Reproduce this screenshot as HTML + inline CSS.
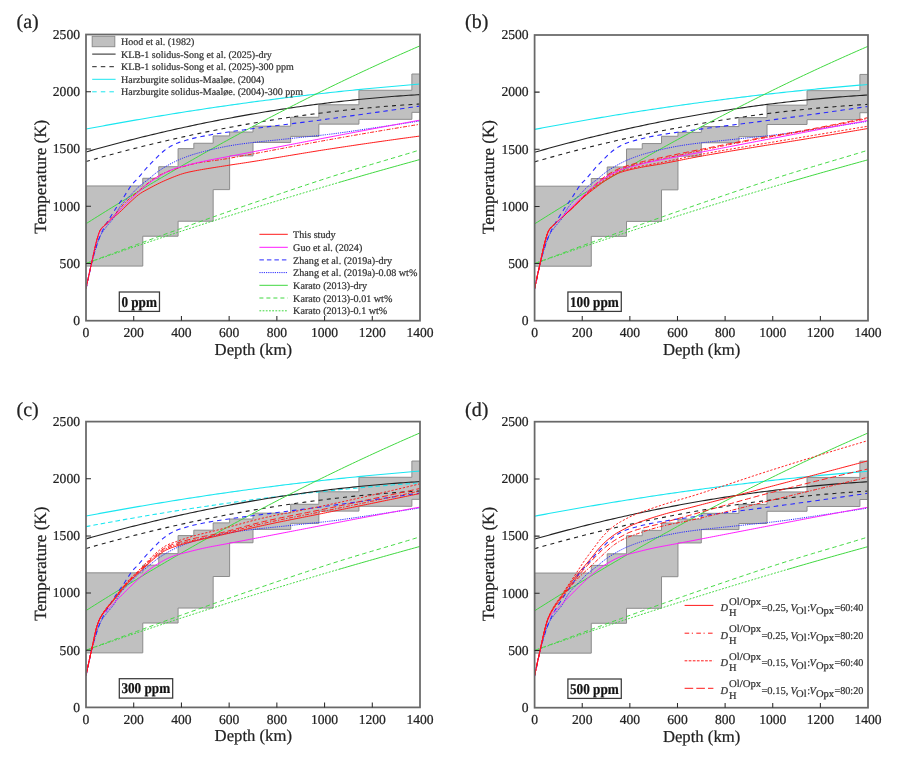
<!DOCTYPE html>
<html><head><meta charset="utf-8"><title>Figure</title>
<style>
html,body{margin:0;padding:0;background:#fff;}
svg{display:block;will-change:transform;text-rendering:geometricPrecision;}
text{font-family:"Liberation Serif","Times New Roman",serif;fill:#222;stroke:#222;stroke-width:0.22px;}
.tk{font-size:13.6px;}
.ax{font-size:17.2px;}
.pl{font-size:20px;}
.lg{font-size:10px;fill:#333;stroke:#333;}
.lg2{font-size:10.4px;fill:#333;stroke:#333;}
.pp{font-size:13.2px;font-weight:bold;fill:#111;}
</style></head><body>
<svg width="900" height="767" viewBox="0 0 900 767">
<rect width="900" height="767" fill="#fff"/>
<clipPath id="clipa"><rect x="86" y="34.5" width="334" height="286.2"/></clipPath>
<g clip-path="url(#clipa)">
<path d="M86,185.96 L142.78,185.96 L142.78,178.29 L158.76,178.29 L158.76,166.72 L178.09,166.72 L178.09,148.64 L193.83,148.64 L193.83,143.26 L213.16,143.26 L213.16,135.93 L229.62,135.93 L229.62,132.04 L253,132.04 L253,126.2 L290.69,126.2 L290.69,117.27 L318.85,117.27 L318.85,104.79 L358.93,104.79 L358.93,90.25 L411.89,90.25 L411.89,74 L420,74 L420,112.35 L411.89,112.35 L411.89,119.33 L358.93,119.33 L358.93,124.14 L318.85,124.14 L318.85,136.39 L290.69,136.39 L290.69,142.45 L253,142.45 L253,155.85 L229.62,155.85 L229.62,189.62 L213.16,189.62 L213.16,221.22 L193.83,221.22 L193.83,221.22 L178.09,221.22 L178.09,236.21 L158.76,236.21 L158.76,236.21 L142.78,236.21 L142.78,266.09 L86,266.09 Z" fill="#c0c0c0" stroke="#8c8c8c" stroke-width="1"/>
<path d="M86,129.06 L88.81,128.53 L91.61,128 L94.42,127.48 L97.23,126.95 L100.03,126.43 L102.84,125.92 L105.65,125.4 L108.45,124.89 L111.26,124.38 L114.07,123.87 L116.87,123.36 L119.68,122.86 L122.49,122.36 L125.29,121.87 L128.1,121.37 L130.91,120.88 L133.71,120.39 L136.52,119.9 L139.33,119.42 L142.13,118.94 L144.94,118.46 L147.75,117.98 L150.55,117.51 L153.36,117.04 L156.17,116.57 L158.97,116.1 L161.78,115.64 L164.59,115.18 L167.39,114.72 L170.2,114.26 L173.01,113.81 L175.82,113.36 L178.62,112.91 L181.43,112.47 L184.24,112.02 L187.04,111.58 L189.85,111.15 L192.66,110.71 L195.46,110.28 L198.27,109.85 L201.08,109.42 L203.88,109 L206.69,108.58 L209.5,108.16 L212.3,107.74 L215.11,107.32 L217.92,106.91 L220.72,106.5 L223.53,106.1 L226.34,105.69 L229.14,105.29 L231.95,104.89 L234.76,104.5 L237.56,104.1 L240.37,103.71 L243.18,103.32 L245.98,102.94 L248.79,102.55 L251.6,102.17 L254.4,101.8 L257.21,101.42 L260.02,101.05 L262.82,100.68 L265.63,100.31 L268.44,99.94 L271.24,99.58 L274.05,99.22 L276.86,98.86 L279.66,98.51 L282.47,98.16 L285.28,97.81 L288.08,97.46 L290.89,97.11 L293.7,96.77 L296.5,96.43 L299.31,96.1 L302.12,95.76 L304.92,95.43 L307.73,95.1 L310.54,94.78 L313.34,94.45 L316.15,94.13 L318.96,93.81 L321.76,93.5 L324.57,93.18 L327.38,92.87 L330.18,92.56 L332.99,92.26 L335.8,91.95 L338.61,91.65 L341.41,91.36 L344.22,91.06 L347.03,90.77 L349.83,90.48 L352.64,90.19 L355.45,89.9 L358.25,89.62 L361.06,89.34 L363.87,89.07 L366.67,88.79 L369.48,88.52 L372.29,88.25 L375.09,87.98 L377.9,87.72 L380.71,87.46 L383.51,87.2 L386.32,86.94 L389.13,86.69 L391.93,86.43 L394.74,86.19 L397.55,85.94 L400.35,85.7 L403.16,85.45 L405.97,85.22 L408.77,84.98 L411.58,84.75 L414.39,84.52 L417.19,84.29 L420,84.06" fill="none" stroke="#1ae6f0" stroke-width="1.1" stroke-linejoin="round"/>
<path d="M86,151.96 L88.81,151.16 L91.61,150.37 L94.42,149.59 L97.23,148.81 L100.03,148.04 L102.84,147.27 L105.65,146.51 L108.45,145.75 L111.26,145 L114.07,144.25 L116.87,143.51 L119.68,142.77 L122.49,142.04 L125.29,141.32 L128.1,140.6 L130.91,139.88 L133.71,139.17 L136.52,138.47 L139.33,137.77 L142.13,137.08 L144.94,136.39 L147.75,135.71 L150.55,135.03 L153.36,134.35 L156.17,133.69 L158.97,133.03 L161.78,132.37 L164.59,131.72 L167.39,131.07 L170.2,130.43 L173.01,129.8 L175.82,129.16 L178.62,128.54 L181.43,127.92 L184.24,127.31 L187.04,126.7 L189.85,126.09 L192.66,125.49 L195.46,124.9 L198.27,124.31 L201.08,123.73 L203.88,123.15 L206.69,122.58 L209.5,122.02 L212.3,121.45 L215.11,120.9 L217.92,120.35 L220.72,119.8 L223.53,119.26 L226.34,118.73 L229.14,118.2 L231.95,117.67 L234.76,117.15 L237.56,116.64 L240.37,116.13 L243.18,115.63 L245.98,115.13 L248.79,114.64 L251.6,114.15 L254.4,113.67 L257.21,113.19 L260.02,112.72 L262.82,112.25 L265.63,111.79 L268.44,111.34 L271.24,110.89 L274.05,110.44 L276.86,110 L279.66,109.57 L282.47,109.14 L285.28,108.71 L288.08,108.3 L290.89,107.88 L293.7,107.47 L296.5,107.07 L299.31,106.67 L302.12,106.28 L304.92,105.9 L307.73,105.51 L310.54,105.14 L313.34,104.77 L316.15,104.4 L318.96,104.04 L321.76,103.69 L324.57,103.34 L327.38,102.99 L330.18,102.65 L332.99,102.32 L335.8,101.99 L338.61,101.67 L341.41,101.35 L344.22,101.04 L347.03,100.73 L349.83,100.43 L352.64,100.13 L355.45,99.84 L358.25,99.55 L361.06,99.27 L363.87,99 L366.67,98.73 L369.48,98.46 L372.29,98.2 L375.09,97.95 L377.9,97.7 L380.71,97.45 L383.51,97.22 L386.32,96.98 L389.13,96.75 L391.93,96.53 L394.74,96.31 L397.55,96.1 L400.35,95.89 L403.16,95.69 L405.97,95.5 L408.77,95.31 L411.58,95.12 L414.39,94.94 L417.19,94.76 L420,94.6" fill="none" stroke="#222" stroke-width="1.1" stroke-linejoin="round"/>
<path d="M86,161.57 L88.81,160.77 L91.61,159.97 L94.42,159.18 L97.23,158.39 L100.03,157.61 L102.84,156.83 L105.65,156.06 L108.45,155.29 L111.26,154.53 L114.07,153.78 L116.87,153.03 L119.68,152.28 L122.49,151.54 L125.29,150.81 L128.1,150.08 L130.91,149.36 L133.71,148.64 L136.52,147.93 L139.33,147.22 L142.13,146.52 L144.94,145.83 L147.75,145.14 L150.55,144.45 L153.36,143.77 L156.17,143.1 L158.97,142.43 L161.78,141.77 L164.59,141.11 L167.39,140.46 L170.2,139.81 L173.01,139.17 L175.82,138.53 L178.62,137.9 L181.43,137.28 L184.24,136.66 L187.04,136.04 L189.85,135.44 L192.66,134.83 L195.46,134.23 L198.27,133.64 L201.08,133.06 L203.88,132.47 L206.69,131.9 L209.5,131.33 L212.3,130.76 L215.11,130.2 L217.92,129.65 L220.72,129.1 L223.53,128.55 L226.34,128.02 L229.14,127.48 L231.95,126.96 L234.76,126.43 L237.56,125.92 L240.37,125.41 L243.18,124.9 L245.98,124.4 L248.79,123.91 L251.6,123.42 L254.4,122.93 L257.21,122.46 L260.02,121.98 L262.82,121.51 L265.63,121.05 L268.44,120.6 L271.24,120.14 L274.05,119.7 L276.86,119.26 L279.66,118.82 L282.47,118.39 L285.28,117.97 L288.08,117.55 L290.89,117.14 L293.7,116.73 L296.5,116.33 L299.31,115.93 L302.12,115.54 L304.92,115.15 L307.73,114.77 L310.54,114.4 L313.34,114.03 L316.15,113.66 L318.96,113.3 L321.76,112.95 L324.57,112.6 L327.38,112.26 L330.18,111.92 L332.99,111.59 L335.8,111.26 L338.61,110.94 L341.41,110.63 L344.22,110.32 L347.03,110.01 L349.83,109.71 L352.64,109.42 L355.45,109.13 L358.25,108.85 L361.06,108.57 L363.87,108.3 L366.67,108.03 L369.48,107.77 L372.29,107.51 L375.09,107.26 L377.9,107.02 L380.71,106.78 L383.51,106.54 L386.32,106.31 L389.13,106.09 L391.93,105.87 L394.74,105.66 L397.55,105.45 L400.35,105.25 L403.16,105.05 L405.97,104.86 L408.77,104.68 L411.58,104.5 L414.39,104.32 L417.19,104.15 L420,103.99" fill="none" stroke="#222" stroke-width="1.1" stroke-dasharray="4 4.2" stroke-linejoin="round"/>
<path d="M86,223.74 L88.81,221.96 L91.61,220.19 L94.42,218.43 L97.23,216.67 L100.03,214.92 L102.84,213.17 L105.65,211.42 L108.45,209.68 L111.26,207.94 L114.07,206.21 L116.87,204.49 L119.68,202.77 L122.49,201.05 L125.29,199.34 L128.1,197.63 L130.91,195.93 L133.71,194.23 L136.52,192.54 L139.33,190.85 L142.13,189.16 L144.94,187.48 L147.75,185.81 L150.55,184.14 L153.36,182.48 L156.17,180.82 L158.97,179.16 L161.78,177.51 L164.59,175.86 L167.39,174.22 L170.2,172.59 L173.01,170.95 L175.82,169.33 L178.62,167.7 L181.43,166.09 L184.24,164.47 L187.04,162.86 L189.85,161.26 L192.66,159.66 L195.46,158.07 L198.27,156.48 L201.08,154.89 L203.88,153.31 L206.69,151.74 L209.5,150.17 L212.3,148.6 L215.11,147.04 L217.92,145.49 L220.72,143.93 L223.53,142.39 L226.34,140.84 L229.14,139.31 L231.95,137.77 L234.76,136.25 L237.56,134.72 L240.37,133.2 L243.18,131.69 L245.98,130.18 L248.79,128.68 L251.6,127.18 L254.4,125.68 L257.21,124.19 L260.02,122.71 L262.82,121.23 L265.63,119.75 L268.44,118.28 L271.24,116.81 L274.05,115.35 L276.86,113.89 L279.66,112.44 L282.47,110.99 L285.28,109.55 L288.08,108.11 L290.89,106.68 L293.7,105.25 L296.5,103.82 L299.31,102.4 L302.12,100.99 L304.92,99.58 L307.73,98.17 L310.54,96.77 L313.34,95.38 L316.15,93.98 L318.96,92.6 L321.76,91.22 L324.57,89.84 L327.38,88.47 L330.18,87.1 L332.99,85.74 L335.8,84.38 L338.61,83.03 L341.41,81.68 L344.22,80.33 L347.03,78.99 L349.83,77.66 L352.64,76.33 L355.45,75 L358.25,73.68 L361.06,72.37 L363.87,71.06 L366.67,69.75 L369.48,68.45 L372.29,67.15 L375.09,65.86 L377.9,64.57 L380.71,63.29 L383.51,62.01 L386.32,60.74 L389.13,59.47 L391.93,58.21 L394.74,56.95 L397.55,55.69 L400.35,54.44 L403.16,53.2 L405.97,51.96 L408.77,50.72 L411.58,49.49 L414.39,48.27 L417.19,47.04 L420,45.83" fill="none" stroke="#40d840" stroke-width="1.0" stroke-linejoin="round"/>
<path d="M86,263.46 L86.73,263.18 L87.47,262.91 L88.1,262.67 L88.2,262.63 L88.94,262.35 L89.67,262.08 L90.2,261.88 L90.4,261.8 L91.14,261.52 L91.87,261.25 L92.3,261.09 L92.61,260.97 L93.34,260.7 L94.07,260.42 L94.4,260.3 L94.81,260.14 L95.54,259.87 L96.28,259.59 L96.5,259.51 L97.01,259.32 L97.75,259.04 L98.48,258.77 L98.6,258.72 L99.21,258.49 L99.95,258.22 L100.68,257.94 L100.7,257.93 L101.42,257.67 L102.15,257.39 L102.81,257.15 L102.88,257.12 L103.62,256.84 L104.35,256.57 L104.91,256.36 L105.09,256.29 L105.82,256.02 L106.55,255.75 L107.01,255.58 L107.29,255.47 L108.02,255.2 L108.76,254.92 L109.11,254.79 L109.49,254.65 L110.22,254.38 L110.96,254.1 L111.21,254.01 L111.69,253.83 L112.43,253.56 L113.16,253.28 L113.31,253.23 L113.89,253.01 L114.63,252.74 L115.41,252.45 L117.51,251.66 L119.61,250.88 L121.71,250.11 L123.81,249.33 L125.91,248.55 L128.01,247.77 L130.11,247 L132.21,246.22 L134.31,245.45 L136.42,244.68 L138.52,243.9 L140.62,243.13 L142.72,242.36 L144.82,241.59 L146.92,240.82 L149.02,240.05 L151.12,239.29 L153.22,238.52 L155.32,237.75 L157.42,236.99 L159.52,236.22 L161.62,235.46 L163.72,234.7 L165.82,233.94 L167.92,233.18 L170.03,232.42 L172.13,231.66 L174.23,230.9 L176.33,230.14 L178.43,229.38 L180.53,228.63 L182.63,227.87 L184.73,227.11 L186.83,226.36 L188.93,225.61 L191.03,224.85 L193.13,224.1 L195.23,223.35 L197.33,222.6 L199.43,221.85 L201.53,221.1 L203.64,220.35 L205.74,219.6 L207.84,218.85 L209.94,218.11 L212.04,217.36 L214.14,216.62 L216.24,215.87 L218.34,215.13 L220.44,214.39 L222.54,213.65 L224.64,212.91 L226.74,212.17 L228.84,211.43 L230.94,210.7 L233.04,209.96 L235.14,209.23 L237.25,208.49 L239.35,207.76 L241.45,207.03 L243.55,206.3 L245.65,205.57 L247.75,204.84 L249.85,204.12 L251.95,203.39 L254.05,202.67 L256.15,201.94 L258.25,201.22 L260.35,200.5 L262.45,199.78 L264.55,199.06 L266.65,198.34 L268.75,197.62 L270.86,196.9 L272.96,196.18 L275.06,195.46 L277.16,194.74 L279.26,194.02 L281.36,193.31 L283.46,192.59 L285.56,191.88 L287.66,191.16 L289.76,190.45 L291.86,189.74 L293.96,189.03 L296.06,188.32 L298.16,187.62 L300.26,186.91 L302.36,186.21 L304.47,185.51 L306.57,184.81 L308.67,184.11 L310.77,183.41 L312.87,182.72 L314.97,182.03 L317.07,181.34 L319.17,180.65 L321.27,179.96 L323.37,179.28 L325.47,178.6 L327.57,177.92 L329.67,177.24 L331.77,176.57 L333.87,175.9 L335.97,175.23 L338.08,174.57 L340.18,173.9 L342.28,173.25 L344.38,172.59 L346.48,171.94 L348.58,171.3 L350.68,170.65 L352.78,170.01 L354.88,169.38 L356.98,168.74 L359.08,168.11 L361.18,167.48 L363.28,166.85 L365.38,166.23 L367.48,165.6 L369.58,164.98 L371.69,164.35 L373.79,163.73 L375.89,163.11 L377.99,162.49 L380.09,161.87 L382.19,161.25 L384.29,160.63 L386.39,160.01 L388.49,159.39 L390.59,158.77 L392.69,158.15 L394.79,157.53 L396.89,156.91 L398.99,156.28 L401.09,155.65 L403.19,155.02 L405.3,154.39 L407.4,153.76 L409.5,153.12 L411.6,152.49 L413.7,151.85 L415.8,151.2 L417.9,150.55 L420,149.9" fill="none" stroke="#40d840" stroke-width="1.0" stroke-dasharray="4.4 3.1" stroke-linejoin="round"/>
<path d="M86,263.46 L88.13,262.72 L90.26,261.98 L92.39,261.24 L94.52,260.5 L96.65,259.76 L98.77,259.02 L100.9,258.29 L103.03,257.55 L105.16,256.82 L107.29,256.08 L109.42,255.35 L111.55,254.62 L113.68,253.89 L115.81,253.16 L117.94,252.43 L120.07,251.71 L122.19,250.98 L124.32,250.25 L126.45,249.53 L128.58,248.81 L130.71,248.09 L132.84,247.36 L134.97,246.65 L137.1,245.93 L139.23,245.21 L141.36,244.49 L143.49,243.78 L145.61,243.06 L147.74,242.35 L149.87,241.63 L152,240.92 L154.13,240.21 L156.26,239.5 L158.39,238.79 L160.52,238.09 L162.65,237.38 L164.78,236.67 L166.91,235.97 L169.03,235.27 L171.16,234.56 L173.29,233.86 L175.42,233.16 L177.55,232.46 L179.68,231.76 L181.81,231.07 L183.94,230.37 L186.07,229.68 L188.2,228.98 L190.33,228.29 L192.45,227.6 L194.58,226.91 L196.71,226.21 L198.84,225.53 L200.97,224.84 L203.1,224.15 L205.23,223.46 L207.36,222.78 L209.49,222.1 L211.62,221.41 L213.75,220.73 L215.88,220.05 L218,219.37 L220.13,218.69 L222.26,218.01 L224.39,217.34 L226.52,216.66 L228.65,215.99 L230.78,215.31 L232.91,214.64 L235.04,213.97 L237.17,213.3 L239.3,212.63 L241.42,211.96 L243.55,211.29 L245.68,210.62 L247.81,209.96 L249.94,209.29 L252.07,208.63 L254.2,207.97 L256.33,207.31 L258.46,206.65 L260.59,205.99 L262.72,205.33 L264.84,204.67 L266.97,204.01 L269.1,203.36 L271.23,202.7 L273.36,202.05 L275.49,201.4 L277.62,200.75 L279.75,200.1 L281.88,199.45 L284.01,198.8 L286.14,198.15 L288.26,197.51 L290.39,196.86 L292.52,196.22 L294.65,195.57 L296.78,194.93 L298.91,194.29 L301.04,193.65 L303.17,193.01 L305.3,192.37 L307.43,191.74 L309.56,191.1 L311.68,190.47 L313.81,189.83 L315.94,189.2 L318.07,188.57 L320.2,187.94 L322.33,187.31 L324.46,186.68 L326.59,186.05 L328.72,185.42 L330.85,184.8 L332.98,184.17 L335.1,183.55 L337.23,182.93 L339.36,182.3" fill="none" stroke="#40d840" stroke-width="1.0" stroke-dasharray="1.9 1.5" stroke-linejoin="round"/>
<path d="M338.89,182.44 L341.68,181.63 L344.48,180.81 L347.28,180 L350.07,179.19 L352.87,178.38 L355.67,177.58 L358.47,176.77 L361.26,175.97 L364.06,175.17 L366.86,174.37 L369.65,173.57 L372.45,172.78 L375.25,171.98 L378.04,171.19 L380.84,170.4 L383.64,169.61 L386.44,168.82 L389.23,168.04 L392.03,167.25 L394.83,166.47 L397.62,165.69 L400.42,164.91 L403.22,164.14 L406.01,163.36 L408.81,162.59 L411.61,161.82 L414.41,161.05 L417.2,160.28 L420,159.51" fill="none" stroke="#40d840" stroke-width="1.0" stroke-linejoin="round"/>
<path d="M86,289.1 L86.73,285.89 L87.47,282.64 L88.1,279.72 L88.2,279.25 L88.94,275.78 L89.67,272.28 L90.2,269.76 L90.4,268.81 L91.14,265.44 L91.87,262.23 L92.3,260.45 L92.61,259.23 L93.34,256.51 L94.07,253.92 L94.4,252.79 L94.81,251.42 L95.54,249 L96.28,246.67 L96.5,245.98 L97.01,244.44 L97.75,242.3 L98.48,240.26 L98.6,239.92 L99.21,238.32 L99.95,236.48 L100.68,234.76 L100.7,234.71 L101.42,233.12 L102.15,231.56 L102.81,230.21 L102.88,230.05 L103.62,228.6 L104.35,227.2 L104.91,226.18 L105.09,225.85 L105.82,224.54 L106.55,223.26 L107.01,222.49 L107.29,222.02 L108.02,220.8 L108.76,219.61 L109.11,219.04 L109.49,218.42 L110.22,217.25 L110.96,216.09 L111.21,215.69 L111.69,214.93 L112.43,213.76 L113.16,212.58 L113.31,212.34 L113.89,211.4 L114.63,210.24 L115.41,209.04 L117.51,205.9 L119.61,202.9 L121.71,200.01 L123.81,196.96 L125.91,193.63 L128.01,190.33 L130.11,187.05 L132.21,184.12 L134.31,181.84 L136.42,179.78 L138.52,177.52 L140.62,175.06 L142.72,172.54 L144.82,170.01 L146.92,167.58 L149.02,165.3 L151.12,163.12 L153.22,161 L155.32,158.91 L157.42,156.79 L159.52,154.71 L161.62,152.74 L163.72,150.96 L165.82,149.34 L167.92,147.88 L170.03,146.6 L172.13,145.43 L174.23,144.37 L176.33,143.44 L178.43,142.64 L180.53,141.93 L182.63,141.29 L184.73,140.68 L186.83,140.08 L188.93,139.49 L191.03,138.92 L193.13,138.39 L195.23,137.88 L197.33,137.4 L199.43,136.94 L201.53,136.51 L203.64,136.09 L205.74,135.69 L207.84,135.3 L209.94,134.92 L212.04,134.56 L214.14,134.21 L216.24,133.87 L218.34,133.54 L220.44,133.22 L222.54,132.9 L224.64,132.58 L226.74,132.27 L228.84,131.96 L230.94,131.66 L233.04,131.37 L235.14,131.08 L237.25,130.79 L239.35,130.5 L241.45,130.22 L243.55,129.93 L245.65,129.65 L247.75,129.37 L249.85,129.09 L251.95,128.81 L254.05,128.54 L256.15,128.26 L258.25,127.99 L260.35,127.71 L262.45,127.44 L264.55,127.17 L266.65,126.9 L268.75,126.63 L270.86,126.36 L272.96,126.09 L275.06,125.82 L277.16,125.56 L279.26,125.29 L281.36,125.02 L283.46,124.76 L285.56,124.49 L287.66,124.22 L289.76,123.96 L291.86,123.69 L293.96,123.42 L296.06,123.16 L298.16,122.89 L300.26,122.62 L302.36,122.35 L304.47,122.08 L306.57,121.81 L308.67,121.54 L310.77,121.27 L312.87,121 L314.97,120.73 L317.07,120.45 L319.17,120.18 L321.27,119.9 L323.37,119.62 L325.47,119.34 L327.57,119.06 L329.67,118.78 L331.77,118.49 L333.87,118.21 L335.97,117.92 L338.08,117.64 L340.18,117.35 L342.28,117.06 L344.38,116.78 L346.48,116.49 L348.58,116.2 L350.68,115.91 L352.78,115.62 L354.88,115.33 L356.98,115.04 L359.08,114.75 L361.18,114.46 L363.28,114.16 L365.38,113.87 L367.48,113.58 L369.58,113.28 L371.69,112.99 L373.79,112.69 L375.89,112.4 L377.99,112.1 L380.09,111.8 L382.19,111.5 L384.29,111.21 L386.39,110.91 L388.49,110.61 L390.59,110.31 L392.69,110.01 L394.79,109.71 L396.89,109.4 L398.99,109.1 L401.09,108.8 L403.19,108.5 L405.3,108.19 L407.4,107.89 L409.5,107.58 L411.6,107.28 L413.7,106.97 L415.8,106.66 L417.9,106.36 L420,106.05" fill="none" stroke="#2a2aff" stroke-width="1.1" stroke-dasharray="4.5 3.9" stroke-linejoin="round"/>
<path d="M86,288.65 L86.73,284.99 L87.47,281.4 L88.1,278.39 L88.2,277.91 L88.94,274.53 L89.67,271.26 L90.2,268.99 L90.4,268.13 L91.14,265.15 L91.87,262.33 L92.3,260.72 L92.61,259.57 L93.34,256.84 L94.07,254.14 L94.4,252.96 L94.81,251.51 L95.54,248.96 L96.28,246.51 L96.5,245.77 L97.01,244.18 L97.75,241.99 L98.48,239.97 L98.6,239.64 L99.21,238.13 L99.95,236.49 L100.68,235.05 L100.7,235.01 L101.42,233.75 L102.15,232.56 L102.81,231.57 L102.88,231.45 L103.62,230.42 L104.35,229.44 L104.91,228.71 L105.09,228.48 L105.82,227.54 L106.55,226.58 L107.01,225.99 L107.29,225.63 L108.02,224.73 L108.76,223.88 L109.11,223.48 L109.49,223.05 L110.22,222.24 L110.96,221.41 L111.21,221.13 L111.69,220.56 L112.43,219.66 L113.16,218.69 L113.31,218.48 L113.89,217.63 L114.63,216.4 L115.41,214.91 L117.51,210.62 L119.61,207.18 L121.71,204.46 L123.81,202.05 L125.91,199.84 L128.01,197.73 L130.11,195.6 L132.21,193.4 L134.31,191.19 L136.42,189.04 L138.52,187.01 L140.62,185.15 L142.72,183.51 L144.82,181.98 L146.92,180.4 L149.02,178.72 L151.12,176.97 L153.22,175.22 L155.32,173.51 L157.42,171.91 L159.52,170.45 L161.62,169.08 L163.72,167.77 L165.82,166.5 L167.92,165.29 L170.03,164.12 L172.13,163.01 L174.23,161.94 L176.33,160.92 L178.43,159.96 L180.53,159.07 L182.63,158.24 L184.73,157.44 L186.83,156.67 L188.93,155.91 L191.03,155.19 L193.13,154.51 L195.23,153.87 L197.33,153.26 L199.43,152.68 L201.53,152.1 L203.64,151.54 L205.74,150.99 L207.84,150.46 L209.94,149.94 L212.04,149.44 L214.14,148.95 L216.24,148.47 L218.34,148.01 L220.44,147.57 L222.54,147.14 L224.64,146.72 L226.74,146.32 L228.84,145.94 L230.94,145.57 L233.04,145.22 L235.14,144.88 L237.25,144.56 L239.35,144.25 L241.45,143.96 L243.55,143.67 L245.65,143.4 L247.75,143.13 L249.85,142.88 L251.95,142.62 L254.05,142.38 L256.15,142.14 L258.25,141.9 L260.35,141.67 L262.45,141.44 L264.55,141.22 L266.65,141 L268.75,140.78 L270.86,140.56 L272.96,140.35 L275.06,140.13 L277.16,139.91 L279.26,139.69 L281.36,139.47 L283.46,139.25 L285.56,139.03 L287.66,138.8 L289.76,138.57 L291.86,138.34 L293.96,138.12 L296.06,137.89 L298.16,137.67 L300.26,137.45 L302.36,137.23 L304.47,137.01 L306.57,136.8 L308.67,136.58 L310.77,136.36 L312.87,136.13 L314.97,135.91 L317.07,135.68 L319.17,135.45 L321.27,135.22 L323.37,134.98 L325.47,134.74 L327.57,134.49 L329.67,134.23 L331.77,133.97 L333.87,133.71 L335.97,133.43 L338.08,133.15 L340.18,132.86 L342.28,132.57 L344.38,132.28 L346.48,131.98 L348.58,131.67 L350.68,131.37 L352.78,131.06 L354.88,130.74 L356.98,130.43 L359.08,130.12 L361.18,129.8 L363.28,129.49 L365.38,129.17 L367.48,128.86 L369.58,128.54 L371.69,128.23 L373.79,127.92 L375.89,127.61 L377.99,127.3 L380.09,126.99 L382.19,126.68 L384.29,126.37 L386.39,126.05 L388.49,125.74 L390.59,125.42 L392.69,125.11 L394.79,124.79 L396.89,124.47 L398.99,124.16 L401.09,123.84 L403.19,123.52 L405.3,123.2 L407.4,122.88 L409.5,122.55 L411.6,122.23 L413.7,121.91 L415.8,121.58 L417.9,121.26 L420,120.93" fill="none" stroke="#2a2aff" stroke-width="1.0" stroke-dasharray="1.2 1.0" stroke-linejoin="round"/>
<path d="M86,288.65 L86.73,285.1 L87.2,282.87 L87.47,281.59 L88.2,278.13 L88.4,277.21 L88.94,274.7 L89.6,271.66 L89.67,271.32 L90.4,267.98 L90.8,266.22 L91.14,264.69 L91.87,261.44 L92,260.89 L92.61,258.14 L93.19,255.45 L93.34,254.79 L94.07,251.46 L94.39,250.03 L94.81,248.2 L95.54,245.08 L95.59,244.87 L96.28,242.16 L96.79,240.26 L97.01,239.49 L97.75,237.12 L97.99,236.36 L98.48,234.89 L99.19,232.95 L99.21,232.89 L99.95,231.27 L100.39,230.52 L100.68,230.07 L101.42,229.03 L101.59,228.8 L102.15,228.11 L102.79,227.38 L102.88,227.27 L103.62,226.52 L103.99,226.16 L104.35,225.82 L105.09,225.16 L105.19,225.07 L105.82,224.51 L106.39,224.02 L106.55,223.87 L107.29,223.21 L107.58,222.93 L108.02,222.5 L108.76,221.75 L108.78,221.72" fill="none" stroke="#ff1aff" stroke-width="1.0" stroke-linejoin="round"/>
<path d="M86,288.65 L86.73,285.18 L87.47,281.75 L88.1,278.81 L88.2,278.34 L88.94,274.97 L89.67,271.62 L90.2,269.22 L90.4,268.3 L91.14,265.01 L91.87,261.75 L92.3,259.83 L92.61,258.44 L93.34,255.06 L94.07,251.68 L94.4,250.18 L94.81,248.35 L95.54,245.15 L96.28,242.14 L96.5,241.26 L97.01,239.37 L97.75,236.9 L98.48,234.53 L98.6,234.14 L99.21,232.38 L99.95,230.69 L100.68,229.53 L100.7,229.5 L101.42,228.56 L102.15,227.73 L102.81,227.07 L102.88,227 L103.62,226.34 L104.35,225.72 L104.91,225.27 L105.09,225.12 L105.82,224.51 L106.55,223.86 L107.01,223.42 L107.29,223.15 L108.02,222.44 L108.76,221.73 L109.11,221.4 L109.49,221.03 L110.22,220.33 L110.96,219.64 L111.21,219.41 L111.69,218.96 L112.43,218.3 L113.16,217.64 L113.31,217.52 L113.89,217.01 L114.63,216.4 L115.41,215.79 L117.51,214.15 L119.61,212.31 L121.71,210.34 L123.81,208.29 L125.91,206.2 L128.01,204.14 L130.11,202.15 L132.21,200.25 L134.31,198.33 L136.42,196.47 L138.52,194.74 L140.62,193.24 L142.72,191.94 L144.82,190.78 L146.92,189.65 L149.02,188.5 L151.12,187.35 L153.22,186.22 L155.32,185.13 L157.42,184.08 L159.52,183.06 L161.62,182.06 L163.72,181.09 L165.82,180.16 L167.92,179.27 L170.03,178.4 L172.13,177.54 L174.23,176.7 L176.33,175.89 L178.43,175.11 L180.53,174.38 L182.63,173.7 L184.73,173.1 L186.83,172.55 L188.93,172.06 L191.03,171.61 L193.13,171.19 L195.23,170.78 L197.33,170.38 L199.43,170 L201.53,169.62 L203.64,169.26 L205.74,168.9 L207.84,168.56 L209.94,168.22 L212.04,167.88 L214.14,167.55 L216.24,167.22 L218.34,166.89 L220.44,166.57 L222.54,166.24 L224.64,165.91 L226.74,165.58 L228.84,165.25 L230.94,164.92 L233.04,164.6 L235.14,164.28 L237.25,163.96 L239.35,163.65 L241.45,163.33 L243.55,163.01 L245.65,162.69 L247.75,162.37 L249.85,162.04 L251.95,161.71 L254.05,161.37 L256.15,161.04 L258.25,160.7 L260.35,160.36 L262.45,160.02 L264.55,159.67 L266.65,159.33 L268.75,158.98 L270.86,158.64 L272.96,158.29 L275.06,157.94 L277.16,157.59 L279.26,157.24 L281.36,156.89 L283.46,156.53 L285.56,156.18 L287.66,155.83 L289.76,155.48 L291.86,155.13 L293.96,154.78 L296.06,154.43 L298.16,154.08 L300.26,153.73 L302.36,153.38 L304.47,153.03 L306.57,152.69 L308.67,152.34 L310.77,152 L312.87,151.66 L314.97,151.32 L317.07,150.98 L319.17,150.64 L321.27,150.31 L323.37,149.98 L325.47,149.65 L327.57,149.33 L329.67,149 L331.77,148.68 L333.87,148.36 L335.97,148.04 L338.08,147.72 L340.18,147.41 L342.28,147.09 L344.38,146.77 L346.48,146.46 L348.58,146.15 L350.68,145.83 L352.78,145.52 L354.88,145.21 L356.98,144.9 L359.08,144.59 L361.18,144.28 L363.28,143.97 L365.38,143.67 L367.48,143.36 L369.58,143.05 L371.69,142.75 L373.79,142.45 L375.89,142.15 L377.99,141.85 L380.09,141.55 L382.19,141.25 L384.29,140.95 L386.39,140.65 L388.49,140.36 L390.59,140.06 L392.69,139.77 L394.79,139.47 L396.89,139.18 L398.99,138.89 L401.09,138.6 L403.19,138.31 L405.3,138.03 L407.4,137.74 L409.5,137.45 L411.6,137.17 L413.7,136.89 L415.8,136.6 L417.9,136.32 L420,136.04" fill="none" stroke="#ff1a1a" stroke-width="1.0" stroke-linejoin="round"/>
<path d="M86,288.65 L86.73,285.18 L87.47,281.75 L88.1,278.81 L88.2,278.34 L88.94,274.97 L89.67,271.62 L90.2,269.22 L90.4,268.3 L91.14,265.01 L91.87,261.75 L92.3,259.83 L92.61,258.45 L93.34,255.08 L94.07,251.71 L94.4,250.22 L94.81,248.4 L95.54,245.21 L96.28,242.19 L96.5,241.3 L97.01,239.4 L97.75,236.88 L98.48,234.45 L98.6,234.06 L99.21,232.25 L99.95,230.49 L100.68,229.25 L100.7,229.22 L101.42,228.22 L102.15,227.32 L102.81,226.61 L102.88,226.53 L103.62,225.81 L104.35,225.14 L104.91,224.65 L105.09,224.48 L105.82,223.81 L106.55,223.08 L107.01,222.6 L107.29,222.3 L108.02,221.52 L108.76,220.74 L109.11,220.37 L109.49,219.97 L110.22,219.2 L110.96,218.43 L111.21,218.17 L111.69,217.66 L112.43,216.89 L113.16,216.12 L113.31,215.97 L113.89,215.35 L114.63,214.56 L115.41,213.72 L117.51,211.39 L119.61,208.93 L121.71,206.44 L123.81,204.04 L125.91,201.83 L128.01,199.87 L130.11,198.07 L132.21,196.34 L134.31,194.63 L136.42,192.84 L138.52,191.01 L140.62,189.18 L142.72,187.39 L144.82,185.68 L146.92,184.03 L149.02,182.39 L151.12,180.78 L153.22,179.24 L155.32,177.8 L157.42,176.49 L159.52,175.33 L161.62,174.26 L163.72,173.27 L165.82,172.35 L167.92,171.48 L170.03,170.67 L172.13,169.91 L174.23,169.21 L176.33,168.56 L178.43,167.95 L180.53,167.37 L182.63,166.8 L184.73,166.23 L186.83,165.64 L188.93,165.05 L191.03,164.47 L193.13,163.93 L195.23,163.46 L197.33,163.05 L199.43,162.67 L201.53,162.32 L203.64,161.99 L205.74,161.68 L207.84,161.38 L209.94,161.09 L212.04,160.81 L214.14,160.53 L216.24,160.25 L218.34,159.97 L220.44,159.67 L222.54,159.37 L224.64,159.04 L226.74,158.7 L228.84,158.34 L230.94,157.98 L233.04,157.6 L235.14,157.22 L237.25,156.84 L239.35,156.44 L241.45,156.05 L243.55,155.66 L245.65,155.26 L247.75,154.87 L249.85,154.48 L251.95,154.1 L254.05,153.71 L256.15,153.32 L258.25,152.93 L260.35,152.54 L262.45,152.15 L264.55,151.75 L266.65,151.36 L268.75,150.96 L270.86,150.57 L272.96,150.17 L275.06,149.78 L277.16,149.38 L279.26,148.98 L281.36,148.58 L283.46,148.19 L285.56,147.79 L287.66,147.39 L289.76,147 L291.86,146.6 L293.96,146.2 L296.06,145.81 L298.16,145.41 L300.26,145.02 L302.36,144.62 L304.47,144.23 L306.57,143.84 L308.67,143.45 L310.77,143.06 L312.87,142.67 L314.97,142.28 L317.07,141.9 L319.17,141.51 L321.27,141.13 L323.37,140.75 L325.47,140.37 L327.57,139.99 L329.67,139.62 L331.77,139.25 L333.87,138.87 L335.97,138.5 L338.08,138.13 L340.18,137.76 L342.28,137.39 L344.38,137.02 L346.48,136.65 L348.58,136.28 L350.68,135.92 L352.78,135.55 L354.88,135.18 L356.98,134.82 L359.08,134.46 L361.18,134.09 L363.28,133.73 L365.38,133.37 L367.48,133.01 L369.58,132.65 L371.69,132.29 L373.79,131.93 L375.89,131.57 L377.99,131.21 L380.09,130.86 L382.19,130.5 L384.29,130.15 L386.39,129.8 L388.49,129.44 L390.59,129.09 L392.69,128.74 L394.79,128.39 L396.89,128.04 L398.99,127.69 L401.09,127.34 L403.19,127 L405.3,126.65 L407.4,126.3 L409.5,125.96 L411.6,125.62 L413.7,125.27 L415.8,124.93 L417.9,124.59 L420,124.25" fill="none" stroke="#ff1a1a" stroke-width="1.0" stroke-dasharray="4 1.5 1.3 1.5" stroke-linejoin="round"/>
<path d="M108.66,221.84 L108.82,221.68 L108.97,221.52 L109.12,221.36 L109.28,221.2 L109.43,221.04 L109.58,220.88 L109.73,220.72 L109.89,220.56 L110.04,220.4 L110.19,220.24 L110.35,220.08 L110.5,219.92 L110.62,219.79 L110.65,219.76 L110.81,219.6 L110.96,219.44 L111.11,219.28 L111.26,219.12 L111.42,218.96 L111.57,218.8 L111.72,218.64 L111.88,218.48 L112.03,218.32 L112.18,218.16 L112.33,218 L112.49,217.84 L112.58,217.75 L112.64,217.68 L112.79,217.52 L112.95,217.36 L113.1,217.2 L113.25,217.05 L113.41,216.89 L113.56,216.73 L113.71,216.57 L113.86,216.41 L114.02,216.25 L114.17,216.09 L114.32,215.93 L114.48,215.77 L114.54,215.71 L114.63,215.62 L116.5,213.68 L118.45,211.67 L120.41,209.68 L122.37,207.69 L124.33,205.72 L126.29,203.76 L128.25,201.81 L130.2,199.89 L132.16,197.99 L134.12,196.13 L136.08,194.27 L138.04,192.43 L139.99,190.61 L141.95,188.86 L143.91,187.17 L145.87,185.57 L147.83,184 L149.78,182.47 L151.74,180.99 L153.7,179.59 L155.66,178.27 L157.62,177.06 L159.57,175.89 L161.53,174.76 L163.49,173.67 L165.45,172.63 L167.41,171.66 L169.36,170.76 L171.32,169.94 L173.28,169.2 L175.24,168.53 L177.2,167.92 L179.16,167.35 L181.11,166.81 L183.07,166.3 L185.03,165.8 L186.99,165.31 L188.95,164.82 L190.9,164.32 L192.86,163.83 L194.82,163.34 L196.78,162.87 L198.74,162.4 L200.69,161.94 L202.65,161.5 L204.61,161.07 L206.57,160.65 L208.53,160.25 L210.48,159.87 L212.44,159.49 L214.4,159.12 L216.36,158.76 L218.32,158.41 L220.28,158.05 L222.23,157.69 L224.19,157.33 L226.15,156.96 L228.11,156.59 L230.07,156.22 L232.02,155.84 L233.98,155.47 L235.94,155.1 L237.9,154.72 L239.86,154.35 L241.81,153.97 L243.77,153.6 L245.73,153.22 L247.69,152.85 L249.65,152.47 L251.6,152.09 L253.56,151.72 L255.52,151.34 L257.48,150.96 L259.44,150.58 L261.4,150.21 L263.35,149.83 L265.31,149.45 L267.27,149.07 L269.23,148.7 L271.19,148.32 L273.14,147.94 L275.1,147.56 L277.06,147.19 L279.02,146.81 L280.98,146.43 L282.93,146.05 L284.89,145.67 L286.85,145.29 L288.81,144.92 L290.77,144.54 L292.72,144.16 L294.68,143.78 L296.64,143.4 L298.6,143.03 L300.56,142.65 L302.51,142.27 L304.47,141.9 L306.43,141.52 L308.39,141.14 L310.35,140.76 L312.31,140.39 L314.26,140.01 L316.22,139.64 L318.18,139.26 L320.14,138.88 L322.1,138.51 L324.05,138.13 L326.01,137.76 L327.97,137.38 L329.93,137.01 L331.89,136.63 L333.84,136.26 L335.8,135.88 L337.76,135.51 L339.72,135.13 L341.68,134.76 L343.63,134.39 L345.59,134.01 L347.55,133.64 L349.51,133.26 L351.47,132.89 L353.43,132.52 L355.38,132.14 L357.34,131.77 L359.3,131.4 L361.26,131.03 L363.22,130.66 L365.17,130.29 L367.13,129.92 L369.09,129.55 L371.05,129.18 L373.01,128.81 L374.96,128.44 L376.92,128.08 L378.88,127.71 L380.84,127.35 L382.8,126.98 L384.75,126.62 L386.71,126.25 L388.67,125.89 L390.63,125.52 L392.59,125.16 L394.54,124.8 L396.5,124.44 L398.46,124.08 L400.42,123.72 L402.38,123.35 L404.34,122.99 L406.29,122.64 L408.25,122.28 L410.21,121.92 L412.17,121.56 L414.13,121.2 L416.08,120.84 L418.04,120.49 L420,120.13" fill="none" stroke="#ff1aff" stroke-width="1.0" stroke-linejoin="round"/>
</g>
<rect x="86" y="34.5" width="334" height="286.2" fill="none" stroke="#686868" stroke-width="1.75"/>
<path d="M133.71,320.7 V315.9 M181.43,320.7 V315.9 M229.14,320.7 V315.9 M276.86,320.7 V315.9 M324.57,320.7 V315.9 M372.29,320.7 V315.9 M86,263.46 H91 M86,206.22 H91 M86,148.98 H91 M86,91.74 H91" stroke="#2a2a2a" stroke-width="1.05" fill="none"/>
<text x="86" y="337.2" class="tk" text-anchor="middle">0</text>
<text x="133.71" y="337.2" class="tk" text-anchor="middle">200</text>
<text x="181.43" y="337.2" class="tk" text-anchor="middle">400</text>
<text x="229.14" y="337.2" class="tk" text-anchor="middle">600</text>
<text x="276.86" y="337.2" class="tk" text-anchor="middle">800</text>
<text x="324.57" y="337.2" class="tk" text-anchor="middle">1000</text>
<text x="372.29" y="337.2" class="tk" text-anchor="middle">1200</text>
<text x="420" y="337.2" class="tk" text-anchor="middle">1400</text>
<text x="80" y="325" class="tk" text-anchor="end">0</text>
<text x="80" y="267.76" class="tk" text-anchor="end">500</text>
<text x="80" y="210.52" class="tk" text-anchor="end">1000</text>
<text x="80" y="153.28" class="tk" text-anchor="end">1500</text>
<text x="80" y="96.04" class="tk" text-anchor="end">2000</text>
<text x="80" y="38.8" class="tk" text-anchor="end">2500</text>
<text x="253.3" y="354.5" class="ax" text-anchor="middle" style="font-size:16.7px">Depth (km)</text>
<text transform="translate(45.8,176.8) rotate(-90)" class="ax" text-anchor="middle" style="font-size:17.1px">Temperature (K)</text>
<text x="16.5" y="28.3" class="pl">(a)</text>
<rect x="119.3" y="292" width="40.18" height="19.4" fill="#fff" stroke="#3a3a3a" stroke-width="1.25"/><text transform="translate(121.4,306.7) scale(1,1.13)" class="pp">0 ppm</text>
<clipPath id="clipb"><rect x="534.6" y="35" width="333.4" height="285.7"/></clipPath>
<g clip-path="url(#clipb)">
<path d="M534.6,186.19 L591.28,186.19 L591.28,178.54 L607.23,178.54 L607.23,166.99 L626.52,166.99 L626.52,148.94 L642.24,148.94 L642.24,143.57 L661.53,143.57 L661.53,136.25 L677.96,136.25 L677.96,132.37 L701.3,132.37 L701.3,126.54 L738.93,126.54 L738.93,117.62 L767.03,117.62 L767.03,105.17 L807.04,105.17 L807.04,90.65 L859.9,90.65 L859.9,74.43 L868,74.43 L868,112.71 L859.9,112.71 L859.9,119.68 L807.04,119.68 L807.04,124.48 L767.03,124.48 L767.03,136.71 L738.93,136.71 L738.93,142.77 L701.3,142.77 L701.3,156.14 L677.96,156.14 L677.96,189.85 L661.53,189.85 L661.53,221.39 L642.24,221.39 L642.24,221.39 L626.52,221.39 L626.52,236.36 L607.23,236.36 L607.23,236.36 L591.28,236.36 L591.28,266.19 L534.6,266.19 Z" fill="#c0c0c0" stroke="#8c8c8c" stroke-width="1"/>
<path d="M534.6,129.4 L537.4,128.87 L540.2,128.34 L543.01,127.81 L545.81,127.29 L548.61,126.77 L551.41,126.26 L554.21,125.74 L557.01,125.23 L559.82,124.72 L562.62,124.21 L565.42,123.71 L568.22,123.21 L571.02,122.71 L573.82,122.21 L576.63,121.72 L579.43,121.23 L582.23,120.74 L585.03,120.25 L587.83,119.77 L590.63,119.29 L593.44,118.81 L596.24,118.34 L599.04,117.86 L601.84,117.39 L604.64,116.93 L607.44,116.46 L610.25,116 L613.05,115.54 L615.85,115.08 L618.65,114.62 L621.45,114.17 L624.25,113.72 L627.06,113.28 L629.86,112.83 L632.66,112.39 L635.46,111.95 L638.26,111.51 L641.06,111.08 L643.87,110.65 L646.67,110.22 L649.47,109.79 L652.27,109.37 L655.07,108.95 L657.87,108.53 L660.68,108.11 L663.48,107.7 L666.28,107.29 L669.08,106.88 L671.88,106.47 L674.68,106.07 L677.49,105.67 L680.29,105.27 L683.09,104.87 L685.89,104.48 L688.69,104.09 L691.49,103.7 L694.3,103.32 L697.1,102.94 L699.9,102.56 L702.7,102.18 L705.5,101.8 L708.3,101.43 L711.11,101.06 L713.91,100.69 L716.71,100.33 L719.51,99.97 L722.31,99.61 L725.11,99.25 L727.92,98.9 L730.72,98.55 L733.52,98.2 L736.32,97.85 L739.12,97.51 L741.92,97.16 L744.73,96.83 L747.53,96.49 L750.33,96.16 L753.13,95.82 L755.93,95.5 L758.73,95.17 L761.54,94.85 L764.34,94.53 L767.14,94.21 L769.94,93.89 L772.74,93.58 L775.54,93.27 L778.35,92.96 L781.15,92.66 L783.95,92.35 L786.75,92.05 L789.55,91.76 L792.35,91.46 L795.16,91.17 L797.96,90.88 L800.76,90.59 L803.56,90.31 L806.36,90.03 L809.16,89.75 L811.97,89.47 L814.77,89.2 L817.57,88.92 L820.37,88.65 L823.17,88.39 L825.97,88.12 L828.78,87.86 L831.58,87.6 L834.38,87.35 L837.18,87.09 L839.98,86.84 L842.78,86.6 L845.59,86.35 L848.39,86.11 L851.19,85.87 L853.99,85.63 L856.79,85.39 L859.59,85.16 L862.4,84.93 L865.2,84.7 L868,84.48" fill="none" stroke="#1ae6f0" stroke-width="1.1" stroke-linejoin="round"/>
<path d="M534.6,152.25 L537.4,151.46 L540.2,150.67 L543.01,149.89 L545.81,149.11 L548.61,148.34 L551.41,147.57 L554.21,146.81 L557.01,146.06 L559.82,145.31 L562.62,144.56 L565.42,143.82 L568.22,143.09 L571.02,142.36 L573.82,141.63 L576.63,140.91 L579.43,140.2 L582.23,139.49 L585.03,138.79 L587.83,138.09 L590.63,137.4 L593.44,136.71 L596.24,136.03 L599.04,135.35 L601.84,134.68 L604.64,134.01 L607.44,133.35 L610.25,132.7 L613.05,132.05 L615.85,131.4 L618.65,130.76 L621.45,130.13 L624.25,129.5 L627.06,128.88 L629.86,128.26 L632.66,127.64 L635.46,127.04 L638.26,126.43 L641.06,125.84 L643.87,125.24 L646.67,124.66 L649.47,124.08 L652.27,123.5 L655.07,122.93 L657.87,122.36 L660.68,121.8 L663.48,121.25 L666.28,120.7 L669.08,120.15 L671.88,119.61 L674.68,119.08 L677.49,118.55 L680.29,118.03 L683.09,117.51 L685.89,117 L688.69,116.49 L691.49,115.99 L694.3,115.49 L697.1,115 L699.9,114.51 L702.7,114.03 L705.5,113.55 L708.3,113.08 L711.11,112.62 L713.91,112.16 L716.71,111.7 L719.51,111.25 L722.31,110.81 L725.11,110.37 L727.92,109.94 L730.72,109.51 L733.52,109.08 L736.32,108.67 L739.12,108.25 L741.92,107.85 L744.73,107.45 L747.53,107.05 L750.33,106.66 L753.13,106.27 L755.93,105.89 L758.73,105.51 L761.54,105.14 L764.34,104.78 L767.14,104.42 L769.94,104.07 L772.74,103.72 L775.54,103.37 L778.35,103.03 L781.15,102.7 L783.95,102.37 L786.75,102.05 L789.55,101.73 L792.35,101.42 L795.16,101.11 L797.96,100.81 L800.76,100.52 L803.56,100.23 L806.36,99.94 L809.16,99.66 L811.97,99.38 L814.77,99.11 L817.57,98.85 L820.37,98.59 L823.17,98.34 L825.97,98.09 L828.78,97.84 L831.58,97.61 L834.38,97.37 L837.18,97.15 L839.98,96.92 L842.78,96.71 L845.59,96.49 L848.39,96.29 L851.19,96.09 L853.99,95.89 L856.79,95.7 L859.59,95.51 L862.4,95.33 L865.2,95.16 L868,94.99" fill="none" stroke="#222" stroke-width="1.1" stroke-linejoin="round"/>
<path d="M534.6,161.85 L537.4,161.05 L540.2,160.25 L543.01,159.46 L545.81,158.67 L548.61,157.89 L551.41,157.12 L554.21,156.35 L557.01,155.58 L559.82,154.82 L562.62,154.07 L565.42,153.32 L568.22,152.58 L571.02,151.84 L573.82,151.11 L576.63,150.38 L579.43,149.66 L582.23,148.94 L585.03,148.23 L587.83,147.53 L590.63,146.83 L593.44,146.13 L596.24,145.44 L599.04,144.76 L601.84,144.08 L604.64,143.41 L607.44,142.74 L610.25,142.08 L613.05,141.42 L615.85,140.77 L618.65,140.13 L621.45,139.49 L624.25,138.85 L627.06,138.22 L629.86,137.6 L632.66,136.98 L635.46,136.37 L638.26,135.76 L641.06,135.16 L643.87,134.56 L646.67,133.97 L649.47,133.38 L652.27,132.8 L655.07,132.23 L657.87,131.66 L660.68,131.09 L663.48,130.53 L666.28,129.98 L669.08,129.43 L671.88,128.89 L674.68,128.35 L677.49,127.82 L680.29,127.3 L683.09,126.77 L685.89,126.26 L688.69,125.75 L691.49,125.24 L694.3,124.74 L697.1,124.25 L699.9,123.76 L702.7,123.28 L705.5,122.8 L708.3,122.33 L711.11,121.86 L713.91,121.4 L716.71,120.95 L719.51,120.49 L722.31,120.05 L725.11,119.61 L727.92,119.18 L730.72,118.75 L733.52,118.32 L736.32,117.91 L739.12,117.49 L741.92,117.09 L744.73,116.68 L747.53,116.29 L750.33,115.9 L753.13,115.51 L755.93,115.13 L758.73,114.76 L761.54,114.39 L764.34,114.02 L767.14,113.66 L769.94,113.31 L772.74,112.96 L775.54,112.62 L778.35,112.29 L781.15,111.95 L783.95,111.63 L786.75,111.31 L789.55,110.99 L792.35,110.68 L795.16,110.38 L797.96,110.08 L800.76,109.79 L803.56,109.5 L806.36,109.22 L809.16,108.94 L811.97,108.67 L814.77,108.4 L817.57,108.14 L820.37,107.88 L823.17,107.63 L825.97,107.39 L828.78,107.15 L831.58,106.92 L834.38,106.69 L837.18,106.46 L839.98,106.25 L842.78,106.04 L845.59,105.83 L848.39,105.63 L851.19,105.43 L853.99,105.24 L856.79,105.06 L859.59,104.88 L862.4,104.7 L865.2,104.53 L868,104.37" fill="none" stroke="#222" stroke-width="1.1" stroke-dasharray="4 4.2" stroke-linejoin="round"/>
<path d="M534.6,223.9 L537.4,222.13 L540.2,220.37 L543.01,218.61 L545.81,216.85 L548.61,215.1 L551.41,213.35 L554.21,211.61 L557.01,209.87 L559.82,208.14 L562.62,206.41 L565.42,204.69 L568.22,202.97 L571.02,201.26 L573.82,199.55 L576.63,197.84 L579.43,196.14 L582.23,194.45 L585.03,192.76 L587.83,191.07 L590.63,189.39 L593.44,187.72 L596.24,186.05 L599.04,184.38 L601.84,182.72 L604.64,181.06 L607.44,179.41 L610.25,177.76 L613.05,176.12 L615.85,174.48 L618.65,172.84 L621.45,171.21 L624.25,169.59 L627.06,167.97 L629.86,166.36 L632.66,164.75 L635.46,163.14 L638.26,161.54 L641.06,159.94 L643.87,158.35 L646.67,156.77 L649.47,155.18 L652.27,153.61 L655.07,152.03 L657.87,150.47 L660.68,148.9 L663.48,147.34 L666.28,145.79 L669.08,144.24 L671.88,142.7 L674.68,141.16 L677.49,139.62 L680.29,138.09 L683.09,136.57 L685.89,135.05 L688.69,133.53 L691.49,132.02 L694.3,130.51 L697.1,129.01 L699.9,127.51 L702.7,126.02 L705.5,124.53 L708.3,123.05 L711.11,121.57 L713.91,120.1 L716.71,118.63 L719.51,117.17 L722.31,115.71 L725.11,114.25 L727.92,112.8 L730.72,111.36 L733.52,109.92 L736.32,108.48 L739.12,107.05 L741.92,105.62 L744.73,104.2 L747.53,102.78 L750.33,101.37 L753.13,99.96 L755.93,98.56 L758.73,97.16 L761.54,95.77 L764.34,94.38 L767.14,93 L769.94,91.62 L772.74,90.24 L775.54,88.87 L778.35,87.51 L781.15,86.15 L783.95,84.79 L786.75,83.44 L789.55,82.09 L792.35,80.75 L795.16,79.42 L797.96,78.08 L800.76,76.76 L803.56,75.43 L806.36,74.11 L809.16,72.8 L811.97,71.49 L814.77,70.19 L817.57,68.89 L820.37,67.59 L823.17,66.3 L825.97,65.02 L828.78,63.74 L831.58,62.46 L834.38,61.19 L837.18,59.93 L839.98,58.66 L842.78,57.41 L845.59,56.16 L848.39,54.91 L851.19,53.66 L853.99,52.43 L856.79,51.19 L859.59,49.96 L862.4,48.74 L865.2,47.52 L868,46.31" fill="none" stroke="#40d840" stroke-width="1.0" stroke-linejoin="round"/>
<path d="M534.6,263.56 L535.33,263.28 L536.07,263.01 L536.7,262.77 L536.8,262.73 L537.53,262.46 L538.26,262.18 L538.79,261.98 L539,261.9 L539.73,261.63 L540.46,261.35 L540.89,261.19 L541.19,261.08 L541.93,260.8 L542.66,260.53 L542.99,260.4 L543.39,260.25 L544.13,259.97 L544.86,259.7 L545.08,259.62 L545.59,259.42 L546.32,259.15 L547.06,258.88 L547.18,258.83 L547.79,258.6 L548.52,258.33 L549.25,258.05 L549.28,258.04 L549.99,257.78 L550.72,257.5 L551.37,257.26 L551.45,257.23 L552.19,256.95 L552.92,256.68 L553.47,256.47 L553.65,256.41 L554.38,256.13 L555.12,255.86 L555.57,255.69 L555.85,255.59 L556.58,255.31 L557.32,255.04 L557.67,254.91 L558.05,254.76 L558.78,254.49 L559.51,254.22 L559.76,254.13 L560.25,253.95 L560.98,253.67 L561.71,253.4 L561.86,253.34 L562.44,253.13 L563.18,252.85 L563.96,252.56 L566.05,251.79 L568.15,251.01 L570.25,250.23 L572.34,249.45 L574.44,248.68 L576.54,247.9 L578.63,247.13 L580.73,246.35 L582.83,245.58 L584.92,244.81 L587.02,244.04 L589.12,243.27 L591.22,242.5 L593.31,241.73 L595.41,240.96 L597.51,240.19 L599.6,239.43 L601.7,238.66 L603.8,237.9 L605.89,237.13 L607.99,236.37 L610.09,235.61 L612.18,234.85 L614.28,234.09 L616.38,233.33 L618.47,232.57 L620.57,231.81 L622.67,231.05 L624.76,230.3 L626.86,229.54 L628.96,228.79 L631.06,228.03 L633.15,227.28 L635.25,226.52 L637.35,225.77 L639.44,225.02 L641.54,224.27 L643.64,223.52 L645.73,222.77 L647.83,222.02 L649.93,221.27 L652.02,220.52 L654.12,219.78 L656.22,219.03 L658.31,218.29 L660.41,217.54 L662.51,216.8 L664.61,216.06 L666.7,215.31 L668.8,214.57 L670.9,213.83 L672.99,213.1 L675.09,212.36 L677.19,211.62 L679.28,210.89 L681.38,210.15 L683.48,209.42 L685.57,208.69 L687.67,207.96 L689.77,207.23 L691.86,206.5 L693.96,205.77 L696.06,205.04 L698.15,204.32 L700.25,203.59 L702.35,202.87 L704.45,202.15 L706.54,201.43 L708.64,200.71 L710.74,199.99 L712.83,199.27 L714.93,198.55 L717.03,197.83 L719.12,197.11 L721.22,196.39 L723.32,195.68 L725.41,194.96 L727.51,194.25 L729.61,193.53 L731.7,192.82 L733.8,192.1 L735.9,191.39 L737.99,190.68 L740.09,189.97 L742.19,189.26 L744.29,188.56 L746.38,187.85 L748.48,187.15 L750.58,186.44 L752.67,185.74 L754.77,185.05 L756.87,184.35 L758.96,183.65 L761.06,182.96 L763.16,182.27 L765.25,181.58 L767.35,180.89 L769.45,180.21 L771.54,179.53 L773.64,178.85 L775.74,178.17 L777.84,177.49 L779.93,176.82 L782.03,176.15 L784.13,175.48 L786.22,174.82 L788.32,174.16 L790.42,173.51 L792.51,172.85 L794.61,172.2 L796.71,171.56 L798.8,170.92 L800.9,170.28 L803,169.64 L805.09,169.01 L807.19,168.38 L809.29,167.75 L811.38,167.12 L813.48,166.5 L815.58,165.87 L817.68,165.25 L819.77,164.63 L821.87,164.01 L823.97,163.39 L826.06,162.77 L828.16,162.15 L830.26,161.53 L832.35,160.91 L834.45,160.29 L836.55,159.68 L838.64,159.06 L840.74,158.44 L842.84,157.81 L844.93,157.19 L847.03,156.57 L849.13,155.94 L851.23,155.31 L853.32,154.68 L855.42,154.05 L857.52,153.42 L859.61,152.78 L861.71,152.14 L863.81,151.5 L865.9,150.85 L868,150.19" fill="none" stroke="#40d840" stroke-width="1.0" stroke-dasharray="4.4 3.1" stroke-linejoin="round"/>
<path d="M534.6,263.56 L536.73,262.82 L538.85,262.08 L540.98,261.34 L543.1,260.6 L545.23,259.87 L547.35,259.13 L549.48,258.39 L551.6,257.66 L553.73,256.93 L555.85,256.2 L557.98,255.46 L560.1,254.73 L562.23,254.01 L564.35,253.28 L566.48,252.55 L568.6,251.83 L570.73,251.1 L572.85,250.38 L574.98,249.65 L577.11,248.93 L579.23,248.21 L581.36,247.49 L583.48,246.77 L585.61,246.06 L587.73,245.34 L589.86,244.62 L591.98,243.91 L594.11,243.2 L596.23,242.48 L598.36,241.77 L600.48,241.06 L602.61,240.35 L604.73,239.64 L606.86,238.94 L608.98,238.23 L611.11,237.53 L613.24,236.82 L615.36,236.12 L617.49,235.42 L619.61,234.71 L621.74,234.01 L623.86,233.32 L625.99,232.62 L628.11,231.92 L630.24,231.22 L632.36,230.53 L634.49,229.83 L636.61,229.14 L638.74,228.45 L640.86,227.76 L642.99,227.07 L645.11,226.38 L647.24,225.69 L649.36,225.01 L651.49,224.32 L653.62,223.63 L655.74,222.95 L657.87,222.27 L659.99,221.59 L662.12,220.91 L664.24,220.23 L666.37,219.55 L668.49,218.87 L670.62,218.19 L672.74,217.52 L674.87,216.84 L676.99,216.17 L679.12,215.5 L681.24,214.82 L683.37,214.15 L685.49,213.48 L687.62,212.82 L689.75,212.15 L691.87,211.48 L694,210.82 L696.12,210.15 L698.25,209.49 L700.37,208.83 L702.5,208.16 L704.62,207.5 L706.75,206.84 L708.87,206.19 L711,205.53 L713.12,204.87 L715.25,204.22 L717.37,203.56 L719.5,202.91 L721.62,202.26 L723.75,201.61 L725.87,200.96 L728,200.31 L730.13,199.66 L732.25,199.01 L734.38,198.37 L736.5,197.72 L738.63,197.08 L740.75,196.43 L742.88,195.79 L745,195.15 L747.13,194.51 L749.25,193.87 L751.38,193.23 L753.5,192.6 L755.63,191.96 L757.75,191.33 L759.88,190.69 L762,190.06 L764.13,189.43 L766.25,188.8 L768.38,188.17 L770.51,187.54 L772.63,186.91 L774.76,186.28 L776.88,185.66 L779.01,185.03 L781.13,184.41 L783.26,183.79 L785.38,183.17 L787.51,182.55" fill="none" stroke="#40d840" stroke-width="1.0" stroke-dasharray="1.9 1.5" stroke-linejoin="round"/>
<path d="M787.03,182.68 L789.82,181.87 L792.62,181.06 L795.41,180.25 L798.2,179.44 L800.99,178.63 L803.78,177.83 L806.58,177.02 L809.37,176.22 L812.16,175.42 L814.95,174.62 L817.74,173.83 L820.54,173.03 L823.33,172.24 L826.12,171.45 L828.91,170.66 L831.7,169.87 L834.5,169.09 L837.29,168.3 L840.08,167.52 L842.87,166.74 L845.66,165.96 L848.46,165.18 L851.25,164.41 L854.04,163.64 L856.83,162.86 L859.62,162.09 L862.42,161.33 L865.21,160.56 L868,159.8" fill="none" stroke="#40d840" stroke-width="1.0" stroke-linejoin="round"/>
<path d="M534.6,289.16 L535.33,285.96 L536.07,282.7 L536.7,279.8 L536.8,279.32 L537.53,275.85 L538.26,272.36 L538.79,269.85 L539,268.9 L539.73,265.54 L540.46,262.33 L540.89,260.55 L541.19,259.34 L541.93,256.62 L542.66,254.04 L542.99,252.91 L543.39,251.54 L544.13,249.13 L544.86,246.8 L545.08,246.11 L545.59,244.57 L546.32,242.44 L547.06,240.4 L547.18,240.06 L547.79,238.46 L548.52,236.63 L549.25,234.91 L549.28,234.86 L549.99,233.28 L550.72,231.71 L551.37,230.37 L551.45,230.21 L552.19,228.76 L552.92,227.37 L553.47,226.34 L553.65,226.02 L554.38,224.71 L555.12,223.43 L555.57,222.67 L555.85,222.19 L556.58,220.98 L557.32,219.78 L557.67,219.22 L558.05,218.6 L558.78,217.44 L559.51,216.27 L559.76,215.88 L560.25,215.11 L560.98,213.94 L561.71,212.77 L561.86,212.53 L562.44,211.59 L563.18,210.43 L563.96,209.23 L566.05,206.1 L568.15,203.11 L570.25,200.22 L572.34,197.17 L574.44,193.85 L576.54,190.56 L578.63,187.29 L580.73,184.36 L582.83,182.08 L584.92,180.03 L587.02,177.77 L589.12,175.32 L591.22,172.79 L593.31,170.28 L595.41,167.85 L597.51,165.57 L599.6,163.39 L601.7,161.28 L603.8,159.19 L605.89,157.08 L607.99,155 L610.09,153.03 L612.18,151.26 L614.28,149.64 L616.38,148.18 L618.47,146.9 L620.57,145.73 L622.67,144.68 L624.76,143.75 L626.86,142.95 L628.96,142.25 L631.06,141.6 L633.15,140.99 L635.25,140.39 L637.35,139.81 L639.44,139.24 L641.54,138.71 L643.64,138.2 L645.73,137.72 L647.83,137.27 L649.93,136.83 L652.02,136.41 L654.12,136.01 L656.22,135.62 L658.31,135.25 L660.41,134.89 L662.51,134.54 L664.61,134.2 L666.7,133.87 L668.8,133.55 L670.9,133.23 L672.99,132.91 L675.09,132.6 L677.19,132.29 L679.28,131.99 L681.38,131.7 L683.48,131.41 L685.57,131.12 L687.67,130.84 L689.77,130.55 L691.86,130.27 L693.96,129.99 L696.06,129.71 L698.15,129.43 L700.25,129.15 L702.35,128.87 L704.45,128.6 L706.54,128.32 L708.64,128.05 L710.74,127.78 L712.83,127.51 L714.93,127.24 L717.03,126.97 L719.12,126.7 L721.22,126.43 L723.32,126.16 L725.41,125.9 L727.51,125.63 L729.61,125.36 L731.7,125.1 L733.8,124.83 L735.9,124.57 L737.99,124.3 L740.09,124.03 L742.19,123.77 L744.29,123.5 L746.38,123.23 L748.48,122.97 L750.58,122.7 L752.67,122.43 L754.77,122.16 L756.87,121.89 L758.96,121.62 L761.06,121.35 L763.16,121.08 L765.25,120.8 L767.35,120.53 L769.45,120.25 L771.54,119.97 L773.64,119.69 L775.74,119.41 L777.84,119.13 L779.93,118.85 L782.03,118.56 L784.13,118.28 L786.22,117.99 L788.32,117.71 L790.42,117.42 L792.51,117.13 L794.61,116.85 L796.71,116.56 L798.8,116.27 L800.9,115.98 L803,115.69 L805.09,115.4 L807.19,115.11 L809.29,114.82 L811.38,114.52 L813.48,114.23 L815.58,113.94 L817.68,113.64 L819.77,113.35 L821.87,113.06 L823.97,112.76 L826.06,112.46 L828.16,112.17 L830.26,111.87 L832.35,111.57 L834.45,111.27 L836.55,110.97 L838.64,110.68 L840.74,110.38 L842.84,110.07 L844.93,109.77 L847.03,109.47 L849.13,109.17 L851.23,108.87 L853.32,108.56 L855.42,108.26 L857.52,107.96 L859.61,107.65 L861.71,107.34 L863.81,107.04 L865.9,106.73 L868,106.43" fill="none" stroke="#2a2aff" stroke-width="1.1" stroke-dasharray="4.5 3.9" stroke-linejoin="round"/>
<path d="M534.6,288.7 L535.33,285.05 L536.07,281.47 L536.7,278.46 L536.8,277.99 L537.53,274.61 L538.26,271.35 L538.79,269.08 L539,268.23 L539.73,265.25 L540.46,262.44 L540.89,260.82 L541.19,259.68 L541.93,256.95 L542.66,254.26 L542.99,253.07 L543.39,251.63 L544.13,249.08 L544.86,246.64 L545.08,245.91 L545.59,244.31 L546.32,242.13 L547.06,240.11 L547.18,239.78 L547.79,238.27 L548.52,236.64 L549.25,235.2 L549.28,235.16 L549.99,233.9 L550.72,232.71 L551.37,231.72 L551.45,231.61 L552.19,230.58 L552.92,229.59 L553.47,228.87 L553.65,228.64 L554.38,227.7 L555.12,226.75 L555.57,226.15 L555.85,225.79 L556.58,224.89 L557.32,224.04 L557.67,223.65 L558.05,223.22 L558.78,222.41 L559.51,221.59 L559.76,221.3 L560.25,220.73 L560.98,219.83 L561.71,218.87 L561.86,218.66 L562.44,217.81 L563.18,216.58 L563.96,215.09 L566.05,210.82 L568.15,207.38 L570.25,204.67 L572.34,202.26 L574.44,200.05 L576.54,197.94 L578.63,195.82 L580.73,193.62 L582.83,191.42 L584.92,189.27 L587.02,187.24 L589.12,185.39 L591.22,183.75 L593.31,182.22 L595.41,180.65 L597.51,178.96 L599.6,177.22 L601.7,175.47 L603.8,173.77 L605.89,172.17 L607.99,170.71 L610.09,169.35 L612.18,168.03 L614.28,166.77 L616.38,165.56 L618.47,164.39 L620.57,163.28 L622.67,162.22 L624.76,161.2 L626.86,160.25 L628.96,159.36 L631.06,158.52 L633.15,157.73 L635.25,156.95 L637.35,156.2 L639.44,155.48 L641.54,154.8 L643.64,154.16 L645.73,153.56 L647.83,152.97 L649.93,152.4 L652.02,151.84 L654.12,151.29 L656.22,150.76 L658.31,150.24 L660.41,149.74 L662.51,149.25 L664.61,148.77 L666.7,148.31 L668.8,147.87 L670.9,147.44 L672.99,147.02 L675.09,146.63 L677.19,146.24 L679.28,145.88 L681.38,145.52 L683.48,145.19 L685.57,144.87 L687.67,144.56 L689.77,144.27 L691.86,143.98 L693.96,143.71 L696.06,143.45 L698.15,143.19 L700.25,142.94 L702.35,142.69 L704.45,142.45 L706.54,142.22 L708.64,141.98 L710.74,141.76 L712.83,141.53 L714.93,141.31 L717.03,141.09 L719.12,140.88 L721.22,140.66 L723.32,140.44 L725.41,140.23 L727.51,140.01 L729.61,139.79 L731.7,139.57 L733.8,139.35 L735.9,139.12 L737.99,138.89 L740.09,138.66 L742.19,138.43 L744.29,138.21 L746.38,137.99 L748.48,137.77 L750.58,137.55 L752.67,137.34 L754.77,137.12 L756.87,136.9 L758.96,136.68 L761.06,136.46 L763.16,136.23 L765.25,136 L767.35,135.77 L769.45,135.54 L771.54,135.3 L773.64,135.06 L775.74,134.81 L777.84,134.56 L779.93,134.3 L782.03,134.03 L784.13,133.76 L786.22,133.48 L788.32,133.19 L790.42,132.9 L792.51,132.61 L794.61,132.31 L796.71,132 L798.8,131.7 L800.9,131.39 L803,131.08 L805.09,130.76 L807.19,130.45 L809.29,130.13 L811.38,129.82 L813.48,129.51 L815.58,129.19 L817.68,128.88 L819.77,128.57 L821.87,128.26 L823.97,127.95 L826.06,127.64 L828.16,127.33 L830.26,127.02 L832.35,126.71 L834.45,126.39 L836.55,126.08 L838.64,125.77 L840.74,125.45 L842.84,125.13 L844.93,124.82 L847.03,124.5 L849.13,124.18 L851.23,123.86 L853.32,123.54 L855.42,123.22 L857.52,122.9 L859.61,122.58 L861.71,122.25 L863.81,121.93 L865.9,121.61 L868,121.28" fill="none" stroke="#2a2aff" stroke-width="1.0" stroke-dasharray="1.2 1.0" stroke-linejoin="round"/>
<path d="M534.6,288.7 L535.33,285.16 L535.8,282.94 L536.07,281.66 L536.8,278.2 L536.99,277.28 L537.53,274.78 L538.19,271.74 L538.26,271.41 L539,268.08 L539.39,266.31 L539.73,264.79 L540.46,261.54 L540.58,260.99 L541.19,258.24 L541.78,255.57 L541.93,254.9 L542.66,251.58 L542.98,250.15 L543.39,248.33 L544.13,245.21 L544.18,245 L544.86,242.29 L545.37,240.4 L545.59,239.64 L546.32,237.27 L546.57,236.51 L547.06,235.04 L547.77,233.1 L547.79,233.05 L548.52,231.43 L548.96,230.68 L549.25,230.23 L549.99,229.19 L550.16,228.96 L550.72,228.27 L551.36,227.54 L551.45,227.44 L552.19,226.68 L552.55,226.33 L552.92,225.98 L553.65,225.32 L553.75,225.24 L554.38,224.68 L554.95,224.19 L555.12,224.04 L555.85,223.38 L556.15,223.1 L556.58,222.67 L557.32,221.92 L557.34,221.89" fill="none" stroke="#ff1aff" stroke-width="1.0" stroke-linejoin="round"/>
<path d="M534.6,288.7 L535.33,285.25 L536.07,281.82 L536.7,278.89 L536.8,278.42 L537.53,275.05 L538.26,271.71 L538.79,269.31 L539,268.39 L539.73,265.11 L540.46,261.86 L540.89,259.93 L541.19,258.55 L541.93,255.17 L542.66,251.8 L542.99,250.31 L543.39,248.48 L544.13,245.29 L544.86,242.28 L545.08,241.4 L545.59,239.52 L546.32,237.04 L547.06,234.68 L547.18,234.3 L547.79,232.55 L548.52,230.86 L549.25,229.67 L549.28,229.64 L549.99,228.68 L550.72,227.82 L551.37,227.14 L551.45,227.06 L552.19,226.37 L552.92,225.73 L553.47,225.26 L553.65,225.11 L554.38,224.48 L555.12,223.81 L555.57,223.36 L555.85,223.08 L556.58,222.36 L557.32,221.65 L557.67,221.31 L558.05,220.94 L558.78,220.23 L559.51,219.54 L559.76,219.3 L560.25,218.85 L560.98,218.17 L561.71,217.5 L561.86,217.37 L562.44,216.84 L563.18,216.2 L563.96,215.55 L566.05,213.78 L568.15,211.9 L570.25,209.94 L572.34,207.93 L574.44,205.9 L576.54,203.89 L578.63,201.91 L580.73,199.99 L582.83,198.07 L584.92,196.18 L587.02,194.35 L589.12,192.6 L591.22,190.96 L593.31,189.38 L595.41,187.82 L597.51,186.24 L599.6,184.65 L601.7,183.1 L603.8,181.61 L605.89,180.23 L607.99,178.92 L610.09,177.62 L612.18,176.37 L614.28,175.19 L616.38,174.12 L618.47,173.18 L620.57,172.39 L622.67,171.71 L624.76,171.08 L626.86,170.5 L628.96,169.96 L631.06,169.46 L633.15,168.99 L635.25,168.54 L637.35,168.11 L639.44,167.68 L641.54,167.26 L643.64,166.87 L645.73,166.5 L647.83,166.15 L649.93,165.8 L652.02,165.47 L654.12,165.13 L656.22,164.79 L658.31,164.44 L660.41,164.06 L662.51,163.68 L664.61,163.29 L666.7,162.89 L668.8,162.49 L670.9,162.08 L672.99,161.66 L675.09,161.25 L677.19,160.83 L679.28,160.41 L681.38,159.99 L683.48,159.57 L685.57,159.15 L687.67,158.74 L689.77,158.32 L691.86,157.91 L693.96,157.51 L696.06,157.11 L698.15,156.71 L700.25,156.33 L702.35,155.95 L704.45,155.57 L706.54,155.2 L708.64,154.83 L710.74,154.46 L712.83,154.1 L714.93,153.74 L717.03,153.38 L719.12,153.02 L721.22,152.67 L723.32,152.32 L725.41,151.97 L727.51,151.62 L729.61,151.27 L731.7,150.92 L733.8,150.58 L735.9,150.23 L737.99,149.89 L740.09,149.54 L742.19,149.2 L744.29,148.86 L746.38,148.52 L748.48,148.17 L750.58,147.83 L752.67,147.49 L754.77,147.15 L756.87,146.8 L758.96,146.46 L761.06,146.13 L763.16,145.79 L765.25,145.45 L767.35,145.12 L769.45,144.79 L771.54,144.45 L773.64,144.12 L775.74,143.79 L777.84,143.46 L779.93,143.13 L782.03,142.79 L784.13,142.46 L786.22,142.13 L788.32,141.79 L790.42,141.45 L792.51,141.12 L794.61,140.77 L796.71,140.43 L798.8,140.09 L800.9,139.75 L803,139.4 L805.09,139.06 L807.19,138.71 L809.29,138.37 L811.38,138.02 L813.48,137.68 L815.58,137.33 L817.68,136.98 L819.77,136.63 L821.87,136.29 L823.97,135.94 L826.06,135.59 L828.16,135.24 L830.26,134.89 L832.35,134.54 L834.45,134.18 L836.55,133.83 L838.64,133.48 L840.74,133.13 L842.84,132.77 L844.93,132.42 L847.03,132.06 L849.13,131.71 L851.23,131.35 L853.32,131 L855.42,130.64 L857.52,130.28 L859.61,129.92 L861.71,129.56 L863.81,129.2 L865.9,128.84 L868,128.48" fill="none" stroke="#ff1a1a" stroke-width="1.0" stroke-linejoin="round"/>
<path d="M534.6,288.7 L535.33,285.25 L536.07,281.82 L536.7,278.89 L536.8,278.42 L537.53,275.05 L538.26,271.71 L538.79,269.31 L539,268.39 L539.73,265.11 L540.46,261.86 L540.89,259.93 L541.19,258.55 L541.93,255.17 L542.66,251.8 L542.99,250.31 L543.39,248.48 L544.13,245.29 L544.86,242.28 L545.08,241.4 L545.59,239.52 L546.32,237.04 L547.06,234.68 L547.18,234.3 L547.79,232.55 L548.52,230.86 L549.25,229.67 L549.28,229.64 L549.99,228.68 L550.72,227.82 L551.37,227.14 L551.45,227.06 L552.19,226.37 L552.92,225.73 L553.47,225.26 L553.65,225.11 L554.38,224.48 L555.12,223.81 L555.57,223.36 L555.85,223.08 L556.58,222.36 L557.32,221.65 L557.67,221.31 L558.05,220.94 L558.78,220.23 L559.51,219.54 L559.76,219.3 L560.25,218.85 L560.98,218.17 L561.71,217.5 L561.86,217.37 L562.44,216.84 L563.18,216.2 L563.96,215.55 L566.05,213.78 L568.15,211.91 L570.25,209.96 L572.34,207.97 L574.44,205.95 L576.54,203.93 L578.63,201.93 L580.73,199.94 L582.83,197.94 L584.92,195.94 L587.02,193.99 L589.12,192.12 L591.22,190.31 L593.31,188.57 L595.41,186.89 L597.51,185.23 L599.6,183.59 L601.7,182 L603.8,180.49 L605.89,179.09 L607.99,177.77 L610.09,176.47 L612.18,175.21 L614.28,174.04 L616.38,172.97 L618.47,172.03 L620.57,171.25 L622.67,170.57 L624.76,169.94 L626.86,169.37 L628.96,168.84 L631.06,168.34 L633.15,167.87 L635.25,167.42 L637.35,166.98 L639.44,166.54 L641.54,166.1 L643.64,165.69 L645.73,165.3 L647.83,164.92 L649.93,164.56 L652.02,164.2 L654.12,163.83 L656.22,163.46 L658.31,163.08 L660.41,162.69 L662.51,162.28 L664.61,161.86 L666.7,161.44 L668.8,161.01 L670.9,160.58 L672.99,160.14 L675.09,159.7 L677.19,159.25 L679.28,158.81 L681.38,158.36 L683.48,157.92 L685.57,157.47 L687.67,157.03 L689.77,156.6 L691.86,156.17 L693.96,155.74 L696.06,155.32 L698.15,154.91 L700.25,154.51 L702.35,154.11 L704.45,153.72 L706.54,153.34 L708.64,152.96 L710.74,152.58 L712.83,152.2 L714.93,151.83 L717.03,151.46 L719.12,151.1 L721.22,150.74 L723.32,150.38 L725.41,150.02 L727.51,149.66 L729.61,149.31 L731.7,148.95 L733.8,148.6 L735.9,148.25 L737.99,147.9 L740.09,147.55 L742.19,147.2 L744.29,146.85 L746.38,146.5 L748.48,146.15 L750.58,145.8 L752.67,145.44 L754.77,145.09 L756.87,144.74 L758.96,144.39 L761.06,144.03 L763.16,143.69 L765.25,143.34 L767.35,142.99 L769.45,142.64 L771.54,142.3 L773.64,141.95 L775.74,141.61 L777.84,141.26 L779.93,140.92 L782.03,140.57 L784.13,140.22 L786.22,139.88 L788.32,139.53 L790.42,139.19 L792.51,138.84 L794.61,138.49 L796.71,138.14 L798.8,137.79 L800.9,137.44 L803,137.09 L805.09,136.74 L807.19,136.39 L809.29,136.04 L811.38,135.69 L813.48,135.34 L815.58,134.99 L817.68,134.64 L819.77,134.29 L821.87,133.94 L823.97,133.59 L826.06,133.24 L828.16,132.89 L830.26,132.54 L832.35,132.19 L834.45,131.84 L836.55,131.48 L838.64,131.13 L840.74,130.78 L842.84,130.43 L844.93,130.08 L847.03,129.73 L849.13,129.37 L851.23,129.02 L853.32,128.67 L855.42,128.32 L857.52,127.96 L859.61,127.61 L861.71,127.26 L863.81,126.9 L865.9,126.55 L868,126.2" fill="none" stroke="#ff1a1a" stroke-width="1.0" stroke-dasharray="2.2 1.7" stroke-linejoin="round"/>
<path d="M534.6,288.7 L535.33,285.25 L536.07,281.82 L536.7,278.89 L536.8,278.42 L537.53,275.05 L538.26,271.71 L538.79,269.31 L539,268.39 L539.73,265.11 L540.46,261.86 L540.89,259.93 L541.19,258.55 L541.93,255.17 L542.66,251.8 L542.99,250.31 L543.39,248.48 L544.13,245.29 L544.86,242.28 L545.08,241.4 L545.59,239.52 L546.32,237.04 L547.06,234.68 L547.18,234.3 L547.79,232.55 L548.52,230.86 L549.25,229.67 L549.28,229.64 L549.99,228.68 L550.72,227.82 L551.37,227.14 L551.45,227.06 L552.19,226.37 L552.92,225.73 L553.47,225.26 L553.65,225.11 L554.38,224.48 L555.12,223.81 L555.57,223.36 L555.85,223.08 L556.58,222.36 L557.32,221.65 L557.67,221.31 L558.05,220.94 L558.78,220.23 L559.51,219.54 L559.76,219.3 L560.25,218.85 L560.98,218.17 L561.71,217.5 L561.86,217.37 L562.44,216.84 L563.18,216.2 L563.96,215.55 L566.05,213.78 L568.15,211.91 L570.25,209.99 L572.34,208.02 L574.44,206.02 L576.54,203.99 L578.63,201.95 L580.73,199.88 L582.83,197.75 L584.92,195.6 L587.02,193.46 L589.12,191.39 L591.22,189.35 L593.31,187.36 L595.41,185.49 L597.51,183.69 L599.6,181.94 L601.7,180.27 L603.8,178.7 L605.89,177.26 L607.99,175.93 L610.09,174.64 L612.18,173.42 L614.28,172.27 L616.38,171.21 L618.47,170.25 L620.57,169.4 L622.67,168.63 L624.76,167.91 L626.86,167.24 L628.96,166.6 L631.06,166 L633.15,165.43 L635.25,164.88 L637.35,164.35 L639.44,163.82 L641.54,163.3 L643.64,162.81 L645.73,162.34 L647.83,161.88 L649.93,161.44 L652.02,161 L654.12,160.57 L656.22,160.14 L658.31,159.7 L660.41,159.25 L662.51,158.79 L664.61,158.34 L666.7,157.88 L668.8,157.42 L670.9,156.97 L672.99,156.51 L675.09,156.05 L677.19,155.6 L679.28,155.14 L681.38,154.68 L683.48,154.23 L685.57,153.77 L687.67,153.32 L689.77,152.87 L691.86,152.42 L693.96,151.97 L696.06,151.53 L698.15,151.08 L700.25,150.64 L702.35,150.2 L704.45,149.76 L706.54,149.33 L708.64,148.89 L710.74,148.45 L712.83,148.01 L714.93,147.57 L717.03,147.13 L719.12,146.7 L721.22,146.26 L723.32,145.83 L725.41,145.39 L727.51,144.96 L729.61,144.53 L731.7,144.11 L733.8,143.68 L735.9,143.26 L737.99,142.84 L740.09,142.42 L742.19,142.01 L744.29,141.6 L746.38,141.19 L748.48,140.79 L750.58,140.39 L752.67,140 L754.77,139.61 L756.87,139.22 L758.96,138.85 L761.06,138.48 L763.16,138.11 L765.25,137.75 L767.35,137.4 L769.45,137.05 L771.54,136.7 L773.64,136.35 L775.74,136 L777.84,135.65 L779.93,135.31 L782.03,134.96 L784.13,134.6 L786.22,134.25 L788.32,133.89 L790.42,133.53 L792.51,133.16 L794.61,132.78 L796.71,132.4 L798.8,132.02 L800.9,131.63 L803,131.25 L805.09,130.86 L807.19,130.47 L809.29,130.08 L811.38,129.69 L813.48,129.29 L815.58,128.9 L817.68,128.5 L819.77,128.1 L821.87,127.7 L823.97,127.3 L826.06,126.9 L828.16,126.49 L830.26,126.08 L832.35,125.67 L834.45,125.26 L836.55,124.85 L838.64,124.43 L840.74,124.02 L842.84,123.6 L844.93,123.18 L847.03,122.76 L849.13,122.33 L851.23,121.91 L853.32,121.48 L855.42,121.05 L857.52,120.62 L859.61,120.18 L861.71,119.75 L863.81,119.31 L865.9,118.87 L868,118.42" fill="none" stroke="#ff1a1a" stroke-width="1.0" stroke-dasharray="4 1.5 1.3 1.5" stroke-linejoin="round"/>
<path d="M534.6,288.7 L535.33,285.25 L536.07,281.82 L536.7,278.89 L536.8,278.42 L537.53,275.05 L538.26,271.71 L538.79,269.31 L539,268.39 L539.73,265.11 L540.46,261.86 L540.89,259.93 L541.19,258.55 L541.93,255.17 L542.66,251.8 L542.99,250.31 L543.39,248.48 L544.13,245.29 L544.86,242.28 L545.08,241.4 L545.59,239.52 L546.32,237.04 L547.06,234.68 L547.18,234.3 L547.79,232.55 L548.52,230.86 L549.25,229.67 L549.28,229.64 L549.99,228.68 L550.72,227.82 L551.37,227.14 L551.45,227.06 L552.19,226.37 L552.92,225.73 L553.47,225.26 L553.65,225.11 L554.38,224.48 L555.12,223.81 L555.57,223.36 L555.85,223.08 L556.58,222.36 L557.32,221.65 L557.67,221.31 L558.05,220.94 L558.78,220.23 L559.51,219.54 L559.76,219.3 L560.25,218.85 L560.98,218.17 L561.71,217.5 L561.86,217.37 L562.44,216.84 L563.18,216.2 L563.96,215.55 L566.05,213.78 L568.15,211.92 L570.25,210.01 L572.34,208.07 L574.44,206.08 L576.54,204.05 L578.63,201.97 L580.73,199.82 L582.83,197.55 L584.92,195.22 L587.02,192.91 L589.12,190.67 L591.22,188.46 L593.31,186.31 L595.41,184.33 L597.51,182.46 L599.6,180.65 L601.7,178.94 L603.8,177.35 L605.89,175.89 L607.99,174.54 L610.09,173.25 L612.18,172.03 L614.28,170.89 L616.38,169.83 L618.47,168.88 L620.57,168.03 L622.67,167.26 L624.76,166.54 L626.86,165.87 L628.96,165.24 L631.06,164.64 L633.15,164.07 L635.25,163.52 L637.35,162.98 L639.44,162.45 L641.54,161.92 L643.64,161.42 L645.73,160.93 L647.83,160.46 L649.93,160 L652.02,159.55 L654.12,159.1 L656.22,158.66 L658.31,158.21 L660.41,157.76 L662.51,157.31 L664.61,156.86 L666.7,156.42 L668.8,155.97 L670.9,155.53 L672.99,155.09 L675.09,154.65 L677.19,154.21 L679.28,153.77 L681.38,153.34 L683.48,152.9 L685.57,152.47 L687.67,152.04 L689.77,151.61 L691.86,151.19 L693.96,150.76 L696.06,150.34 L698.15,149.91 L700.25,149.49 L702.35,149.07 L704.45,148.65 L706.54,148.23 L708.64,147.81 L710.74,147.39 L712.83,146.97 L714.93,146.56 L717.03,146.14 L719.12,145.72 L721.22,145.31 L723.32,144.9 L725.41,144.49 L727.51,144.08 L729.61,143.67 L731.7,143.26 L733.8,142.85 L735.9,142.45 L737.99,142.05 L740.09,141.65 L742.19,141.25 L744.29,140.86 L746.38,140.47 L748.48,140.08 L750.58,139.69 L752.67,139.3 L754.77,138.92 L756.87,138.54 L758.96,138.17 L761.06,137.81 L763.16,137.45 L765.25,137.09 L767.35,136.73 L769.45,136.38 L771.54,136.03 L773.64,135.68 L775.74,135.33 L777.84,134.99 L779.93,134.64 L782.03,134.28 L784.13,133.93 L786.22,133.57 L788.32,133.21 L790.42,132.85 L792.51,132.47 L794.61,132.1 L796.71,131.71 L798.8,131.33 L800.9,130.94 L803,130.56 L805.09,130.17 L807.19,129.78 L809.29,129.38 L811.38,128.99 L813.48,128.59 L815.58,128.2 L817.68,127.8 L819.77,127.39 L821.87,126.99 L823.97,126.59 L826.06,126.18 L828.16,125.77 L830.26,125.36 L832.35,124.95 L834.45,124.53 L836.55,124.12 L838.64,123.7 L840.74,123.28 L842.84,122.85 L844.93,122.43 L847.03,122 L849.13,121.58 L851.23,121.14 L853.32,120.71 L855.42,120.28 L857.52,119.84 L859.61,119.4 L861.71,118.96 L863.81,118.52 L865.9,118.07 L868,117.62" fill="none" stroke="#ff1a1a" stroke-width="1.0" stroke-dasharray="6 2.8" stroke-linejoin="round"/>
<path d="M557.22,222.02 L557.38,221.86 L557.53,221.7 L557.68,221.54 L557.83,221.38 L557.99,221.22 L558.14,221.06 L558.29,220.9 L558.44,220.74 L558.6,220.58 L558.75,220.42 L558.9,220.26 L559.06,220.1 L559.18,219.97 L559.21,219.94 L559.36,219.78 L559.51,219.62 L559.67,219.46 L559.82,219.3 L559.97,219.14 L560.12,218.98 L560.28,218.82 L560.43,218.66 L560.58,218.5 L560.73,218.34 L560.89,218.18 L561.04,218.02 L561.13,217.93 L561.19,217.86 L561.35,217.7 L561.5,217.54 L561.65,217.39 L561.8,217.23 L561.96,217.07 L562.11,216.91 L562.26,216.75 L562.41,216.59 L562.57,216.43 L562.72,216.27 L562.87,216.12 L563.02,215.96 L563.09,215.89 L563.18,215.8 L565.04,213.87 L567,211.86 L568.95,209.87 L570.91,207.89 L572.86,205.92 L574.81,203.96 L576.77,202.02 L578.72,200.1 L580.68,198.21 L582.63,196.35 L584.59,194.49 L586.54,192.65 L588.5,190.84 L590.45,189.09 L592.41,187.41 L594.36,185.81 L596.31,184.24 L598.27,182.71 L600.22,181.24 L602.18,179.83 L604.13,178.52 L606.09,177.31 L608.04,176.14 L610,175.01 L611.95,173.93 L613.91,172.89 L615.86,171.92 L617.82,171.02 L619.77,170.2 L621.72,169.46 L623.68,168.8 L625.63,168.18 L627.59,167.61 L629.54,167.08 L631.5,166.57 L633.45,166.07 L635.41,165.58 L637.36,165.09 L639.32,164.6 L641.27,164.1 L643.22,163.62 L645.18,163.14 L647.13,162.67 L649.09,162.22 L651.04,161.78 L653,161.35 L654.95,160.93 L656.91,160.53 L658.86,160.15 L660.82,159.77 L662.77,159.41 L664.72,159.05 L666.68,158.69 L668.63,158.34 L670.59,157.98 L672.54,157.62 L674.5,157.25 L676.45,156.88 L678.41,156.51 L680.36,156.13 L682.32,155.76 L684.27,155.39 L686.23,155.01 L688.18,154.64 L690.13,154.26 L692.09,153.89 L694.04,153.51 L696,153.14 L697.95,152.76 L699.91,152.39 L701.86,152.01 L703.82,151.63 L705.77,151.26 L707.73,150.88 L709.68,150.51 L711.63,150.13 L713.59,149.75 L715.54,149.37 L717.5,149 L719.45,148.62 L721.41,148.24 L723.36,147.87 L725.32,147.49 L727.27,147.11 L729.23,146.73 L731.18,146.36 L733.13,145.98 L735.09,145.6 L737.04,145.22 L739,144.85 L740.95,144.47 L742.91,144.09 L744.86,143.71 L746.82,143.34 L748.77,142.96 L750.73,142.58 L752.68,142.21 L754.64,141.83 L756.59,141.45 L758.54,141.08 L760.5,140.7 L762.45,140.33 L764.41,139.95 L766.36,139.58 L768.32,139.2 L770.27,138.83 L772.23,138.45 L774.18,138.08 L776.14,137.7 L778.09,137.33 L780.04,136.96 L782,136.58 L783.95,136.21 L785.91,135.83 L787.86,135.46 L789.82,135.08 L791.77,134.71 L793.73,134.34 L795.68,133.96 L797.64,133.59 L799.59,133.22 L801.54,132.84 L803.5,132.47 L805.45,132.1 L807.41,131.73 L809.36,131.36 L811.32,130.99 L813.27,130.62 L815.23,130.25 L817.18,129.88 L819.14,129.51 L821.09,129.15 L823.04,128.78 L825,128.41 L826.95,128.05 L828.91,127.68 L830.86,127.32 L832.82,126.96 L834.77,126.59 L836.73,126.23 L838.68,125.87 L840.64,125.5 L842.59,125.14 L844.55,124.78 L846.5,124.42 L848.45,124.06 L850.41,123.7 L852.36,123.34 L854.32,122.98 L856.27,122.62 L858.23,122.26 L860.18,121.91 L862.14,121.55 L864.09,121.19 L866.05,120.84 L868,120.48" fill="none" stroke="#ff1aff" stroke-width="1.0" stroke-linejoin="round"/>
</g>
<rect x="534.6" y="35" width="333.4" height="285.7" fill="none" stroke="#686868" stroke-width="1.75"/>
<path d="M582.23,320.7 V315.9 M629.86,320.7 V315.9 M677.49,320.7 V315.9 M725.11,320.7 V315.9 M772.74,320.7 V315.9 M820.37,320.7 V315.9 M534.6,263.56 H539.6 M534.6,206.42 H539.6 M534.6,149.28 H539.6 M534.6,92.14 H539.6" stroke="#2a2a2a" stroke-width="1.05" fill="none"/>
<text x="534.6" y="337.2" class="tk" text-anchor="middle">0</text>
<text x="582.23" y="337.2" class="tk" text-anchor="middle">200</text>
<text x="629.86" y="337.2" class="tk" text-anchor="middle">400</text>
<text x="677.49" y="337.2" class="tk" text-anchor="middle">600</text>
<text x="725.11" y="337.2" class="tk" text-anchor="middle">800</text>
<text x="772.74" y="337.2" class="tk" text-anchor="middle">1000</text>
<text x="820.37" y="337.2" class="tk" text-anchor="middle">1200</text>
<text x="868" y="337.2" class="tk" text-anchor="middle">1400</text>
<text x="528.6" y="325" class="tk" text-anchor="end">0</text>
<text x="528.6" y="267.86" class="tk" text-anchor="end">500</text>
<text x="528.6" y="210.72" class="tk" text-anchor="end">1000</text>
<text x="528.6" y="153.58" class="tk" text-anchor="end">1500</text>
<text x="528.6" y="96.44" class="tk" text-anchor="end">2000</text>
<text x="528.6" y="39.3" class="tk" text-anchor="end">2500</text>
<text x="701.6" y="354.5" class="ax" text-anchor="middle" style="font-size:16.7px">Depth (km)</text>
<text transform="translate(494.4,177.05) rotate(-90)" class="ax" text-anchor="middle" style="font-size:17.1px">Temperature (K)</text>
<text x="465.1" y="28.2" class="pl">(b)</text>
<rect x="567.9" y="292" width="53.38" height="19.4" fill="#fff" stroke="#3a3a3a" stroke-width="1.25"/><text transform="translate(570,306.7) scale(1,1.13)" class="pp">100 ppm</text>
<clipPath id="clipc"><rect x="86" y="421.6" width="334" height="285.8"/></clipPath>
<g clip-path="url(#clipc)">
<path d="M86,572.85 L142.78,572.85 L142.78,565.19 L158.76,565.19 L158.76,553.64 L178.09,553.64 L178.09,535.58 L193.83,535.58 L193.83,530.2 L213.16,530.2 L213.16,522.89 L229.62,522.89 L229.62,519 L253,519 L253,513.17 L290.69,513.17 L290.69,504.25 L318.85,504.25 L318.85,491.79 L358.93,491.79 L358.93,477.27 L411.89,477.27 L411.89,461.04 L420,461.04 L420,499.34 L411.89,499.34 L411.89,506.31 L358.93,506.31 L358.93,511.11 L318.85,511.11 L318.85,523.34 L290.69,523.34 L290.69,529.4 L253,529.4 L253,542.78 L229.62,542.78 L229.62,576.5 L213.16,576.5 L213.16,608.06 L193.83,608.06 L193.83,608.06 L178.09,608.06 L178.09,623.03 L158.76,623.03 L158.76,623.03 L142.78,623.03 L142.78,652.87 L86,652.87 Z" fill="#c0c0c0" stroke="#8c8c8c" stroke-width="1"/>
<path d="M86,516.03 L88.81,515.5 L91.61,514.97 L94.42,514.45 L97.23,513.92 L100.03,513.4 L102.84,512.89 L105.65,512.37 L108.45,511.86 L111.26,511.35 L114.07,510.84 L116.87,510.34 L119.68,509.84 L122.49,509.34 L125.29,508.84 L128.1,508.35 L130.91,507.86 L133.71,507.37 L136.52,506.88 L139.33,506.4 L142.13,505.92 L144.94,505.44 L147.75,504.97 L150.55,504.49 L153.36,504.02 L156.17,503.55 L158.97,503.09 L161.78,502.63 L164.59,502.17 L167.39,501.71 L170.2,501.25 L173.01,500.8 L175.82,500.35 L178.62,499.9 L181.43,499.46 L184.24,499.02 L187.04,498.58 L189.85,498.14 L192.66,497.71 L195.46,497.27 L198.27,496.84 L201.08,496.42 L203.88,495.99 L206.69,495.57 L209.5,495.15 L212.3,494.74 L215.11,494.32 L217.92,493.91 L220.72,493.5 L223.53,493.1 L226.34,492.69 L229.14,492.29 L231.95,491.89 L234.76,491.5 L237.56,491.11 L240.37,490.72 L243.18,490.33 L245.98,489.94 L248.79,489.56 L251.6,489.18 L254.4,488.8 L257.21,488.43 L260.02,488.05 L262.82,487.68 L265.63,487.32 L268.44,486.95 L271.24,486.59 L274.05,486.23 L276.86,485.87 L279.66,485.52 L282.47,485.17 L285.28,484.82 L288.08,484.47 L290.89,484.13 L293.7,483.79 L296.5,483.45 L299.31,483.11 L302.12,482.78 L304.92,482.45 L307.73,482.12 L310.54,481.79 L313.34,481.47 L316.15,481.15 L318.96,480.83 L321.76,480.51 L324.57,480.2 L327.38,479.89 L330.18,479.58 L332.99,479.28 L335.8,478.97 L338.61,478.67 L341.41,478.38 L344.22,478.08 L347.03,477.79 L349.83,477.5 L352.64,477.21 L355.45,476.93 L358.25,476.65 L361.06,476.37 L363.87,476.09 L366.67,475.81 L369.48,475.54 L372.29,475.27 L375.09,475.01 L377.9,474.74 L380.71,474.48 L383.51,474.22 L386.32,473.97 L389.13,473.71 L391.93,473.46 L394.74,473.21 L397.55,472.97 L400.35,472.72 L403.16,472.48 L405.97,472.25 L408.77,472.01 L411.58,471.78 L414.39,471.55 L417.19,471.32 L420,471.09" fill="none" stroke="#1ae6f0" stroke-width="1.1" stroke-linejoin="round"/>
<path d="M86,526.66 L88.81,526.12 L91.61,525.59 L94.42,525.06 L97.23,524.53 L100.03,524.01 L102.84,523.48 L105.65,522.96 L108.45,522.45 L111.26,521.93 L114.07,521.42 L116.87,520.92 L119.68,520.41 L122.49,519.91 L125.29,519.41 L128.1,518.91 L130.91,518.42 L133.71,517.93 L136.52,517.44 L139.33,516.95 L142.13,516.47 L144.94,515.99 L147.75,515.52 L150.55,515.04 L153.36,514.57 L156.17,514.1 L158.97,513.64 L161.78,513.18 L164.59,512.72 L167.39,512.26 L170.2,511.81 L173.01,511.36 L175.82,510.91 L178.62,510.46 L181.43,510.02 L184.24,509.58 L187.04,509.14 L189.85,508.71 L192.66,508.28 L195.46,507.85 L198.27,507.43 L201.08,507 L203.88,506.59 L206.69,506.17 L209.5,505.76 L212.3,505.34 L215.11,504.94 L217.92,504.53 L220.72,504.13 L223.53,503.73 L226.34,503.33 L229.14,502.94 L231.95,502.55 L234.76,502.16 L237.56,501.78 L240.37,501.39 L243.18,501.01 L245.98,500.64 L248.79,500.26 L251.6,499.89 L254.4,499.53 L257.21,499.16 L260.02,498.8 L262.82,498.44 L265.63,498.08 L268.44,497.73 L271.24,497.38 L274.05,497.03 L276.86,496.68 L279.66,496.34 L282.47,496 L285.28,495.67 L288.08,495.33 L290.89,495 L293.7,494.67 L296.5,494.35 L299.31,494.03 L302.12,493.71 L304.92,493.39 L307.73,493.08 L310.54,492.77 L313.34,492.46 L316.15,492.15 L318.96,491.85 L321.76,491.55 L324.57,491.26 L327.38,490.96 L330.18,490.67 L332.99,490.38 L335.8,490.1 L338.61,489.82 L341.41,489.54 L344.22,489.26 L347.03,488.99 L349.83,488.72 L352.64,488.45 L355.45,488.18 L358.25,487.92 L361.06,487.66 L363.87,487.4 L366.67,487.15 L369.48,486.9 L372.29,486.65 L375.09,486.41 L377.9,486.16 L380.71,485.93 L383.51,485.69 L386.32,485.45 L389.13,485.22 L391.93,485 L394.74,484.77 L397.55,484.55 L400.35,484.33 L403.16,484.11 L405.97,483.9 L408.77,483.69 L411.58,483.48 L414.39,483.28 L417.19,483.07 L420,482.87" fill="none" stroke="#1ae6f0" stroke-width="1.1" stroke-dasharray="4.5 3" stroke-linejoin="round"/>
<path d="M86,538.89 L88.81,538.1 L91.61,537.31 L94.42,536.53 L97.23,535.75 L100.03,534.98 L102.84,534.21 L105.65,533.45 L108.45,532.7 L111.26,531.94 L114.07,531.2 L116.87,530.46 L119.68,529.72 L122.49,528.99 L125.29,528.27 L128.1,527.55 L130.91,526.84 L133.71,526.13 L136.52,525.42 L139.33,524.73 L142.13,524.03 L144.94,523.35 L147.75,522.66 L150.55,521.99 L153.36,521.32 L156.17,520.65 L158.97,519.99 L161.78,519.33 L164.59,518.68 L167.39,518.04 L170.2,517.4 L173.01,516.76 L175.82,516.13 L178.62,515.51 L181.43,514.89 L184.24,514.28 L187.04,513.67 L189.85,513.07 L192.66,512.47 L195.46,511.88 L198.27,511.29 L201.08,510.71 L203.88,510.13 L206.69,509.56 L209.5,508.99 L212.3,508.43 L215.11,507.88 L217.92,507.33 L220.72,506.78 L223.53,506.24 L226.34,505.71 L229.14,505.18 L231.95,504.66 L234.76,504.14 L237.56,503.62 L240.37,503.12 L243.18,502.61 L245.98,502.12 L248.79,501.62 L251.6,501.14 L254.4,500.66 L257.21,500.18 L260.02,499.71 L262.82,499.24 L265.63,498.78 L268.44,498.33 L271.24,497.88 L274.05,497.44 L276.86,497 L279.66,496.56 L282.47,496.13 L285.28,495.71 L288.08,495.29 L290.89,494.88 L293.7,494.47 L296.5,494.07 L299.31,493.67 L302.12,493.28 L304.92,492.9 L307.73,492.52 L310.54,492.14 L313.34,491.77 L316.15,491.4 L318.96,491.04 L321.76,490.69 L324.57,490.34 L327.38,490 L330.18,489.66 L332.99,489.32 L335.8,489 L338.61,488.67 L341.41,488.36 L344.22,488.04 L347.03,487.74 L349.83,487.44 L352.64,487.14 L355.45,486.85 L358.25,486.56 L361.06,486.28 L363.87,486.01 L366.67,485.74 L369.48,485.47 L372.29,485.21 L375.09,484.96 L377.9,484.71 L380.71,484.47 L383.51,484.23 L386.32,483.99 L389.13,483.77 L391.93,483.54 L394.74,483.33 L397.55,483.12 L400.35,482.91 L403.16,482.71 L405.97,482.51 L408.77,482.32 L411.58,482.14 L414.39,481.96 L417.19,481.78 L420,481.61" fill="none" stroke="#222" stroke-width="1.1" stroke-linejoin="round"/>
<path d="M86,548.5 L88.81,547.69 L91.61,546.89 L94.42,546.1 L97.23,545.32 L100.03,544.53 L102.84,543.76 L105.65,542.99 L108.45,542.22 L111.26,541.46 L114.07,540.71 L116.87,539.96 L119.68,539.22 L122.49,538.48 L125.29,537.75 L128.1,537.02 L130.91,536.3 L133.71,535.58 L136.52,534.87 L139.33,534.17 L142.13,533.47 L144.94,532.77 L147.75,532.08 L150.55,531.4 L153.36,530.72 L156.17,530.05 L158.97,529.38 L161.78,528.72 L164.59,528.06 L167.39,527.41 L170.2,526.76 L173.01,526.12 L175.82,525.49 L178.62,524.86 L181.43,524.23 L184.24,523.62 L187.04,523 L189.85,522.4 L192.66,521.79 L195.46,521.2 L198.27,520.6 L201.08,520.02 L203.88,519.44 L206.69,518.86 L209.5,518.29 L212.3,517.73 L215.11,517.17 L217.92,516.61 L220.72,516.07 L223.53,515.52 L226.34,514.99 L229.14,514.45 L231.95,513.93 L234.76,513.41 L237.56,512.89 L240.37,512.38 L243.18,511.88 L245.98,511.38 L248.79,510.88 L251.6,510.39 L254.4,509.91 L257.21,509.43 L260.02,508.96 L262.82,508.49 L265.63,508.03 L268.44,507.58 L271.24,507.12 L274.05,506.68 L276.86,506.24 L279.66,505.81 L282.47,505.38 L285.28,504.95 L288.08,504.53 L290.89,504.12 L293.7,503.71 L296.5,503.31 L299.31,502.92 L302.12,502.52 L304.92,502.14 L307.73,501.76 L310.54,501.38 L313.34,501.01 L316.15,500.65 L318.96,500.29 L321.76,499.94 L324.57,499.59 L327.38,499.25 L330.18,498.91 L332.99,498.58 L335.8,498.25 L338.61,497.93 L341.41,497.62 L344.22,497.31 L347.03,497 L349.83,496.71 L352.64,496.41 L355.45,496.12 L358.25,495.84 L361.06,495.56 L363.87,495.29 L366.67,495.03 L369.48,494.77 L372.29,494.51 L375.09,494.26 L377.9,494.01 L380.71,493.78 L383.51,493.54 L386.32,493.31 L389.13,493.09 L391.93,492.87 L394.74,492.66 L397.55,492.45 L400.35,492.25 L403.16,492.06 L405.97,491.87 L408.77,491.68 L411.58,491.5 L414.39,491.33 L417.19,491.16 L420,490.99" fill="none" stroke="#222" stroke-width="1.1" stroke-dasharray="4 4.2" stroke-linejoin="round"/>
<path d="M86,610.57 L88.81,608.8 L91.61,607.03 L94.42,605.27 L97.23,603.52 L100.03,601.76 L102.84,600.02 L105.65,598.27 L108.45,596.54 L111.26,594.8 L114.07,593.07 L116.87,591.35 L119.68,589.63 L122.49,587.92 L125.29,586.21 L128.1,584.5 L130.91,582.8 L133.71,581.11 L136.52,579.41 L139.33,577.73 L142.13,576.05 L144.94,574.37 L147.75,572.7 L150.55,571.03 L153.36,569.37 L156.17,567.71 L158.97,566.06 L161.78,564.41 L164.59,562.77 L167.39,561.13 L170.2,559.49 L173.01,557.86 L175.82,556.24 L178.62,554.62 L181.43,553 L184.24,551.39 L187.04,549.79 L189.85,548.18 L192.66,546.59 L195.46,545 L198.27,543.41 L201.08,541.83 L203.88,540.25 L206.69,538.68 L209.5,537.11 L212.3,535.54 L215.11,533.98 L217.92,532.43 L220.72,530.88 L223.53,529.34 L226.34,527.8 L229.14,526.26 L231.95,524.73 L234.76,523.2 L237.56,521.68 L240.37,520.17 L243.18,518.65 L245.98,517.15 L248.79,515.64 L251.6,514.15 L254.4,512.65 L257.21,511.17 L260.02,509.68 L262.82,508.2 L265.63,506.73 L268.44,505.26 L271.24,503.8 L274.05,502.34 L276.86,500.88 L279.66,499.43 L282.47,497.98 L285.28,496.54 L288.08,495.11 L290.89,493.67 L293.7,492.25 L296.5,490.83 L299.31,489.41 L302.12,488 L304.92,486.59 L307.73,485.18 L310.54,483.79 L313.34,482.39 L316.15,481 L318.96,479.62 L321.76,478.24 L324.57,476.86 L327.38,475.49 L330.18,474.13 L332.99,472.77 L335.8,471.41 L338.61,470.06 L341.41,468.71 L344.22,467.37 L347.03,466.03 L349.83,464.7 L352.64,463.37 L355.45,462.05 L358.25,460.73 L361.06,459.41 L363.87,458.11 L366.67,456.8 L369.48,455.5 L372.29,454.21 L375.09,452.92 L377.9,451.63 L380.71,450.35 L383.51,449.07 L386.32,447.8 L389.13,446.53 L391.93,445.27 L394.74,444.02 L397.55,442.76 L400.35,441.51 L403.16,440.27 L405.97,439.03 L408.77,437.8 L411.58,436.57 L414.39,435.35 L417.19,434.13 L420,432.91" fill="none" stroke="#40d840" stroke-width="1.0" stroke-linejoin="round"/>
<path d="M86,650.24 L86.73,649.96 L87.47,649.69 L88.1,649.45 L88.2,649.41 L88.94,649.13 L89.67,648.86 L90.2,648.66 L90.4,648.58 L91.14,648.31 L91.87,648.03 L92.3,647.87 L92.61,647.76 L93.34,647.48 L94.07,647.2 L94.4,647.08 L94.81,646.93 L95.54,646.65 L96.28,646.38 L96.5,646.29 L97.01,646.1 L97.75,645.83 L98.48,645.55 L98.6,645.51 L99.21,645.28 L99.95,645 L100.68,644.73 L100.7,644.72 L101.42,644.45 L102.15,644.18 L102.81,643.94 L102.88,643.91 L103.62,643.63 L104.35,643.36 L104.91,643.15 L105.09,643.08 L105.82,642.81 L106.55,642.54 L107.01,642.37 L107.29,642.26 L108.02,641.99 L108.76,641.72 L109.11,641.58 L109.49,641.44 L110.22,641.17 L110.96,640.9 L111.21,640.8 L111.69,640.62 L112.43,640.35 L113.16,640.08 L113.31,640.02 L113.89,639.8 L114.63,639.53 L115.41,639.24 L117.51,638.46 L119.61,637.68 L121.71,636.9 L123.81,636.13 L125.91,635.35 L128.01,634.58 L130.11,633.8 L132.21,633.03 L134.31,632.25 L136.42,631.48 L138.52,630.71 L140.62,629.94 L142.72,629.17 L144.82,628.4 L146.92,627.63 L149.02,626.87 L151.12,626.1 L153.22,625.33 L155.32,624.57 L157.42,623.8 L159.52,623.04 L161.62,622.28 L163.72,621.52 L165.82,620.76 L167.92,620 L170.03,619.24 L172.13,618.48 L174.23,617.72 L176.33,616.97 L178.43,616.21 L180.53,615.45 L182.63,614.7 L184.73,613.94 L186.83,613.19 L188.93,612.44 L191.03,611.69 L193.13,610.93 L195.23,610.18 L197.33,609.43 L199.43,608.68 L201.53,607.94 L203.64,607.19 L205.74,606.44 L207.84,605.69 L209.94,604.95 L212.04,604.21 L214.14,603.46 L216.24,602.72 L218.34,601.98 L220.44,601.24 L222.54,600.5 L224.64,599.76 L226.74,599.02 L228.84,598.28 L230.94,597.55 L233.04,596.81 L235.14,596.08 L237.25,595.35 L239.35,594.62 L241.45,593.89 L243.55,593.16 L245.65,592.43 L247.75,591.7 L249.85,590.98 L251.95,590.25 L254.05,589.53 L256.15,588.81 L258.25,588.09 L260.35,587.37 L262.45,586.65 L264.55,585.93 L266.65,585.21 L268.75,584.49 L270.86,583.77 L272.96,583.05 L275.06,582.33 L277.16,581.62 L279.26,580.9 L281.36,580.19 L283.46,579.47 L285.56,578.76 L287.66,578.05 L289.76,577.33 L291.86,576.63 L293.96,575.92 L296.06,575.21 L298.16,574.5 L300.26,573.8 L302.36,573.1 L304.47,572.4 L306.57,571.7 L308.67,571 L310.77,570.3 L312.87,569.61 L314.97,568.92 L317.07,568.23 L319.17,567.54 L321.27,566.86 L323.37,566.18 L325.47,565.5 L327.57,564.82 L329.67,564.14 L331.77,563.47 L333.87,562.8 L335.97,562.13 L338.08,561.47 L340.18,560.81 L342.28,560.15 L344.38,559.5 L346.48,558.85 L348.58,558.21 L350.68,557.56 L352.78,556.93 L354.88,556.29 L356.98,555.65 L359.08,555.02 L361.18,554.39 L363.28,553.77 L365.38,553.14 L367.48,552.52 L369.58,551.89 L371.69,551.27 L373.79,550.65 L375.89,550.03 L377.99,549.41 L380.09,548.79 L382.19,548.18 L384.29,547.56 L386.39,546.94 L388.49,546.32 L390.59,545.7 L392.69,545.08 L394.79,544.46 L396.89,543.83 L398.99,543.21 L401.09,542.58 L403.19,541.96 L405.3,541.33 L407.4,540.69 L409.5,540.06 L411.6,539.42 L413.7,538.78 L415.8,538.14 L417.9,537.49 L420,536.83" fill="none" stroke="#40d840" stroke-width="1.0" stroke-dasharray="4.4 3.1" stroke-linejoin="round"/>
<path d="M86,650.24 L88.13,649.5 L90.26,648.76 L92.39,648.02 L94.52,647.28 L96.65,646.54 L98.77,645.81 L100.9,645.07 L103.03,644.34 L105.16,643.61 L107.29,642.87 L109.42,642.14 L111.55,641.41 L113.68,640.68 L115.81,639.95 L117.94,639.23 L120.07,638.5 L122.19,637.78 L124.32,637.05 L126.45,636.33 L128.58,635.61 L130.71,634.89 L132.84,634.17 L134.97,633.45 L137.1,632.73 L139.23,632.01 L141.36,631.3 L143.49,630.58 L145.61,629.87 L147.74,629.16 L149.87,628.45 L152,627.73 L154.13,627.03 L156.26,626.32 L158.39,625.61 L160.52,624.9 L162.65,624.2 L164.78,623.49 L166.91,622.79 L169.03,622.09 L171.16,621.38 L173.29,620.68 L175.42,619.98 L177.55,619.29 L179.68,618.59 L181.81,617.89 L183.94,617.2 L186.07,616.5 L188.2,615.81 L190.33,615.12 L192.45,614.43 L194.58,613.74 L196.71,613.05 L198.84,612.36 L200.97,611.67 L203.1,610.99 L205.23,610.3 L207.36,609.62 L209.49,608.93 L211.62,608.25 L213.75,607.57 L215.88,606.89 L218,606.21 L220.13,605.53 L222.26,604.86 L224.39,604.18 L226.52,603.51 L228.65,602.83 L230.78,602.16 L232.91,601.49 L235.04,600.82 L237.17,600.15 L239.3,599.48 L241.42,598.81 L243.55,598.14 L245.68,597.48 L247.81,596.81 L249.94,596.15 L252.07,595.49 L254.2,594.82 L256.33,594.16 L258.46,593.5 L260.59,592.85 L262.72,592.19 L264.84,591.53 L266.97,590.88 L269.1,590.22 L271.23,589.57 L273.36,588.92 L275.49,588.26 L277.62,587.61 L279.75,586.96 L281.88,586.32 L284.01,585.67 L286.14,585.02 L288.26,584.38 L290.39,583.73 L292.52,583.09 L294.65,582.45 L296.78,581.81 L298.91,581.17 L301.04,580.53 L303.17,579.89 L305.3,579.25 L307.43,578.62 L309.56,577.98 L311.68,577.35 L313.81,576.71 L315.94,576.08 L318.07,575.45 L320.2,574.82 L322.33,574.19 L324.46,573.56 L326.59,572.94 L328.72,572.31 L330.85,571.69 L332.98,571.06 L335.1,570.44 L337.23,569.82 L339.36,569.2" fill="none" stroke="#40d840" stroke-width="1.0" stroke-dasharray="1.9 1.5" stroke-linejoin="round"/>
<path d="M338.89,569.34 L341.68,568.52 L344.48,567.71 L347.28,566.9 L350.07,566.09 L352.87,565.28 L355.67,564.48 L358.47,563.67 L361.26,562.87 L364.06,562.07 L366.86,561.27 L369.65,560.48 L372.45,559.68 L375.25,558.89 L378.04,558.1 L380.84,557.31 L383.64,556.52 L386.44,555.73 L389.23,554.95 L392.03,554.17 L394.83,553.39 L397.62,552.61 L400.42,551.83 L403.22,551.06 L406.01,550.28 L408.81,549.51 L411.61,548.74 L414.41,547.97 L417.2,547.2 L420,546.44" fill="none" stroke="#40d840" stroke-width="1.0" stroke-linejoin="round"/>
<path d="M86,675.85 L86.73,672.64 L87.47,669.39 L88.1,666.48 L88.2,666.01 L88.94,662.54 L89.67,659.04 L90.2,656.53 L90.4,655.58 L91.14,652.22 L91.87,649.01 L92.3,647.23 L92.61,646.02 L93.34,643.29 L94.07,640.71 L94.4,639.59 L94.81,638.22 L95.54,635.8 L96.28,633.48 L96.5,632.78 L97.01,631.25 L97.75,629.11 L98.48,627.07 L98.6,626.73 L99.21,625.13 L99.95,623.3 L100.68,621.58 L100.7,621.53 L101.42,619.95 L102.15,618.38 L102.81,617.04 L102.88,616.88 L103.62,615.43 L104.35,614.03 L104.91,613.01 L105.09,612.68 L105.82,611.37 L106.55,610.1 L107.01,609.33 L107.29,608.86 L108.02,607.64 L108.76,606.45 L109.11,605.88 L109.49,605.27 L110.22,604.1 L110.96,602.94 L111.21,602.54 L111.69,601.77 L112.43,600.61 L113.16,599.43 L113.31,599.19 L113.89,598.25 L114.63,597.1 L115.41,595.89 L117.51,592.76 L119.61,589.76 L121.71,586.88 L123.81,583.83 L125.91,580.51 L128.01,577.22 L130.11,573.94 L132.21,571.01 L134.31,568.73 L136.42,566.68 L138.52,564.42 L140.62,561.97 L142.72,559.44 L144.82,556.92 L146.92,554.5 L149.02,552.22 L151.12,550.04 L153.22,547.92 L155.32,545.83 L157.42,543.72 L159.52,541.64 L161.62,539.68 L163.72,537.9 L165.82,536.28 L167.92,534.82 L170.03,533.54 L172.13,532.37 L174.23,531.31 L176.33,530.38 L178.43,529.59 L180.53,528.88 L182.63,528.24 L184.73,527.63 L186.83,527.03 L188.93,526.44 L191.03,525.88 L193.13,525.34 L195.23,524.83 L197.33,524.36 L199.43,523.9 L201.53,523.47 L203.64,523.05 L205.74,522.65 L207.84,522.26 L209.94,521.88 L212.04,521.52 L214.14,521.17 L216.24,520.83 L218.34,520.5 L220.44,520.18 L222.54,519.86 L224.64,519.55 L226.74,519.23 L228.84,518.93 L230.94,518.63 L233.04,518.33 L235.14,518.04 L237.25,517.76 L239.35,517.47 L241.45,517.19 L243.55,516.9 L245.65,516.62 L247.75,516.34 L249.85,516.06 L251.95,515.78 L254.05,515.5 L256.15,515.23 L258.25,514.96 L260.35,514.68 L262.45,514.41 L264.55,514.14 L266.65,513.87 L268.75,513.6 L270.86,513.33 L272.96,513.06 L275.06,512.8 L277.16,512.53 L279.26,512.26 L281.36,512 L283.46,511.73 L285.56,511.46 L287.66,511.2 L289.76,510.93 L291.86,510.67 L293.96,510.4 L296.06,510.13 L298.16,509.86 L300.26,509.6 L302.36,509.33 L304.47,509.06 L306.57,508.79 L308.67,508.52 L310.77,508.25 L312.87,507.98 L314.97,507.71 L317.07,507.43 L319.17,507.16 L321.27,506.88 L323.37,506.6 L325.47,506.32 L327.57,506.04 L329.67,505.76 L331.77,505.48 L333.87,505.19 L335.97,504.91 L338.08,504.62 L340.18,504.34 L342.28,504.05 L344.38,503.76 L346.48,503.47 L348.58,503.19 L350.68,502.9 L352.78,502.61 L354.88,502.32 L356.98,502.03 L359.08,501.74 L361.18,501.44 L363.28,501.15 L365.38,500.86 L367.48,500.57 L369.58,500.27 L371.69,499.98 L373.79,499.68 L375.89,499.39 L377.99,499.09 L380.09,498.79 L382.19,498.5 L384.29,498.2 L386.39,497.9 L388.49,497.6 L390.59,497.3 L392.69,497 L394.79,496.7 L396.89,496.4 L398.99,496.1 L401.09,495.8 L403.19,495.49 L405.3,495.19 L407.4,494.89 L409.5,494.58 L411.6,494.28 L413.7,493.97 L415.8,493.66 L417.9,493.36 L420,493.05" fill="none" stroke="#2a2aff" stroke-width="1.1" stroke-dasharray="4.5 3.9" stroke-linejoin="round"/>
<path d="M86,675.39 L86.73,671.74 L87.47,668.16 L88.1,665.15 L88.2,664.67 L88.94,661.29 L89.67,658.03 L90.2,655.76 L90.4,654.91 L91.14,651.93 L91.87,649.12 L92.3,647.5 L92.61,646.36 L93.34,643.63 L94.07,640.93 L94.4,639.75 L94.81,638.3 L95.54,635.76 L96.28,633.31 L96.5,632.58 L97.01,630.99 L97.75,628.8 L98.48,626.78 L98.6,626.46 L99.21,624.94 L99.95,623.31 L100.68,621.87 L100.7,621.83 L101.42,620.57 L102.15,619.38 L102.81,618.39 L102.88,618.28 L103.62,617.24 L104.35,616.26 L104.91,615.54 L105.09,615.31 L105.82,614.37 L106.55,613.42 L107.01,612.82 L107.29,612.46 L108.02,611.56 L108.76,610.71 L109.11,610.31 L109.49,609.89 L110.22,609.07 L110.96,608.25 L111.21,607.97 L111.69,607.4 L112.43,606.5 L113.16,605.53 L113.31,605.33 L113.89,604.47 L114.63,603.24 L115.41,601.76 L117.51,597.48 L119.61,594.04 L121.71,591.32 L123.81,588.92 L125.91,586.71 L128.01,584.6 L130.11,582.48 L132.21,580.28 L134.31,578.07 L136.42,575.92 L138.52,573.9 L140.62,572.04 L142.72,570.4 L144.82,568.87 L146.92,567.3 L149.02,565.61 L151.12,563.87 L153.22,562.12 L155.32,560.42 L157.42,558.82 L159.52,557.36 L161.62,555.99 L163.72,554.68 L165.82,553.42 L167.92,552.2 L170.03,551.04 L172.13,549.93 L174.23,548.86 L176.33,547.85 L178.43,546.89 L180.53,546 L182.63,545.17 L184.73,544.37 L186.83,543.6 L188.93,542.84 L191.03,542.12 L193.13,541.44 L195.23,540.8 L197.33,540.2 L199.43,539.61 L201.53,539.04 L203.64,538.48 L205.74,537.93 L207.84,537.4 L209.94,536.88 L212.04,536.38 L214.14,535.89 L216.24,535.41 L218.34,534.95 L220.44,534.51 L222.54,534.08 L224.64,533.66 L226.74,533.26 L228.84,532.88 L230.94,532.51 L233.04,532.16 L235.14,531.83 L237.25,531.5 L239.35,531.2 L241.45,530.9 L243.55,530.62 L245.65,530.35 L247.75,530.08 L249.85,529.82 L251.95,529.57 L254.05,529.33 L256.15,529.09 L258.25,528.85 L260.35,528.62 L262.45,528.4 L264.55,528.17 L266.65,527.95 L268.75,527.73 L270.86,527.51 L272.96,527.3 L275.06,527.08 L277.16,526.86 L279.26,526.65 L281.36,526.43 L283.46,526.21 L285.56,525.98 L287.66,525.75 L289.76,525.52 L291.86,525.3 L293.96,525.07 L296.06,524.85 L298.16,524.63 L300.26,524.41 L302.36,524.19 L304.47,523.97 L306.57,523.75 L308.67,523.53 L310.77,523.31 L312.87,523.09 L314.97,522.87 L317.07,522.64 L319.17,522.41 L321.27,522.18 L323.37,521.94 L325.47,521.7 L327.57,521.45 L329.67,521.19 L331.77,520.93 L333.87,520.67 L335.97,520.39 L338.08,520.11 L340.18,519.83 L342.28,519.54 L344.38,519.24 L346.48,518.94 L348.58,518.64 L350.68,518.33 L352.78,518.02 L354.88,517.71 L356.98,517.4 L359.08,517.08 L361.18,516.77 L363.28,516.45 L365.38,516.14 L367.48,515.82 L369.58,515.51 L371.69,515.2 L373.79,514.89 L375.89,514.58 L377.99,514.27 L380.09,513.96 L382.19,513.65 L384.29,513.34 L386.39,513.03 L388.49,512.71 L390.59,512.4 L392.69,512.08 L394.79,511.77 L396.89,511.45 L398.99,511.13 L401.09,510.81 L403.19,510.49 L405.3,510.17 L407.4,509.85 L409.5,509.53 L411.6,509.21 L413.7,508.89 L415.8,508.56 L417.9,508.24 L420,507.91" fill="none" stroke="#2a2aff" stroke-width="1.0" stroke-dasharray="1.2 1.0" stroke-linejoin="round"/>
<path d="M86,675.39 L86.73,671.85 L87.2,669.63 L87.47,668.35 L88.2,664.89 L88.4,663.97 L88.94,661.47 L89.6,658.42 L89.67,658.09 L90.4,654.76 L90.8,652.99 L91.14,651.47 L91.87,648.22 L92,647.67 L92.61,644.92 L93.19,642.25 L93.34,641.58 L94.07,638.25 L94.39,636.83 L94.81,635 L95.54,631.89 L95.59,631.68 L96.28,628.97 L96.79,627.07 L97.01,626.31 L97.75,623.94 L97.99,623.18 L98.48,621.71 L99.19,619.77 L99.21,619.71 L99.95,618.09 L100.39,617.35 L100.68,616.9 L101.42,615.86 L101.59,615.63 L102.15,614.94 L102.79,614.21 L102.88,614.1 L103.62,613.35 L103.99,612.99 L104.35,612.65 L105.09,611.99 L105.19,611.9 L105.82,611.35 L106.39,610.85 L106.55,610.7 L107.29,610.04 L107.58,609.76 L108.02,609.34 L108.76,608.59 L108.78,608.56" fill="none" stroke="#ff1aff" stroke-width="1.0" stroke-linejoin="round"/>
<path d="M86,675.39 L86.73,671.93 L87.47,668.5 L88.1,665.57 L88.2,665.1 L88.94,661.73 L89.67,658.39 L90.2,655.99 L90.4,655.07 L91.14,651.79 L91.87,648.53 L92.3,646.6 L92.61,645.19 L93.34,641.73 L94.07,638.26 L94.4,636.73 L94.81,634.86 L95.54,631.63 L96.28,628.66 L96.5,627.8 L97.01,626.03 L97.75,623.82 L98.48,621.92 L98.6,621.61 L99.21,620.23 L99.95,618.74 L100.68,617.41 L100.7,617.37 L101.42,616.17 L102.15,614.98 L102.81,613.97 L102.88,613.85 L103.62,612.77 L104.35,611.73 L104.91,610.98 L105.09,610.74 L105.82,609.78 L106.55,608.85 L107.01,608.28 L107.29,607.94 L108.02,607.06 L108.76,606.19 L109.11,605.78 L109.49,605.33 L110.22,604.48 L110.96,603.63 L111.21,603.34 L111.69,602.78 L112.43,601.91 L113.16,601.04 L113.31,600.86 L113.89,600.15 L114.63,599.24 L115.41,598.24 L117.51,595.54 L119.61,592.83 L121.71,590.15 L123.81,587.57 L125.91,585.11 L128.01,582.84 L130.11,580.72 L132.21,578.71 L134.31,576.78 L136.42,574.88 L138.52,572.99 L140.62,571.06 L142.72,569.09 L144.82,567.11 L146.92,565.14 L149.02,563.19 L151.12,561.29 L153.22,559.46 L155.32,557.72 L157.42,556.06 L159.52,554.4 L161.62,552.82 L163.72,551.39 L165.82,550.18 L167.92,549.19 L170.03,548.31 L172.13,547.52 L174.23,546.8 L176.33,546.11 L178.43,545.44 L180.53,544.8 L182.63,544.19 L184.73,543.61 L186.83,543.04 L188.93,542.49 L191.03,541.96 L193.13,541.43 L195.23,540.91 L197.33,540.4 L199.43,539.9 L201.53,539.43 L203.64,538.96 L205.74,538.5 L207.84,538.05 L209.94,537.6 L212.04,537.14 L214.14,536.68 L216.24,536.21 L218.34,535.74 L220.44,535.26 L222.54,534.78 L224.64,534.29 L226.74,533.81 L228.84,533.32 L230.94,532.83 L233.04,532.34 L235.14,531.85 L237.25,531.35 L239.35,530.86 L241.45,530.37 L243.55,529.88 L245.65,529.4 L247.75,528.91 L249.85,528.43 L251.95,527.95 L254.05,527.47 L256.15,526.99 L258.25,526.52 L260.35,526.06 L262.45,525.6 L264.55,525.14 L266.65,524.69 L268.75,524.24 L270.86,523.8 L272.96,523.36 L275.06,522.92 L277.16,522.49 L279.26,522.06 L281.36,521.63 L283.46,521.2 L285.56,520.77 L287.66,520.35 L289.76,519.93 L291.86,519.51 L293.96,519.09 L296.06,518.68 L298.16,518.26 L300.26,517.84 L302.36,517.43 L304.47,517.01 L306.57,516.6 L308.67,516.18 L310.77,515.76 L312.87,515.35 L314.97,514.93 L317.07,514.51 L319.17,514.09 L321.27,513.67 L323.37,513.25 L325.47,512.82 L327.57,512.39 L329.67,511.97 L331.77,511.54 L333.87,511.11 L335.97,510.69 L338.08,510.26 L340.18,509.83 L342.28,509.4 L344.38,508.98 L346.48,508.55 L348.58,508.12 L350.68,507.69 L352.78,507.27 L354.88,506.84 L356.98,506.41 L359.08,505.98 L361.18,505.55 L363.28,505.12 L365.38,504.69 L367.48,504.27 L369.58,503.84 L371.69,503.41 L373.79,502.98 L375.89,502.55 L377.99,502.12 L380.09,501.69 L382.19,501.26 L384.29,500.83 L386.39,500.4 L388.49,499.97 L390.59,499.54 L392.69,499.11 L394.79,498.68 L396.89,498.25 L398.99,497.82 L401.09,497.39 L403.19,496.96 L405.3,496.53 L407.4,496.1 L409.5,495.67 L411.6,495.23 L413.7,494.8 L415.8,494.37 L417.9,493.94 L420,493.51" fill="none" stroke="#ff1a1a" stroke-width="1.0" stroke-linejoin="round"/>
<path d="M86,675.39 L86.73,671.93 L87.47,668.5 L88.1,665.57 L88.2,665.1 L88.94,661.73 L89.67,658.39 L90.2,655.99 L90.4,655.07 L91.14,651.79 L91.87,648.53 L92.3,646.6 L92.61,645.19 L93.34,641.75 L94.07,638.3 L94.4,636.77 L94.81,634.91 L95.54,631.69 L96.28,628.71 L96.5,627.85 L97.01,626.06 L97.75,623.81 L98.48,621.84 L98.6,621.52 L99.21,620.08 L99.95,618.53 L100.68,617.17 L100.7,617.13 L101.42,615.9 L102.15,614.69 L102.81,613.67 L102.88,613.54 L103.62,612.45 L104.35,611.4 L104.91,610.63 L105.09,610.39 L105.82,609.42 L106.55,608.48 L107.01,607.91 L107.29,607.57 L108.02,606.68 L108.76,605.8 L109.11,605.39 L109.49,604.94 L110.22,604.08 L110.96,603.23 L111.21,602.94 L111.69,602.37 L112.43,601.5 L113.16,600.61 L113.31,600.43 L113.89,599.71 L114.63,598.78 L115.41,597.77 L117.51,595.01 L119.61,592.23 L121.71,589.49 L123.81,586.85 L125.91,584.34 L128.01,582.02 L130.11,579.88 L132.21,577.85 L134.31,575.91 L136.42,574 L138.52,572.09 L140.62,570.13 L142.72,568.14 L144.82,566.14 L146.92,564.14 L149.02,562.16 L151.12,560.23 L153.22,558.37 L155.32,556.59 L157.42,554.88 L159.52,553.17 L161.62,551.53 L163.72,550.05 L165.82,548.81 L167.92,547.8 L170.03,546.92 L172.13,546.13 L174.23,545.41 L176.33,544.74 L178.43,544.1 L180.53,543.5 L182.63,542.93 L184.73,542.39 L186.83,541.87 L188.93,541.36 L191.03,540.87 L193.13,540.37 L195.23,539.88 L197.33,539.38 L199.43,538.9 L201.53,538.43 L203.64,537.96 L205.74,537.51 L207.84,537.05 L209.94,536.6 L212.04,536.14 L214.14,535.67 L216.24,535.18 L218.34,534.69 L220.44,534.18 L222.54,533.67 L224.64,533.16 L226.74,532.63 L228.84,532.1 L230.94,531.57 L233.04,531.03 L235.14,530.49 L237.25,529.95 L239.35,529.41 L241.45,528.87 L243.55,528.33 L245.65,527.79 L247.75,527.26 L249.85,526.73 L251.95,526.2 L254.05,525.68 L256.15,525.17 L258.25,524.66 L260.35,524.16 L262.45,523.68 L264.55,523.2 L266.65,522.73 L268.75,522.27 L270.86,521.82 L272.96,521.37 L275.06,520.92 L277.16,520.48 L279.26,520.05 L281.36,519.62 L283.46,519.19 L285.56,518.77 L287.66,518.35 L289.76,517.93 L291.86,517.52 L293.96,517.1 L296.06,516.69 L298.16,516.28 L300.26,515.87 L302.36,515.46 L304.47,515.05 L306.57,514.64 L308.67,514.23 L310.77,513.82 L312.87,513.41 L314.97,512.99 L317.07,512.58 L319.17,512.16 L321.27,511.73 L323.37,511.31 L325.47,510.88 L327.57,510.45 L329.67,510.01 L331.77,509.58 L333.87,509.15 L335.97,508.71 L338.08,508.28 L340.18,507.84 L342.28,507.41 L344.38,506.97 L346.48,506.54 L348.58,506.1 L350.68,505.66 L352.78,505.22 L354.88,504.79 L356.98,504.35 L359.08,503.91 L361.18,503.47 L363.28,503.03 L365.38,502.59 L367.48,502.15 L369.58,501.71 L371.69,501.27 L373.79,500.83 L375.89,500.39 L377.99,499.94 L380.09,499.5 L382.19,499.06 L384.29,498.61 L386.39,498.17 L388.49,497.72 L390.59,497.28 L392.69,496.83 L394.79,496.39 L396.89,495.94 L398.99,495.49 L401.09,495.04 L403.19,494.6 L405.3,494.15 L407.4,493.7 L409.5,493.25 L411.6,492.8 L413.7,492.35 L415.8,491.9 L417.9,491.44 L420,490.99" fill="none" stroke="#ff1a1a" stroke-width="1.0" stroke-dasharray="4 1.5 1.3 1.5" stroke-linejoin="round"/>
<path d="M86,675.39 L86.73,671.93 L87.47,668.5 L88.1,665.57 L88.2,665.1 L88.94,661.73 L89.67,658.39 L90.2,655.99 L90.4,655.07 L91.14,651.79 L91.87,648.53 L92.3,646.6 L92.61,645.2 L93.34,641.76 L94.07,638.32 L94.4,636.79 L94.81,634.94 L95.54,631.72 L96.28,628.73 L96.5,627.87 L97.01,626.07 L97.75,623.8 L98.48,621.8 L98.6,621.48 L99.21,620.01 L99.95,618.43 L100.68,617.05 L100.7,617.01 L101.42,615.76 L102.15,614.53 L102.81,613.48 L102.88,613.36 L103.62,612.24 L104.35,611.17 L104.91,610.39 L105.09,610.14 L105.82,609.15 L106.55,608.19 L107.01,607.62 L107.29,607.26 L108.02,606.35 L108.76,605.46 L109.11,605.04 L109.49,604.58 L110.22,603.71 L110.96,602.84 L111.21,602.54 L111.69,601.96 L112.43,601.08 L113.16,600.18 L113.31,600 L113.89,599.27 L114.63,598.33 L115.41,597.3 L117.51,594.52 L119.61,591.72 L121.71,588.97 L123.81,586.3 L125.91,583.78 L128.01,581.45 L130.11,579.29 L132.21,577.25 L134.31,575.29 L136.42,573.37 L138.52,571.43 L140.62,569.43 L142.72,567.37 L144.82,565.29 L146.92,563.2 L149.02,561.14 L151.12,559.13 L153.22,557.19 L155.32,555.35 L157.42,553.6 L159.52,551.86 L161.62,550.2 L163.72,548.7 L165.82,547.44 L167.92,546.41 L170.03,545.5 L172.13,544.69 L174.23,543.95 L176.33,543.25 L178.43,542.58 L180.53,541.94 L182.63,541.34 L184.73,540.76 L186.83,540.2 L188.93,539.67 L191.03,539.15 L193.13,538.65 L195.23,538.16 L197.33,537.68 L199.43,537.23 L201.53,536.81 L203.64,536.41 L205.74,536.01 L207.84,535.62 L209.94,535.22 L212.04,534.81 L214.14,534.38 L216.24,533.93 L218.34,533.45 L220.44,532.96 L222.54,532.45 L224.64,531.92 L226.74,531.39 L228.84,530.84 L230.94,530.28 L233.04,529.72 L235.14,529.15 L237.25,528.58 L239.35,528 L241.45,527.42 L243.55,526.84 L245.65,526.26 L247.75,525.68 L249.85,525.11 L251.95,524.55 L254.05,523.99 L256.15,523.44 L258.25,522.91 L260.35,522.38 L262.45,521.87 L264.55,521.37 L266.65,520.89 L268.75,520.42 L270.86,519.95 L272.96,519.49 L275.06,519.03 L277.16,518.58 L279.26,518.14 L281.36,517.7 L283.46,517.27 L285.56,516.84 L287.66,516.41 L289.76,515.98 L291.86,515.56 L293.96,515.14 L296.06,514.72 L298.16,514.31 L300.26,513.89 L302.36,513.48 L304.47,513.06 L306.57,512.65 L308.67,512.23 L310.77,511.81 L312.87,511.4 L314.97,510.97 L317.07,510.55 L319.17,510.12 L321.27,509.7 L323.37,509.26 L325.47,508.82 L327.57,508.38 L329.67,507.94 L331.77,507.5 L333.87,507.05 L335.97,506.61 L338.08,506.17 L340.18,505.72 L342.28,505.28 L344.38,504.83 L346.48,504.39 L348.58,503.94 L350.68,503.5 L352.78,503.05 L354.88,502.6 L356.98,502.15 L359.08,501.7 L361.18,501.26 L363.28,500.81 L365.38,500.36 L367.48,499.91 L369.58,499.46 L371.69,499 L373.79,498.55 L375.89,498.1 L377.99,497.65 L380.09,497.19 L382.19,496.74 L384.29,496.29 L386.39,495.83 L388.49,495.38 L390.59,494.92 L392.69,494.46 L394.79,494.01 L396.89,493.55 L398.99,493.09 L401.09,492.63 L403.19,492.17 L405.3,491.71 L407.4,491.25 L409.5,490.79 L411.6,490.33 L413.7,489.87 L415.8,489.4 L417.9,488.94 L420,488.48" fill="none" stroke="#ff1a1a" stroke-width="1.0" stroke-dasharray="6 2.8" stroke-linejoin="round"/>
<path d="M86,675.39 L86.73,671.93 L87.47,668.5 L88.1,665.57 L88.2,665.1 L88.94,661.73 L89.67,658.39 L90.2,655.99 L90.4,655.07 L91.14,651.79 L91.87,648.53 L92.3,646.6 L92.61,645.2 L93.34,641.78 L94.07,638.35 L94.4,636.84 L94.81,634.99 L95.54,631.77 L96.28,628.78 L96.5,627.92 L97.01,626.1 L97.75,623.78 L98.48,621.72 L98.6,621.39 L99.21,619.86 L99.95,618.23 L100.68,616.81 L100.7,616.77 L101.42,615.49 L102.15,614.24 L102.81,613.17 L102.88,613.05 L103.62,611.91 L104.35,610.82 L104.91,610.03 L105.09,609.78 L105.82,608.78 L106.55,607.81 L107.01,607.23 L107.29,606.87 L108.02,605.96 L108.76,605.06 L109.11,604.63 L109.49,604.17 L110.22,603.29 L110.96,602.42 L111.21,602.12 L111.69,601.54 L112.43,600.65 L113.16,599.74 L113.31,599.56 L113.89,598.82 L114.63,597.87 L115.41,596.84 L117.51,594.03 L119.61,591.23 L121.71,588.46 L123.81,585.78 L125.91,583.23 L128.01,580.86 L130.11,578.65 L132.21,576.57 L134.31,574.56 L136.42,572.57 L138.52,570.56 L140.62,568.48 L142.72,566.32 L144.82,564.12 L146.92,561.91 L149.02,559.72 L151.12,557.59 L153.22,555.55 L155.32,553.65 L157.42,551.87 L159.52,550.12 L161.62,548.47 L163.72,546.98 L165.82,545.73 L167.92,544.7 L170.03,543.81 L172.13,543.01 L174.23,542.27 L176.33,541.52 L178.43,540.79 L180.53,540.07 L182.63,539.37 L184.73,538.7 L186.83,538.03 L188.93,537.39 L191.03,536.76 L193.13,536.16 L195.23,535.56 L197.33,534.99 L199.43,534.44 L201.53,533.91 L203.64,533.4 L205.74,532.9 L207.84,532.4 L209.94,531.91 L212.04,531.41 L214.14,530.9 L216.24,530.38 L218.34,529.84 L220.44,529.3 L222.54,528.75 L224.64,528.19 L226.74,527.63 L228.84,527.06 L230.94,526.49 L233.04,525.92 L235.14,525.35 L237.25,524.77 L239.35,524.2 L241.45,523.63 L243.55,523.06 L245.65,522.49 L247.75,521.93 L249.85,521.37 L251.95,520.82 L254.05,520.28 L256.15,519.75 L258.25,519.22 L260.35,518.71 L262.45,518.21 L264.55,517.72 L266.65,517.24 L268.75,516.77 L270.86,516.31 L272.96,515.85 L275.06,515.41 L277.16,514.97 L279.26,514.53 L281.36,514.11 L283.46,513.68 L285.56,513.27 L287.66,512.85 L289.76,512.44 L291.86,512.03 L293.96,511.63 L296.06,511.22 L298.16,510.82 L300.26,510.41 L302.36,510.01 L304.47,509.61 L306.57,509.2 L308.67,508.79 L310.77,508.38 L312.87,507.97 L314.97,507.55 L317.07,507.13 L319.17,506.71 L321.27,506.28 L323.37,505.84 L325.47,505.4 L327.57,504.95 L329.67,504.5 L331.77,504.04 L333.87,503.59 L335.97,503.14 L338.08,502.68 L340.18,502.22 L342.28,501.77 L344.38,501.31 L346.48,500.84 L348.58,500.38 L350.68,499.92 L352.78,499.45 L354.88,498.99 L356.98,498.52 L359.08,498.05 L361.18,497.58 L363.28,497.1 L365.38,496.63 L367.48,496.16 L369.58,495.68 L371.69,495.2 L373.79,494.72 L375.89,494.24 L377.99,493.76 L380.09,493.27 L382.19,492.79 L384.29,492.3 L386.39,491.81 L388.49,491.32 L390.59,490.83 L392.69,490.34 L394.79,489.84 L396.89,489.35 L398.99,488.85 L401.09,488.35 L403.19,487.85 L405.3,487.35 L407.4,486.85 L409.5,486.34 L411.6,485.83 L413.7,485.32 L415.8,484.81 L417.9,484.3 L420,483.79" fill="none" stroke="#ff1a1a" stroke-width="1.0" stroke-dasharray="2.2 1.7" stroke-linejoin="round"/>
<path d="M108.66,608.68 L108.82,608.52 L108.97,608.36 L109.12,608.2 L109.28,608.04 L109.43,607.88 L109.58,607.72 L109.73,607.56 L109.89,607.4 L110.04,607.24 L110.19,607.08 L110.35,606.92 L110.5,606.76 L110.62,606.63 L110.65,606.6 L110.81,606.44 L110.96,606.28 L111.11,606.12 L111.26,605.96 L111.42,605.8 L111.57,605.64 L111.72,605.48 L111.88,605.32 L112.03,605.16 L112.18,605 L112.33,604.85 L112.49,604.69 L112.58,604.59 L112.64,604.53 L112.79,604.37 L112.95,604.21 L113.1,604.05 L113.25,603.89 L113.41,603.73 L113.56,603.57 L113.71,603.41 L113.86,603.25 L114.02,603.1 L114.17,602.94 L114.32,602.78 L114.48,602.62 L114.54,602.56 L114.63,602.46 L116.5,600.53 L118.45,598.52 L120.41,596.53 L122.37,594.55 L124.33,592.58 L126.29,590.62 L128.25,588.68 L130.2,586.76 L132.16,584.87 L134.12,583 L136.08,581.15 L138.04,579.31 L139.99,577.5 L141.95,575.74 L143.91,574.06 L145.87,572.46 L147.83,570.89 L149.78,569.36 L151.74,567.89 L153.7,566.49 L155.66,565.17 L157.62,563.96 L159.57,562.79 L161.53,561.66 L163.49,560.57 L165.45,559.54 L167.41,558.57 L169.36,557.67 L171.32,556.85 L173.28,556.11 L175.24,555.44 L177.2,554.83 L179.16,554.26 L181.11,553.72 L183.07,553.21 L185.03,552.72 L186.99,552.23 L188.95,551.74 L190.9,551.24 L192.86,550.75 L194.82,550.26 L196.78,549.79 L198.74,549.32 L200.69,548.86 L202.65,548.42 L204.61,547.99 L206.57,547.58 L208.53,547.18 L210.48,546.79 L212.44,546.42 L214.4,546.05 L216.36,545.69 L218.32,545.33 L220.28,544.98 L222.23,544.62 L224.19,544.26 L226.15,543.89 L228.11,543.52 L230.07,543.15 L232.02,542.77 L233.98,542.4 L235.94,542.03 L237.9,541.65 L239.86,541.28 L241.81,540.91 L243.77,540.53 L245.73,540.16 L247.69,539.78 L249.65,539.4 L251.6,539.03 L253.56,538.65 L255.52,538.28 L257.48,537.9 L259.44,537.52 L261.4,537.15 L263.35,536.77 L265.31,536.39 L267.27,536.01 L269.23,535.64 L271.19,535.26 L273.14,534.88 L275.1,534.51 L277.06,534.13 L279.02,533.75 L280.98,533.37 L282.93,532.99 L284.89,532.62 L286.85,532.24 L288.81,531.86 L290.77,531.48 L292.72,531.11 L294.68,530.73 L296.64,530.35 L298.6,529.98 L300.56,529.6 L302.51,529.22 L304.47,528.84 L306.43,528.47 L308.39,528.09 L310.35,527.72 L312.31,527.34 L314.26,526.96 L316.22,526.59 L318.18,526.21 L320.14,525.84 L322.1,525.46 L324.05,525.09 L326.01,524.71 L327.97,524.34 L329.93,523.97 L331.89,523.59 L333.84,523.22 L335.8,522.84 L337.76,522.47 L339.72,522.09 L341.68,521.72 L343.63,521.35 L345.59,520.97 L347.55,520.6 L349.51,520.22 L351.47,519.85 L353.43,519.48 L355.38,519.11 L357.34,518.73 L359.3,518.36 L361.26,517.99 L363.22,517.62 L365.17,517.25 L367.13,516.88 L369.09,516.51 L371.05,516.15 L373.01,515.78 L374.96,515.41 L376.92,515.05 L378.88,514.68 L380.84,514.32 L382.8,513.95 L384.75,513.59 L386.71,513.22 L388.67,512.86 L390.63,512.5 L392.59,512.14 L394.54,511.77 L396.5,511.41 L398.46,511.05 L400.42,510.69 L402.38,510.33 L404.34,509.97 L406.29,509.61 L408.25,509.25 L410.21,508.9 L412.17,508.54 L414.13,508.18 L416.08,507.82 L418.04,507.47 L420,507.11" fill="none" stroke="#ff1aff" stroke-width="1.0" stroke-linejoin="round"/>
</g>
<rect x="86" y="421.6" width="334" height="285.8" fill="none" stroke="#686868" stroke-width="1.75"/>
<path d="M133.71,707.4 V702.6 M181.43,707.4 V702.6 M229.14,707.4 V702.6 M276.86,707.4 V702.6 M324.57,707.4 V702.6 M372.29,707.4 V702.6 M86,650.24 H91 M86,593.08 H91 M86,535.92 H91 M86,478.76 H91" stroke="#2a2a2a" stroke-width="1.05" fill="none"/>
<text x="86" y="723.9" class="tk" text-anchor="middle">0</text>
<text x="133.71" y="723.9" class="tk" text-anchor="middle">200</text>
<text x="181.43" y="723.9" class="tk" text-anchor="middle">400</text>
<text x="229.14" y="723.9" class="tk" text-anchor="middle">600</text>
<text x="276.86" y="723.9" class="tk" text-anchor="middle">800</text>
<text x="324.57" y="723.9" class="tk" text-anchor="middle">1000</text>
<text x="372.29" y="723.9" class="tk" text-anchor="middle">1200</text>
<text x="420" y="723.9" class="tk" text-anchor="middle">1400</text>
<text x="80" y="711.7" class="tk" text-anchor="end">0</text>
<text x="80" y="654.54" class="tk" text-anchor="end">500</text>
<text x="80" y="597.38" class="tk" text-anchor="end">1000</text>
<text x="80" y="540.22" class="tk" text-anchor="end">1500</text>
<text x="80" y="483.06" class="tk" text-anchor="end">2000</text>
<text x="80" y="425.9" class="tk" text-anchor="end">2500</text>
<text x="253.3" y="741.2" class="ax" text-anchor="middle" style="font-size:16.7px">Depth (km)</text>
<text transform="translate(45.8,563.7) rotate(-90)" class="ax" text-anchor="middle" style="font-size:17.1px">Temperature (K)</text>
<text x="16.5" y="415.9" class="pl">(c)</text>
<rect x="119.3" y="678.7" width="53.38" height="19.4" fill="#fff" stroke="#3a3a3a" stroke-width="1.25"/><text transform="translate(121.4,693.4) scale(1,1.13)" class="pp">300 ppm</text>
<clipPath id="clipd"><rect x="534.6" y="421.7" width="333.4" height="286"/></clipPath>
<g clip-path="url(#clipd)">
<path d="M534.6,573.05 L591.28,573.05 L591.28,565.39 L607.23,565.39 L607.23,553.83 L626.52,553.83 L626.52,535.76 L642.24,535.76 L642.24,530.38 L661.53,530.38 L661.53,523.06 L677.96,523.06 L677.96,519.17 L701.3,519.17 L701.3,513.33 L738.93,513.33 L738.93,504.41 L767.03,504.41 L767.03,491.94 L807.04,491.94 L807.04,477.41 L859.9,477.41 L859.9,461.17 L868,461.17 L868,499.49 L859.9,499.49 L859.9,506.47 L807.04,506.47 L807.04,511.28 L767.03,511.28 L767.03,523.52 L738.93,523.52 L738.93,529.58 L701.3,529.58 L701.3,542.96 L677.96,542.96 L677.96,576.71 L661.53,576.71 L661.53,608.29 L642.24,608.29 L642.24,608.29 L626.52,608.29 L626.52,623.27 L607.23,623.27 L607.23,623.27 L591.28,623.27 L591.28,653.13 L534.6,653.13 Z" fill="#c0c0c0" stroke="#8c8c8c" stroke-width="1"/>
<path d="M534.6,516.19 L537.4,515.66 L540.2,515.14 L543.01,514.61 L545.81,514.09 L548.61,513.57 L551.41,513.05 L554.21,512.54 L557.01,512.02 L559.82,511.51 L562.62,511.01 L565.42,510.5 L568.22,510 L571.02,509.5 L573.82,509 L576.63,508.51 L579.43,508.02 L582.23,507.53 L585.03,507.04 L587.83,506.56 L590.63,506.08 L593.44,505.6 L596.24,505.12 L599.04,504.65 L601.84,504.18 L604.64,503.71 L607.44,503.25 L610.25,502.78 L613.05,502.32 L615.85,501.86 L618.65,501.41 L621.45,500.96 L624.25,500.51 L627.06,500.06 L629.86,499.61 L632.66,499.17 L635.46,498.73 L638.26,498.29 L641.06,497.86 L643.87,497.43 L646.67,497 L649.47,496.57 L652.27,496.15 L655.07,495.72 L657.87,495.3 L660.68,494.89 L663.48,494.47 L666.28,494.06 L669.08,493.65 L671.88,493.25 L674.68,492.84 L677.49,492.44 L680.29,492.04 L683.09,491.65 L685.89,491.25 L688.69,490.86 L691.49,490.48 L694.3,490.09 L697.1,489.71 L699.9,489.33 L702.7,488.95 L705.5,488.57 L708.3,488.2 L711.11,487.83 L713.91,487.46 L716.71,487.1 L719.51,486.74 L722.31,486.38 L725.11,486.02 L727.92,485.66 L730.72,485.31 L733.52,484.96 L736.32,484.62 L739.12,484.27 L741.92,483.93 L744.73,483.59 L747.53,483.25 L750.33,482.92 L753.13,482.59 L755.93,482.26 L758.73,481.93 L761.54,481.61 L764.34,481.29 L767.14,480.97 L769.94,480.65 L772.74,480.34 L775.54,480.03 L778.35,479.72 L781.15,479.42 L783.95,479.11 L786.75,478.81 L789.55,478.52 L792.35,478.22 L795.16,477.93 L797.96,477.64 L800.76,477.35 L803.56,477.07 L806.36,476.78 L809.16,476.5 L811.97,476.23 L814.77,475.95 L817.57,475.68 L820.37,475.41 L823.17,475.14 L825.97,474.88 L828.78,474.62 L831.58,474.36 L834.38,474.1 L837.18,473.85 L839.98,473.6 L842.78,473.35 L845.59,473.1 L848.39,472.86 L851.19,472.62 L853.99,472.38 L856.79,472.15 L859.59,471.91 L862.4,471.68 L865.2,471.45 L868,471.23" fill="none" stroke="#1ae6f0" stroke-width="1.1" stroke-linejoin="round"/>
<path d="M534.6,539.07 L537.4,538.28 L540.2,537.49 L543.01,536.71 L545.81,535.93 L548.61,535.16 L551.41,534.39 L554.21,533.63 L557.01,532.87 L559.82,532.12 L562.62,531.38 L565.42,530.63 L568.22,529.9 L571.02,529.17 L573.82,528.44 L576.63,527.72 L579.43,527.01 L582.23,526.3 L585.03,525.6 L587.83,524.9 L590.63,524.2 L593.44,523.52 L596.24,522.83 L599.04,522.16 L601.84,521.48 L604.64,520.82 L607.44,520.16 L610.25,519.5 L613.05,518.85 L615.85,518.2 L618.65,517.56 L621.45,516.93 L624.25,516.3 L627.06,515.67 L629.86,515.05 L632.66,514.44 L635.46,513.83 L638.26,513.23 L641.06,512.63 L643.87,512.04 L646.67,511.45 L649.47,510.87 L652.27,510.29 L655.07,509.72 L657.87,509.15 L660.68,508.59 L663.48,508.04 L666.28,507.49 L669.08,506.94 L671.88,506.4 L674.68,505.87 L677.49,505.34 L680.29,504.81 L683.09,504.3 L685.89,503.78 L688.69,503.27 L691.49,502.77 L694.3,502.27 L697.1,501.78 L699.9,501.29 L702.7,500.81 L705.5,500.34 L708.3,499.86 L711.11,499.4 L713.91,498.94 L716.71,498.48 L719.51,498.03 L722.31,497.59 L725.11,497.15 L727.92,496.71 L730.72,496.29 L733.52,495.86 L736.32,495.44 L739.12,495.03 L741.92,494.62 L744.73,494.22 L747.53,493.82 L750.33,493.43 L753.13,493.05 L755.93,492.66 L758.73,492.29 L761.54,491.92 L764.34,491.55 L767.14,491.19 L769.94,490.84 L772.74,490.49 L775.54,490.14 L778.35,489.81 L781.15,489.47 L783.95,489.14 L786.75,488.82 L789.55,488.5 L792.35,488.19 L795.16,487.88 L797.96,487.58 L800.76,487.28 L803.56,486.99 L806.36,486.71 L809.16,486.43 L811.97,486.15 L814.77,485.88 L817.57,485.62 L820.37,485.36 L823.17,485.1 L825.97,484.85 L828.78,484.61 L831.58,484.37 L834.38,484.14 L837.18,483.91 L839.98,483.69 L842.78,483.47 L845.59,483.26 L848.39,483.05 L851.19,482.85 L853.99,482.65 L856.79,482.46 L859.59,482.28 L862.4,482.1 L865.2,481.92 L868,481.75" fill="none" stroke="#222" stroke-width="1.1" stroke-linejoin="round"/>
<path d="M534.6,548.68 L537.4,547.88 L540.2,547.08 L543.01,546.29 L545.81,545.5 L548.61,544.72 L551.41,543.94 L554.21,543.17 L557.01,542.41 L559.82,541.65 L562.62,540.89 L565.42,540.14 L568.22,539.4 L571.02,538.66 L573.82,537.93 L576.63,537.2 L579.43,536.48 L582.23,535.76 L585.03,535.05 L587.83,534.34 L590.63,533.64 L593.44,532.95 L596.24,532.26 L599.04,531.58 L601.84,530.9 L604.64,530.22 L607.44,529.55 L610.25,528.89 L613.05,528.24 L615.85,527.58 L618.65,526.94 L621.45,526.3 L624.25,525.66 L627.06,525.03 L629.86,524.41 L632.66,523.79 L635.46,523.17 L638.26,522.57 L641.06,521.96 L643.87,521.37 L646.67,520.77 L649.47,520.19 L652.27,519.61 L655.07,519.03 L657.87,518.46 L660.68,517.89 L663.48,517.34 L666.28,516.78 L669.08,516.23 L671.88,515.69 L674.68,515.15 L677.49,514.62 L680.29,514.09 L683.09,513.57 L685.89,513.05 L688.69,512.54 L691.49,512.04 L694.3,511.54 L697.1,511.04 L699.9,510.56 L702.7,510.07 L705.5,509.59 L708.3,509.12 L711.11,508.65 L713.91,508.19 L716.71,507.74 L719.51,507.28 L722.31,506.84 L725.11,506.4 L727.92,505.96 L730.72,505.53 L733.52,505.11 L736.32,504.69 L739.12,504.28 L741.92,503.87 L744.73,503.47 L747.53,503.07 L750.33,502.68 L753.13,502.3 L755.93,501.92 L758.73,501.54 L761.54,501.17 L764.34,500.81 L767.14,500.45 L769.94,500.09 L772.74,499.75 L775.54,499.4 L778.35,499.07 L781.15,498.73 L783.95,498.41 L786.75,498.09 L789.55,497.77 L792.35,497.46 L795.16,497.16 L797.96,496.86 L800.76,496.56 L803.56,496.28 L806.36,495.99 L809.16,495.72 L811.97,495.44 L814.77,495.18 L817.57,494.92 L820.37,494.66 L823.17,494.41 L825.97,494.17 L828.78,493.93 L831.58,493.69 L834.38,493.46 L837.18,493.24 L839.98,493.02 L842.78,492.81 L845.59,492.6 L848.39,492.4 L851.19,492.21 L853.99,492.01 L856.79,491.83 L859.59,491.65 L862.4,491.47 L865.2,491.31 L868,491.14" fill="none" stroke="#222" stroke-width="1.1" stroke-dasharray="4 4.2" stroke-linejoin="round"/>
<path d="M534.6,610.8 L537.4,609.03 L540.2,607.26 L543.01,605.5 L545.81,603.74 L548.61,601.99 L551.41,600.24 L554.21,598.5 L557.01,596.76 L559.82,595.02 L562.62,593.29 L565.42,591.57 L568.22,589.85 L571.02,588.13 L573.82,586.42 L576.63,584.72 L579.43,583.01 L582.23,581.32 L585.03,579.63 L587.83,577.94 L590.63,576.26 L593.44,574.58 L596.24,572.9 L599.04,571.24 L601.84,569.57 L604.64,567.91 L607.44,566.26 L610.25,564.61 L613.05,562.96 L615.85,561.32 L618.65,559.69 L621.45,558.06 L624.25,556.43 L627.06,554.81 L629.86,553.19 L632.66,551.58 L635.46,549.98 L638.26,548.37 L641.06,546.77 L643.87,545.18 L646.67,543.59 L649.47,542.01 L652.27,540.43 L655.07,538.86 L657.87,537.29 L660.68,535.72 L663.48,534.16 L666.28,532.61 L669.08,531.06 L671.88,529.51 L674.68,527.97 L677.49,526.43 L680.29,524.9 L683.09,523.37 L685.89,521.85 L688.69,520.34 L691.49,518.82 L694.3,517.31 L697.1,515.81 L699.9,514.31 L702.7,512.82 L705.5,511.33 L708.3,509.84 L711.11,508.36 L713.91,506.89 L716.71,505.42 L719.51,503.95 L722.31,502.49 L725.11,501.04 L727.92,499.58 L730.72,498.14 L733.52,496.7 L736.32,495.26 L739.12,493.83 L741.92,492.4 L744.73,490.97 L747.53,489.56 L750.33,488.14 L753.13,486.73 L755.93,485.33 L758.73,483.93 L761.54,482.53 L764.34,481.14 L767.14,479.76 L769.94,478.38 L772.74,477 L775.54,475.63 L778.35,474.26 L781.15,472.9 L783.95,471.54 L786.75,470.19 L789.55,468.84 L792.35,467.5 L795.16,466.16 L797.96,464.83 L800.76,463.5 L803.56,462.18 L806.36,460.86 L809.16,459.54 L811.97,458.23 L814.77,456.93 L817.57,455.62 L820.37,454.33 L823.17,453.04 L825.97,451.75 L828.78,450.47 L831.58,449.19 L834.38,447.92 L837.18,446.65 L839.98,445.39 L842.78,444.13 L845.59,442.88 L848.39,441.63 L851.19,440.38 L853.99,439.15 L856.79,437.91 L859.59,436.68 L862.4,435.46 L865.2,434.23 L868,433.02" fill="none" stroke="#40d840" stroke-width="1.0" stroke-linejoin="round"/>
<path d="M534.6,650.5 L535.33,650.22 L536.07,649.95 L536.7,649.71 L536.8,649.67 L537.53,649.39 L538.26,649.12 L538.79,648.92 L539,648.84 L539.73,648.57 L540.46,648.29 L540.89,648.13 L541.19,648.01 L541.93,647.74 L542.66,647.46 L542.99,647.34 L543.39,647.19 L544.13,646.91 L544.86,646.64 L545.08,646.55 L545.59,646.36 L546.32,646.09 L547.06,645.81 L547.18,645.76 L547.79,645.54 L548.52,645.26 L549.25,644.99 L549.28,644.98 L549.99,644.71 L550.72,644.44 L551.37,644.19 L551.45,644.16 L552.19,643.89 L552.92,643.61 L553.47,643.41 L553.65,643.34 L554.38,643.06 L555.12,642.79 L555.57,642.62 L555.85,642.52 L556.58,642.24 L557.32,641.97 L557.67,641.84 L558.05,641.7 L558.78,641.42 L559.51,641.15 L559.76,641.06 L560.25,640.88 L560.98,640.6 L561.71,640.33 L561.86,640.27 L562.44,640.06 L563.18,639.78 L563.96,639.49 L566.05,638.71 L568.15,637.93 L570.25,637.16 L572.34,636.38 L574.44,635.6 L576.54,634.82 L578.63,634.05 L580.73,633.27 L582.83,632.5 L584.92,631.73 L587.02,630.96 L589.12,630.19 L591.22,629.42 L593.31,628.65 L595.41,627.88 L597.51,627.11 L599.6,626.34 L601.7,625.58 L603.8,624.81 L605.89,624.05 L607.99,623.28 L610.09,622.52 L612.18,621.76 L614.28,621 L616.38,620.24 L618.47,619.48 L620.57,618.72 L622.67,617.96 L624.76,617.2 L626.86,616.45 L628.96,615.69 L631.06,614.93 L633.15,614.18 L635.25,613.43 L637.35,612.67 L639.44,611.92 L641.54,611.17 L643.64,610.42 L645.73,609.66 L647.83,608.91 L649.93,608.17 L652.02,607.42 L654.12,606.67 L656.22,605.92 L658.31,605.18 L660.41,604.43 L662.51,603.69 L664.61,602.95 L666.7,602.2 L668.8,601.46 L670.9,600.72 L672.99,599.98 L675.09,599.25 L677.19,598.51 L679.28,597.77 L681.38,597.04 L683.48,596.3 L685.57,595.57 L687.67,594.84 L689.77,594.11 L691.86,593.38 L693.96,592.65 L696.06,591.92 L698.15,591.2 L700.25,590.47 L702.35,589.75 L704.45,589.03 L706.54,588.3 L708.64,587.58 L710.74,586.86 L712.83,586.14 L714.93,585.42 L717.03,584.7 L719.12,583.98 L721.22,583.26 L723.32,582.55 L725.41,581.83 L727.51,581.11 L729.61,580.4 L731.7,579.68 L733.8,578.97 L735.9,578.26 L737.99,577.54 L740.09,576.83 L742.19,576.12 L744.29,575.42 L746.38,574.71 L748.48,574.01 L750.58,573.3 L752.67,572.6 L754.77,571.9 L756.87,571.2 L758.96,570.51 L761.06,569.82 L763.16,569.12 L765.25,568.43 L767.35,567.75 L769.45,567.06 L771.54,566.38 L773.64,565.7 L775.74,565.02 L777.84,564.34 L779.93,563.67 L782.03,563 L784.13,562.33 L786.22,561.67 L788.32,561.01 L790.42,560.35 L792.51,559.7 L794.61,559.05 L796.71,558.4 L798.8,557.76 L800.9,557.12 L803,556.48 L805.09,555.85 L807.19,555.22 L809.29,554.59 L811.38,553.96 L813.48,553.33 L815.58,552.71 L817.68,552.09 L819.77,551.46 L821.87,550.84 L823.97,550.22 L826.06,549.6 L828.16,548.98 L830.26,548.36 L832.35,547.75 L834.45,547.13 L836.55,546.51 L838.64,545.89 L840.74,545.27 L842.84,544.64 L844.93,544.02 L847.03,543.39 L849.13,542.77 L851.23,542.14 L853.32,541.51 L855.42,540.88 L857.52,540.24 L859.61,539.6 L861.71,538.96 L863.81,538.32 L865.9,537.67 L868,537.02" fill="none" stroke="#40d840" stroke-width="1.0" stroke-dasharray="4.4 3.1" stroke-linejoin="round"/>
<path d="M534.6,650.5 L536.73,649.76 L538.85,649.02 L540.98,648.28 L543.1,647.54 L545.23,646.8 L547.35,646.06 L549.48,645.33 L551.6,644.59 L553.73,643.86 L555.85,643.13 L557.98,642.4 L560.1,641.67 L562.23,640.94 L564.35,640.21 L566.48,639.48 L568.6,638.75 L570.73,638.03 L572.85,637.3 L574.98,636.58 L577.11,635.86 L579.23,635.14 L581.36,634.42 L583.48,633.7 L585.61,632.98 L587.73,632.26 L589.86,631.54 L591.98,630.83 L594.11,630.12 L596.23,629.4 L598.36,628.69 L600.48,627.98 L602.61,627.27 L604.73,626.56 L606.86,625.85 L608.98,625.14 L611.11,624.44 L613.24,623.73 L615.36,623.03 L617.49,622.33 L619.61,621.62 L621.74,620.92 L623.86,620.22 L625.99,619.52 L628.11,618.83 L630.24,618.13 L632.36,617.43 L634.49,616.74 L636.61,616.05 L638.74,615.35 L640.86,614.66 L642.99,613.97 L645.11,613.28 L647.24,612.59 L649.36,611.9 L651.49,611.22 L653.62,610.53 L655.74,609.85 L657.87,609.16 L659.99,608.48 L662.12,607.8 L664.24,607.12 L666.37,606.44 L668.49,605.76 L670.62,605.08 L672.74,604.41 L674.87,603.73 L676.99,603.06 L679.12,602.39 L681.24,601.71 L683.37,601.04 L685.49,600.37 L687.62,599.7 L689.75,599.03 L691.87,598.37 L694,597.7 L696.12,597.04 L698.25,596.37 L700.37,595.71 L702.5,595.05 L704.62,594.38 L706.75,593.72 L708.87,593.07 L711,592.41 L713.12,591.75 L715.25,591.09 L717.37,590.44 L719.5,589.79 L721.62,589.13 L723.75,588.48 L725.87,587.83 L728,587.18 L730.13,586.53 L732.25,585.88 L734.38,585.24 L736.5,584.59 L738.63,583.95 L740.75,583.3 L742.88,582.66 L745,582.02 L747.13,581.38 L749.25,580.74 L751.38,580.1 L753.5,579.46 L755.63,578.83 L757.75,578.19 L759.88,577.56 L762,576.92 L764.13,576.29 L766.25,575.66 L768.38,575.03 L770.51,574.4 L772.63,573.77 L774.76,573.14 L776.88,572.52 L779.01,571.89 L781.13,571.27 L783.26,570.64 L785.38,570.02 L787.51,569.4" fill="none" stroke="#40d840" stroke-width="1.0" stroke-dasharray="1.9 1.5" stroke-linejoin="round"/>
<path d="M787.03,569.54 L789.82,568.73 L792.62,567.91 L795.41,567.1 L798.2,566.29 L800.99,565.48 L803.78,564.68 L806.58,563.87 L809.37,563.07 L812.16,562.27 L814.95,561.47 L817.74,560.67 L820.54,559.88 L823.33,559.09 L826.12,558.29 L828.91,557.5 L831.7,556.71 L834.5,555.93 L837.29,555.14 L840.08,554.36 L842.87,553.58 L845.66,552.8 L848.46,552.02 L851.25,551.25 L854.04,550.47 L856.83,549.7 L859.62,548.93 L862.42,548.16 L865.21,547.39 L868,546.63" fill="none" stroke="#40d840" stroke-width="1.0" stroke-linejoin="round"/>
<path d="M534.6,676.13 L535.33,672.92 L536.07,669.66 L536.7,666.75 L536.8,666.28 L537.53,662.81 L538.26,659.31 L538.79,656.8 L539,655.85 L539.73,652.48 L540.46,649.27 L540.89,647.49 L541.19,646.28 L541.93,643.55 L542.66,640.97 L542.99,639.84 L543.39,638.47 L544.13,636.05 L544.86,633.73 L545.08,633.03 L545.59,631.49 L546.32,629.35 L547.06,627.31 L547.18,626.98 L547.79,625.38 L548.52,623.54 L549.25,621.82 L549.28,621.77 L549.99,620.19 L550.72,618.62 L551.37,617.27 L551.45,617.11 L552.19,615.67 L552.92,614.27 L553.47,613.24 L553.65,612.92 L554.38,611.61 L555.12,610.33 L555.57,609.56 L555.85,609.09 L556.58,607.87 L557.32,606.68 L557.67,606.11 L558.05,605.5 L558.78,604.33 L559.51,603.16 L559.76,602.77 L560.25,602 L560.98,600.83 L561.71,599.66 L561.86,599.42 L562.44,598.47 L563.18,597.32 L563.96,596.12 L566.05,592.98 L568.15,589.98 L570.25,587.09 L572.34,584.04 L574.44,580.72 L576.54,577.43 L578.63,574.15 L580.73,571.22 L582.83,568.93 L584.92,566.88 L587.02,564.62 L589.12,562.17 L591.22,559.64 L593.31,557.12 L595.41,554.69 L597.51,552.41 L599.6,550.23 L601.7,548.11 L603.8,546.02 L605.89,543.91 L607.99,541.83 L610.09,539.86 L612.18,538.08 L614.28,536.46 L616.38,535 L618.47,533.72 L620.57,532.55 L622.67,531.49 L624.76,530.56 L626.86,529.76 L628.96,529.06 L631.06,528.42 L633.15,527.81 L635.25,527.2 L637.35,526.62 L639.44,526.05 L641.54,525.51 L643.64,525.01 L645.73,524.53 L647.83,524.07 L649.93,523.64 L652.02,523.22 L654.12,522.82 L656.22,522.43 L658.31,522.05 L660.41,521.69 L662.51,521.34 L664.61,521 L666.7,520.67 L668.8,520.35 L670.9,520.03 L672.99,519.71 L675.09,519.4 L677.19,519.09 L679.28,518.79 L681.38,518.5 L683.48,518.21 L685.57,517.92 L687.67,517.64 L689.77,517.35 L691.86,517.07 L693.96,516.79 L696.06,516.5 L698.15,516.23 L700.25,515.95 L702.35,515.67 L704.45,515.39 L706.54,515.12 L708.64,514.85 L710.74,514.58 L712.83,514.3 L714.93,514.03 L717.03,513.76 L719.12,513.5 L721.22,513.23 L723.32,512.96 L725.41,512.69 L727.51,512.43 L729.61,512.16 L731.7,511.89 L733.8,511.63 L735.9,511.36 L737.99,511.09 L740.09,510.83 L742.19,510.56 L744.29,510.29 L746.38,510.03 L748.48,509.76 L750.58,509.49 L752.67,509.22 L754.77,508.95 L756.87,508.68 L758.96,508.41 L761.06,508.14 L763.16,507.87 L765.25,507.59 L767.35,507.32 L769.45,507.04 L771.54,506.76 L773.64,506.48 L775.74,506.2 L777.84,505.92 L779.93,505.63 L782.03,505.35 L784.13,505.07 L786.22,504.78 L788.32,504.49 L790.42,504.21 L792.51,503.92 L794.61,503.63 L796.71,503.34 L798.8,503.05 L800.9,502.76 L803,502.47 L805.09,502.18 L807.19,501.89 L809.29,501.6 L811.38,501.31 L813.48,501.02 L815.58,500.72 L817.68,500.43 L819.77,500.13 L821.87,499.84 L823.97,499.54 L826.06,499.25 L828.16,498.95 L830.26,498.65 L832.35,498.35 L834.45,498.05 L836.55,497.75 L838.64,497.45 L840.74,497.15 L842.84,496.85 L844.93,496.55 L847.03,496.25 L849.13,495.95 L851.23,495.64 L853.32,495.34 L855.42,495.04 L857.52,494.73 L859.61,494.43 L861.71,494.12 L863.81,493.81 L865.9,493.51 L868,493.2" fill="none" stroke="#2a2aff" stroke-width="1.1" stroke-dasharray="4.5 3.9" stroke-linejoin="round"/>
<path d="M534.6,675.67 L535.33,672.01 L536.07,668.43 L536.7,665.42 L536.8,664.94 L537.53,661.56 L538.26,658.3 L538.79,656.02 L539,655.17 L539.73,652.19 L540.46,649.38 L540.89,647.76 L541.19,646.62 L541.93,643.88 L542.66,641.19 L542.99,640 L543.39,638.56 L544.13,636.01 L544.86,633.56 L545.08,632.83 L545.59,631.23 L546.32,629.05 L547.06,627.03 L547.18,626.7 L547.79,625.19 L548.52,623.55 L549.25,622.11 L549.28,622.07 L549.99,620.81 L550.72,619.62 L551.37,618.63 L551.45,618.51 L552.19,617.48 L552.92,616.5 L553.47,615.78 L553.65,615.55 L554.38,614.6 L555.12,613.65 L555.57,613.05 L555.85,612.69 L556.58,611.79 L557.32,610.94 L557.67,610.55 L558.05,610.12 L558.78,609.31 L559.51,608.48 L559.76,608.2 L560.25,607.63 L560.98,606.73 L561.71,605.76 L561.86,605.55 L562.44,604.7 L563.18,603.47 L563.96,601.98 L566.05,597.7 L568.15,594.26 L570.25,591.54 L572.34,589.13 L574.44,586.93 L576.54,584.81 L578.63,582.69 L580.73,580.49 L582.83,578.28 L584.92,576.13 L587.02,574.1 L589.12,572.25 L591.22,570.61 L593.31,569.07 L595.41,567.5 L597.51,565.82 L599.6,564.07 L601.7,562.32 L603.8,560.62 L605.89,559.01 L607.99,557.55 L610.09,556.19 L612.18,554.87 L614.28,553.61 L616.38,552.4 L618.47,551.23 L620.57,550.12 L622.67,549.05 L624.76,548.04 L626.86,547.08 L628.96,546.19 L631.06,545.35 L633.15,544.55 L635.25,543.78 L637.35,543.03 L639.44,542.31 L641.54,541.62 L643.64,540.98 L645.73,540.38 L647.83,539.79 L649.93,539.22 L652.02,538.66 L654.12,538.11 L656.22,537.58 L658.31,537.06 L660.41,536.56 L662.51,536.07 L664.61,535.59 L666.7,535.13 L668.8,534.69 L670.9,534.26 L672.99,533.84 L675.09,533.44 L677.19,533.06 L679.28,532.69 L681.38,532.34 L683.48,532 L685.57,531.68 L687.67,531.37 L689.77,531.08 L691.86,530.8 L693.96,530.52 L696.06,530.26 L698.15,530 L700.25,529.75 L702.35,529.5 L704.45,529.26 L706.54,529.03 L708.64,528.8 L710.74,528.57 L712.83,528.35 L714.93,528.13 L717.03,527.91 L719.12,527.69 L721.22,527.47 L723.32,527.25 L725.41,527.04 L727.51,526.82 L729.61,526.6 L731.7,526.38 L733.8,526.15 L735.9,525.93 L737.99,525.7 L740.09,525.47 L742.19,525.24 L744.29,525.02 L746.38,524.8 L748.48,524.58 L750.58,524.36 L752.67,524.14 L754.77,523.92 L756.87,523.7 L758.96,523.48 L761.06,523.26 L763.16,523.04 L765.25,522.81 L767.35,522.58 L769.45,522.35 L771.54,522.11 L773.64,521.87 L775.74,521.62 L777.84,521.36 L779.93,521.1 L782.03,520.84 L784.13,520.56 L786.22,520.28 L788.32,520 L790.42,519.71 L792.51,519.41 L794.61,519.11 L796.71,518.81 L798.8,518.5 L800.9,518.19 L803,517.88 L805.09,517.56 L807.19,517.25 L809.29,516.93 L811.38,516.62 L813.48,516.3 L815.58,515.99 L817.68,515.68 L819.77,515.37 L821.87,515.06 L823.97,514.75 L826.06,514.44 L828.16,514.13 L830.26,513.82 L832.35,513.5 L834.45,513.19 L836.55,512.88 L838.64,512.56 L840.74,512.24 L842.84,511.93 L844.93,511.61 L847.03,511.29 L849.13,510.97 L851.23,510.66 L853.32,510.33 L855.42,510.01 L857.52,509.69 L859.61,509.37 L861.71,509.05 L863.81,508.72 L865.9,508.4 L868,508.07" fill="none" stroke="#2a2aff" stroke-width="1.0" stroke-dasharray="1.2 1.0" stroke-linejoin="round"/>
<path d="M534.6,675.67 L535.33,672.12 L535.8,669.9 L536.07,668.62 L536.8,665.16 L536.99,664.24 L537.53,661.73 L538.19,658.69 L538.26,658.36 L539,655.02 L539.39,653.26 L539.73,651.73 L540.46,648.48 L540.58,647.93 L541.19,645.18 L541.78,642.5 L541.93,641.83 L542.66,638.5 L542.98,637.08 L543.39,635.25 L544.13,632.13 L544.18,631.93 L544.86,629.21 L545.37,627.31 L545.59,626.55 L546.32,624.18 L546.57,623.42 L547.06,621.95 L547.77,620.01 L547.79,619.95 L548.52,618.33 L548.96,617.58 L549.25,617.14 L549.99,616.1 L550.16,615.87 L550.72,615.17 L551.36,614.44 L551.45,614.34 L552.19,613.58 L552.55,613.23 L552.92,612.89 L553.65,612.22 L553.75,612.14 L554.38,611.58 L554.95,611.09 L555.12,610.94 L555.85,610.27 L556.15,610 L556.58,609.57 L557.32,608.82 L557.34,608.79" fill="none" stroke="#ff1aff" stroke-width="1.0" stroke-linejoin="round"/>
<path d="M534.6,675.67 L535.33,672.21 L536.07,668.78 L536.7,665.84 L536.8,665.37 L537.53,662 L538.26,658.65 L538.79,656.25 L539,655.34 L539.73,652.05 L540.46,648.79 L540.89,646.88 L541.19,645.51 L541.93,642.18 L542.66,638.87 L542.99,637.4 L543.39,635.6 L544.13,632.43 L544.86,629.39 L545.08,628.49 L545.59,626.54 L546.32,623.89 L547.06,621.37 L547.18,620.96 L547.79,619.05 L548.52,617.06 L549.25,615.38 L549.28,615.33 L549.99,613.79 L550.72,612.28 L551.37,611 L551.45,610.85 L552.19,609.49 L552.92,608.18 L553.47,607.24 L553.65,606.93 L554.38,605.73 L555.12,604.58 L555.57,603.88 L555.85,603.45 L556.58,602.36 L557.32,601.29 L557.67,600.78 L558.05,600.23 L558.78,599.18 L559.51,598.14 L559.76,597.78 L560.25,597.09 L560.98,596.03 L561.71,594.96 L561.86,594.74 L562.44,593.86 L563.18,592.73 L563.96,591.52 L566.05,588.33 L568.15,585.22 L570.25,582.15 L572.34,579.07 L574.44,575.96 L576.54,572.78 L578.63,569.52 L580.73,566.25 L582.83,563.05 L584.92,559.97 L587.02,557.05 L589.12,554.23 L591.22,551.46 L593.31,548.7 L595.41,545.86 L597.51,542.99 L599.6,540.23 L601.7,537.7 L603.8,535.38 L605.89,533.19 L607.99,531.16 L610.09,529.27 L612.18,527.49 L614.28,525.84 L616.38,524.33 L618.47,522.98 L620.57,521.78 L622.67,520.64 L624.76,519.52 L626.86,518.37 L628.96,517.26 L631.06,516.29 L633.15,515.38 L635.25,514.5 L637.35,513.65 L639.44,512.83 L641.54,512.03 L643.64,511.26 L645.73,510.5 L647.83,509.77 L649.93,509.04 L652.02,508.33 L654.12,507.63 L656.22,506.93 L658.31,506.23 L660.41,505.54 L662.51,504.85 L664.61,504.18 L666.7,503.53 L668.8,502.89 L670.9,502.26 L672.99,501.64 L675.09,501.02 L677.19,500.41 L679.28,499.8 L681.38,499.2 L683.48,498.59 L685.57,497.98 L687.67,497.37 L689.77,496.74 L691.86,496.11 L693.96,495.47 L696.06,494.82 L698.15,494.16 L700.25,493.49 L702.35,492.83 L704.45,492.15 L706.54,491.48 L708.64,490.8 L710.74,490.12 L712.83,489.43 L714.93,488.74 L717.03,488.05 L719.12,487.36 L721.22,486.66 L723.32,485.96 L725.41,485.26 L727.51,484.56 L729.61,483.86 L731.7,483.16 L733.8,482.46 L735.9,481.76 L737.99,481.06 L740.09,480.36 L742.19,479.65 L744.29,478.95 L746.38,478.26 L748.48,477.56 L750.58,476.86 L752.67,476.17 L754.77,475.48 L756.87,474.79 L758.96,474.1 L761.06,473.42 L763.16,472.74 L765.25,472.07 L767.35,471.39 L769.45,470.73 L771.54,470.06 L773.64,469.4 L775.74,468.73 L777.84,468.07 L779.93,467.41 L782.03,466.75 L784.13,466.09 L786.22,465.43 L788.32,464.78 L790.42,464.12 L792.51,463.47 L794.61,462.81 L796.71,462.16 L798.8,461.5 L800.9,460.85 L803,460.2 L805.09,459.55 L807.19,458.91 L809.29,458.26 L811.38,457.61 L813.48,456.97 L815.58,456.32 L817.68,455.68 L819.77,455.04 L821.87,454.4 L823.97,453.76 L826.06,453.12 L828.16,452.48 L830.26,451.84 L832.35,451.21 L834.45,450.57 L836.55,449.94 L838.64,449.31 L840.74,448.67 L842.84,448.04 L844.93,447.42 L847.03,446.79 L849.13,446.16 L851.23,445.54 L853.32,444.91 L855.42,444.29 L857.52,443.67 L859.61,443.05 L861.71,442.43 L863.81,441.81 L865.9,441.19 L868,440.58" fill="none" stroke="#ff1a1a" stroke-width="1.0" stroke-dasharray="2.2 1.7" stroke-linejoin="round"/>
<path d="M534.6,675.67 L535.33,672.21 L536.07,668.78 L536.7,665.84 L536.8,665.37 L537.53,662 L538.26,658.65 L538.79,656.25 L539,655.34 L539.73,652.05 L540.46,648.79 L540.89,646.88 L541.19,645.5 L541.93,642.16 L542.66,638.83 L542.99,637.36 L543.39,635.55 L544.13,632.37 L544.86,629.34 L545.08,628.45 L545.59,626.51 L546.32,623.91 L547.06,621.45 L547.18,621.05 L547.79,619.2 L548.52,617.28 L549.25,615.65 L549.28,615.6 L549.99,614.12 L550.72,612.66 L551.37,611.42 L551.45,611.28 L552.19,609.96 L552.92,608.7 L553.47,607.78 L553.65,607.49 L554.38,606.33 L555.12,605.21 L555.57,604.54 L555.85,604.13 L556.58,603.08 L557.32,602.04 L557.67,601.56 L558.05,601.03 L558.78,600.02 L559.51,599.02 L559.76,598.68 L560.25,598.02 L560.98,597.01 L561.71,595.99 L561.86,595.78 L562.44,594.94 L563.18,593.87 L563.96,592.72 L566.05,589.66 L568.15,586.67 L570.25,583.74 L572.34,580.89 L574.44,578.12 L576.54,575.44 L578.63,572.87 L580.73,570.38 L582.83,567.94 L584.92,565.51 L587.02,563.07 L589.12,560.6 L591.22,558.04 L593.31,555.4 L595.41,552.74 L597.51,550.14 L599.6,547.68 L601.7,545.41 L603.8,543.32 L605.89,541.36 L607.99,539.53 L610.09,537.82 L612.18,536.22 L614.28,534.72 L616.38,533.34 L618.47,532.09 L620.57,530.95 L622.67,529.87 L624.76,528.79 L626.86,527.64 L628.96,526.53 L631.06,525.57 L633.15,524.67 L635.25,523.81 L637.35,522.98 L639.44,522.18 L641.54,521.4 L643.64,520.65 L645.73,519.92 L647.83,519.21 L649.93,518.52 L652.02,517.85 L654.12,517.19 L656.22,516.54 L658.31,515.9 L660.41,515.27 L662.51,514.66 L664.61,514.06 L666.7,513.48 L668.8,512.92 L670.9,512.37 L672.99,511.83 L675.09,511.3 L677.19,510.78 L679.28,510.26 L681.38,509.75 L683.48,509.24 L685.57,508.72 L687.67,508.21 L689.77,507.69 L691.86,507.16 L693.96,506.63 L696.06,506.08 L698.15,505.54 L700.25,504.99 L702.35,504.45 L704.45,503.9 L706.54,503.35 L708.64,502.8 L710.74,502.26 L712.83,501.71 L714.93,501.16 L717.03,500.61 L719.12,500.06 L721.22,499.51 L723.32,498.96 L725.41,498.41 L727.51,497.86 L729.61,497.31 L731.7,496.76 L733.8,496.21 L735.9,495.66 L737.99,495.1 L740.09,494.55 L742.19,494 L744.29,493.45 L746.38,492.9 L748.48,492.35 L750.58,491.79 L752.67,491.24 L754.77,490.69 L756.87,490.14 L758.96,489.58 L761.06,489.03 L763.16,488.48 L765.25,487.93 L767.35,487.38 L769.45,486.83 L771.54,486.27 L773.64,485.72 L775.74,485.17 L777.84,484.62 L779.93,484.07 L782.03,483.51 L784.13,482.96 L786.22,482.41 L788.32,481.86 L790.42,481.31 L792.51,480.75 L794.61,480.2 L796.71,479.65 L798.8,479.1 L800.9,478.54 L803,477.99 L805.09,477.44 L807.19,476.89 L809.29,476.33 L811.38,475.78 L813.48,475.23 L815.58,474.67 L817.68,474.12 L819.77,473.57 L821.87,473.01 L823.97,472.46 L826.06,471.91 L828.16,471.35 L830.26,470.8 L832.35,470.25 L834.45,469.69 L836.55,469.14 L838.64,468.59 L840.74,468.03 L842.84,467.48 L844.93,466.92 L847.03,466.37 L849.13,465.82 L851.23,465.26 L853.32,464.71 L855.42,464.15 L857.52,463.6 L859.61,463.04 L861.71,462.49 L863.81,461.93 L865.9,461.38 L868,460.82" fill="none" stroke="#ff1a1a" stroke-width="1.0" stroke-linejoin="round"/>
<path d="M534.6,675.67 L535.33,672.21 L536.07,668.78 L536.7,665.84 L536.8,665.37 L537.53,662 L538.26,658.65 L538.79,656.25 L539,655.34 L539.73,652.05 L540.46,648.79 L540.89,646.87 L541.19,645.49 L541.93,642.13 L542.66,638.78 L542.99,637.29 L543.39,635.48 L544.13,632.29 L544.86,629.27 L545.08,628.38 L545.59,626.47 L546.32,623.94 L547.06,621.58 L547.18,621.2 L547.79,619.44 L548.52,617.61 L549.25,616.05 L549.28,616 L549.99,614.57 L550.72,613.16 L551.37,611.96 L551.45,611.82 L552.19,610.54 L552.92,609.32 L553.47,608.43 L553.65,608.15 L554.38,607.02 L555.12,605.94 L555.57,605.29 L555.85,604.88 L556.58,603.86 L557.32,602.86 L557.67,602.39 L558.05,601.88 L558.78,600.9 L559.51,599.94 L559.76,599.61 L560.25,598.97 L560.98,598 L561.71,597.03 L561.86,596.83 L562.44,596.03 L563.18,595.02 L563.96,593.93 L566.05,591.07 L568.15,588.3 L570.25,585.59 L572.34,582.95 L574.44,580.36 L576.54,577.81 L578.63,575.33 L580.73,572.9 L582.83,570.51 L584.92,568.15 L587.02,565.81 L589.12,563.49 L591.22,561.19 L593.31,558.94 L595.41,556.75 L597.51,554.62 L599.6,552.51 L601.7,550.47 L603.8,548.53 L605.89,546.74 L607.99,545.07 L610.09,543.48 L612.18,542 L614.28,540.6 L616.38,539.28 L618.47,538.05 L620.57,536.87 L622.67,535.73 L624.76,534.59 L626.86,533.5 L628.96,532.52 L631.06,531.7 L633.15,530.96 L635.25,530.26 L637.35,529.61 L639.44,528.99 L641.54,528.41 L643.64,527.85 L645.73,527.3 L647.83,526.77 L649.93,526.25 L652.02,525.73 L654.12,525.2 L656.22,524.66 L658.31,524.1 L660.41,523.52 L662.51,522.93 L664.61,522.34 L666.7,521.75 L668.8,521.16 L670.9,520.57 L672.99,519.98 L675.09,519.39 L677.19,518.8 L679.28,518.21 L681.38,517.62 L683.48,517.03 L685.57,516.44 L687.67,515.85 L689.77,515.26 L691.86,514.67 L693.96,514.09 L696.06,513.5 L698.15,512.91 L700.25,512.32 L702.35,511.73 L704.45,511.13 L706.54,510.54 L708.64,509.94 L710.74,509.35 L712.83,508.75 L714.93,508.15 L717.03,507.55 L719.12,506.95 L721.22,506.36 L723.32,505.76 L725.41,505.16 L727.51,504.57 L729.61,503.97 L731.7,503.37 L733.8,502.78 L735.9,502.19 L737.99,501.6 L740.09,501.01 L742.19,500.42 L744.29,499.83 L746.38,499.25 L748.48,498.66 L750.58,498.08 L752.67,497.51 L754.77,496.93 L756.87,496.36 L758.96,495.79 L761.06,495.23 L763.16,494.67 L765.25,494.11 L767.35,493.55 L769.45,493 L771.54,492.45 L773.64,491.91 L775.74,491.36 L777.84,490.82 L779.93,490.28 L782.03,489.74 L784.13,489.2 L786.22,488.66 L788.32,488.12 L790.42,487.59 L792.51,487.06 L794.61,486.52 L796.71,485.99 L798.8,485.46 L800.9,484.94 L803,484.41 L805.09,483.89 L807.19,483.36 L809.29,482.84 L811.38,482.32 L813.48,481.8 L815.58,481.29 L817.68,480.77 L819.77,480.26 L821.87,479.75 L823.97,479.24 L826.06,478.73 L828.16,478.22 L830.26,477.72 L832.35,477.22 L834.45,476.71 L836.55,476.21 L838.64,475.72 L840.74,475.22 L842.84,474.73 L844.93,474.23 L847.03,473.74 L849.13,473.26 L851.23,472.77 L853.32,472.28 L855.42,471.8 L857.52,471.32 L859.61,470.84 L861.71,470.37 L863.81,469.89 L865.9,469.42 L868,468.95" fill="none" stroke="#ff1a1a" stroke-width="1.0" stroke-dasharray="6 2.8" stroke-linejoin="round"/>
<path d="M534.6,675.67 L535.33,672.21 L536.07,668.78 L536.7,665.84 L536.8,665.37 L537.53,662 L538.26,658.65 L538.79,656.25 L539,655.34 L539.73,652.05 L540.46,648.79 L540.89,646.87 L541.19,645.48 L541.93,642.11 L542.66,638.74 L542.99,637.25 L543.39,635.42 L544.13,632.23 L544.86,629.21 L545.08,628.33 L545.59,626.44 L546.32,623.96 L547.06,621.67 L547.18,621.3 L547.79,619.6 L548.52,617.83 L549.25,616.32 L549.28,616.28 L549.99,614.9 L550.72,613.55 L551.37,612.39 L551.45,612.26 L552.19,611.03 L552.92,609.86 L553.47,609.01 L553.65,608.74 L554.38,607.66 L555.12,606.62 L555.57,605.99 L555.85,605.61 L556.58,604.63 L557.32,603.67 L557.67,603.22 L558.05,602.73 L558.78,601.8 L559.51,600.88 L559.76,600.57 L560.25,599.96 L560.98,599.03 L561.71,598.09 L561.86,597.9 L562.44,597.14 L563.18,596.16 L563.96,595.11 L566.05,592.32 L568.15,589.59 L570.25,586.94 L572.34,584.41 L574.44,582 L576.54,579.74 L578.63,577.61 L580.73,575.58 L582.83,573.62 L584.92,571.69 L587.02,569.76 L589.12,567.8 L591.22,565.81 L593.31,563.82 L595.41,561.84 L597.51,559.87 L599.6,557.91 L601.7,555.96 L603.8,553.96 L605.89,551.93 L607.99,549.93 L610.09,548.03 L612.18,546.29 L614.28,544.74 L616.38,543.29 L618.47,541.94 L620.57,540.7 L622.67,539.57 L624.76,538.56 L626.86,537.66 L628.96,536.84 L631.06,536.05 L633.15,535.27 L635.25,534.51 L637.35,533.76 L639.44,533.02 L641.54,532.3 L643.64,531.59 L645.73,530.9 L647.83,530.23 L649.93,529.58 L652.02,528.94 L654.12,528.33 L656.22,527.73 L658.31,527.16 L660.41,526.62 L662.51,526.09 L664.61,525.59 L666.7,525.11 L668.8,524.65 L670.9,524.2 L672.99,523.77 L675.09,523.35 L677.19,522.93 L679.28,522.52 L681.38,522.11 L683.48,521.69 L685.57,521.28 L687.67,520.85 L689.77,520.42 L691.86,519.98 L693.96,519.52 L696.06,519.05 L698.15,518.56 L700.25,518.08 L702.35,517.59 L704.45,517.09 L706.54,516.59 L708.64,516.08 L710.74,515.57 L712.83,515.06 L714.93,514.55 L717.03,514.03 L719.12,513.5 L721.22,512.98 L723.32,512.45 L725.41,511.92 L727.51,511.39 L729.61,510.86 L731.7,510.33 L733.8,509.79 L735.9,509.25 L737.99,508.72 L740.09,508.18 L742.19,507.64 L744.29,507.11 L746.38,506.57 L748.48,506.03 L750.58,505.5 L752.67,504.97 L754.77,504.43 L756.87,503.9 L758.96,503.37 L761.06,502.85 L763.16,502.33 L765.25,501.8 L767.35,501.29 L769.45,500.77 L771.54,500.26 L773.64,499.75 L775.74,499.24 L777.84,498.73 L779.93,498.22 L782.03,497.71 L784.13,497.2 L786.22,496.69 L788.32,496.18 L790.42,495.67 L792.51,495.16 L794.61,494.66 L796.71,494.15 L798.8,493.64 L800.9,493.14 L803,492.63 L805.09,492.13 L807.19,491.62 L809.29,491.12 L811.38,490.61 L813.48,490.11 L815.58,489.61 L817.68,489.1 L819.77,488.6 L821.87,488.1 L823.97,487.6 L826.06,487.1 L828.16,486.6 L830.26,486.1 L832.35,485.6 L834.45,485.1 L836.55,484.6 L838.64,484.1 L840.74,483.61 L842.84,483.11 L844.93,482.61 L847.03,482.12 L849.13,481.62 L851.23,481.13 L853.32,480.63 L855.42,480.14 L857.52,479.64 L859.61,479.15 L861.71,478.66 L863.81,478.17 L865.9,477.67 L868,477.18" fill="none" stroke="#ff1a1a" stroke-width="1.0" stroke-dasharray="4 1.5 1.3 1.5" stroke-linejoin="round"/>
<path d="M557.22,608.91 L557.38,608.75 L557.53,608.59 L557.68,608.43 L557.83,608.27 L557.99,608.11 L558.14,607.95 L558.29,607.79 L558.44,607.63 L558.6,607.47 L558.75,607.31 L558.9,607.15 L559.06,606.99 L559.18,606.86 L559.21,606.83 L559.36,606.67 L559.51,606.51 L559.67,606.35 L559.82,606.19 L559.97,606.03 L560.12,605.87 L560.28,605.71 L560.43,605.55 L560.58,605.39 L560.73,605.23 L560.89,605.07 L561.04,604.91 L561.13,604.82 L561.19,604.76 L561.35,604.6 L561.5,604.44 L561.65,604.28 L561.8,604.12 L561.96,603.96 L562.11,603.8 L562.26,603.64 L562.41,603.48 L562.57,603.32 L562.72,603.16 L562.87,603.01 L563.02,602.85 L563.09,602.78 L563.18,602.69 L565.04,600.76 L567,598.75 L568.95,596.75 L570.91,594.77 L572.86,592.8 L574.81,590.84 L576.77,588.9 L578.72,586.97 L580.68,585.08 L582.63,583.22 L584.59,581.36 L586.54,579.52 L588.5,577.71 L590.45,575.95 L592.41,574.27 L594.36,572.66 L596.31,571.09 L598.27,569.56 L600.22,568.09 L602.18,566.69 L604.13,565.37 L606.09,564.16 L608.04,562.99 L610,561.86 L611.95,560.77 L613.91,559.74 L615.86,558.77 L617.82,557.86 L619.77,557.04 L621.72,556.3 L623.68,555.64 L625.63,555.02 L627.59,554.45 L629.54,553.92 L631.5,553.4 L633.45,552.91 L635.41,552.42 L637.36,551.93 L639.32,551.43 L641.27,550.94 L643.22,550.45 L645.18,549.98 L647.13,549.51 L649.09,549.05 L651.04,548.61 L653,548.18 L654.95,547.76 L656.91,547.36 L658.86,546.98 L660.82,546.6 L662.77,546.24 L664.72,545.88 L666.68,545.52 L668.63,545.17 L670.59,544.81 L672.54,544.45 L674.5,544.08 L676.45,543.71 L678.41,543.33 L680.36,542.96 L682.32,542.59 L684.27,542.21 L686.23,541.84 L688.18,541.46 L690.13,541.09 L692.09,540.71 L694.04,540.34 L696,539.96 L697.95,539.59 L699.91,539.21 L701.86,538.83 L703.82,538.46 L705.77,538.08 L707.73,537.7 L709.68,537.33 L711.63,536.95 L713.59,536.57 L715.54,536.19 L717.5,535.82 L719.45,535.44 L721.41,535.06 L723.36,534.68 L725.32,534.31 L727.27,533.93 L729.23,533.55 L731.18,533.17 L733.13,532.79 L735.09,532.42 L737.04,532.04 L739,531.66 L740.95,531.28 L742.91,530.91 L744.86,530.53 L746.82,530.15 L748.77,529.77 L750.73,529.4 L752.68,529.02 L754.64,528.64 L756.59,528.27 L758.54,527.89 L760.5,527.51 L762.45,527.14 L764.41,526.76 L766.36,526.39 L768.32,526.01 L770.27,525.64 L772.23,525.26 L774.18,524.89 L776.14,524.51 L778.09,524.14 L780.04,523.76 L782,523.39 L783.95,523.01 L785.91,522.64 L787.86,522.26 L789.82,521.89 L791.77,521.52 L793.73,521.14 L795.68,520.77 L797.64,520.39 L799.59,520.02 L801.54,519.65 L803.5,519.27 L805.45,518.9 L807.41,518.53 L809.36,518.16 L811.32,517.79 L813.27,517.42 L815.23,517.05 L817.18,516.68 L819.14,516.31 L821.09,515.95 L823.04,515.58 L825,515.21 L826.95,514.85 L828.91,514.48 L830.86,514.12 L832.82,513.75 L834.77,513.39 L836.73,513.02 L838.68,512.66 L840.64,512.3 L842.59,511.94 L844.55,511.57 L846.5,511.21 L848.45,510.85 L850.41,510.49 L852.36,510.13 L854.32,509.77 L856.27,509.41 L858.23,509.06 L860.18,508.7 L862.14,508.34 L864.09,507.98 L866.05,507.63 L868,507.27" fill="none" stroke="#ff1aff" stroke-width="1.0" stroke-linejoin="round"/>
</g>
<rect x="534.6" y="421.7" width="333.4" height="286" fill="none" stroke="#686868" stroke-width="1.75"/>
<path d="M582.23,707.7 V702.9 M629.86,707.7 V702.9 M677.49,707.7 V702.9 M725.11,707.7 V702.9 M772.74,707.7 V702.9 M820.37,707.7 V702.9 M534.6,650.5 H539.6 M534.6,593.3 H539.6 M534.6,536.1 H539.6 M534.6,478.9 H539.6" stroke="#2a2a2a" stroke-width="1.05" fill="none"/>
<text x="534.6" y="724.2" class="tk" text-anchor="middle">0</text>
<text x="582.23" y="724.2" class="tk" text-anchor="middle">200</text>
<text x="629.86" y="724.2" class="tk" text-anchor="middle">400</text>
<text x="677.49" y="724.2" class="tk" text-anchor="middle">600</text>
<text x="725.11" y="724.2" class="tk" text-anchor="middle">800</text>
<text x="772.74" y="724.2" class="tk" text-anchor="middle">1000</text>
<text x="820.37" y="724.2" class="tk" text-anchor="middle">1200</text>
<text x="868" y="724.2" class="tk" text-anchor="middle">1400</text>
<text x="528.6" y="712" class="tk" text-anchor="end">0</text>
<text x="528.6" y="654.8" class="tk" text-anchor="end">500</text>
<text x="528.6" y="597.6" class="tk" text-anchor="end">1000</text>
<text x="528.6" y="540.4" class="tk" text-anchor="end">1500</text>
<text x="528.6" y="483.2" class="tk" text-anchor="end">2000</text>
<text x="528.6" y="426" class="tk" text-anchor="end">2500</text>
<text x="701.6" y="741.5" class="ax" text-anchor="middle" style="font-size:16.7px">Depth (km)</text>
<text transform="translate(494.4,563.9) rotate(-90)" class="ax" text-anchor="middle" style="font-size:17.1px">Temperature (K)</text>
<text x="465.1" y="415.9" class="pl">(d)</text>
<rect x="567.9" y="679" width="53.38" height="19.4" fill="#fff" stroke="#3a3a3a" stroke-width="1.25"/><text transform="translate(570,693.7) scale(1,1.13)" class="pp">500 ppm</text>
<rect x="92.2" y="36.3" width="22.6" height="10.4" fill="#c0c0c0" stroke="#8c8c8c" stroke-width="1"/>
<path d="M92.2,54.1 H115.6" fill="none" stroke="#222" stroke-width="1.0" stroke-linejoin="round"/>
<path d="M92.2,66.7 H114.8" fill="none" stroke="#222" stroke-width="1.0" stroke-dasharray="4.5 4.1" stroke-linejoin="round"/>
<path d="M92.2,79.3 H115.6" fill="none" stroke="#1ae6f0" stroke-width="1.0" stroke-linejoin="round"/>
<path d="M92.2,91.8 H114.8" fill="none" stroke="#1ae6f0" stroke-width="1.0" stroke-dasharray="4.5 4.1" stroke-linejoin="round"/>
<text x="121.0" y="45.1" class="lg">Hood et al. (1982)</text>
<text x="121.0" y="57.7" class="lg">KLB-1 solidus-Song et al. (2025)-dry</text>
<text x="121.0" y="70.3" class="lg">KLB-1 solidus-Song et al. (2025)-300 ppm</text>
<text x="121.0" y="82.9" class="lg">Harzburgite solidus-Maaløe. (2004)</text>
<text x="121.0" y="95.4" class="lg">Harzburgite solidus-Maaløe. (2004)-300 ppm</text>
<path d="M259.4,234.3 H287.8" fill="none" stroke="#ff1a1a" stroke-width="1.0" stroke-linejoin="round"/>
<text x="293.1" y="237.9" class="lg" style="font-size:10.15px">This study</text>
<path d="M259.4,247.3 H287.8" fill="none" stroke="#ff1aff" stroke-width="1.0" stroke-linejoin="round"/>
<text x="293.1" y="250.9" class="lg" style="font-size:10.15px">Guo et al. (2024)</text>
<path d="M259.4,259.9 H287.8" fill="none" stroke="#2a2aff" stroke-width="1.0" stroke-dasharray="4.5 3" stroke-linejoin="round"/>
<text x="293.1" y="263.5" class="lg" style="font-size:10.15px">Zhang et al. (2019a)-dry</text>
<path d="M259.4,272.6 H287.8" fill="none" stroke="#2a2aff" stroke-width="1.0" stroke-dasharray="1.2 1.0" stroke-linejoin="round"/>
<text x="293.1" y="276.2" class="lg" style="font-size:10.15px">Zhang et al. (2019a)-0.08 wt%</text>
<path d="M259.4,285.3 H287.8" fill="none" stroke="#40d840" stroke-width="1.0" stroke-linejoin="round"/>
<text x="293.1" y="288.9" class="lg" style="font-size:10.15px">Karato (2013)-dry</text>
<path d="M259.4,298.0 H287.8" fill="none" stroke="#40d840" stroke-width="1.0" stroke-dasharray="4 3" stroke-linejoin="round"/>
<text x="293.1" y="301.6" class="lg" style="font-size:10.15px">Karato (2013)-0.01 wt%</text>
<path d="M259.4,310.8 H287.8" fill="none" stroke="#40d840" stroke-width="1.0" stroke-dasharray="1.8 1.4" stroke-linejoin="round"/>
<text x="293.1" y="314.4" class="lg" style="font-size:10.15px">Karato (2013)-0.1 wt%</text>
<path d="M684.6,605.4 H713.4" fill="none" stroke="#ff1a1a" stroke-width="1.0" stroke-linejoin="round"/>
<text x="720.6" y="611" class="lg2" font-style="italic">D</text>
<text x="728.9" y="604.5" class="lg2" textLength="32.3" lengthAdjust="spacingAndGlyphs">Ol/Opx</text>
<text x="728.9" y="615.9" class="lg2">H</text>
<text x="761.4" y="611" class="lg2" textLength="27.0" lengthAdjust="spacingAndGlyphs">=0.25,</text>
<text x="790.6" y="611" class="lg2" font-style="italic">V</text>
<text x="796" y="613.6" class="lg2" textLength="10.6" lengthAdjust="spacingAndGlyphs">Ol</text>
<text x="807.3" y="611" class="lg2">:</text>
<text x="809.6" y="611" class="lg2" font-style="italic">V</text>
<text x="815.9" y="613.6" class="lg2" textLength="18.2" lengthAdjust="spacingAndGlyphs">Opx</text>
<text x="834.4" y="611" class="lg2" textLength="29.0" lengthAdjust="spacingAndGlyphs">=60:40</text>
<path d="M684.6,633.2 H713.4" fill="none" stroke="#ff1a1a" stroke-width="1.0" stroke-dasharray="4.6 2.6 1.2 3.3" stroke-linejoin="round"/>
<text x="720.6" y="638.8" class="lg2" font-style="italic">D</text>
<text x="728.9" y="632.3" class="lg2" textLength="32.3" lengthAdjust="spacingAndGlyphs">Ol/Opx</text>
<text x="728.9" y="643.7" class="lg2">H</text>
<text x="761.4" y="638.8" class="lg2" textLength="27.0" lengthAdjust="spacingAndGlyphs">=0.25,</text>
<text x="790.6" y="638.8" class="lg2" font-style="italic">V</text>
<text x="796" y="641.4" class="lg2" textLength="10.6" lengthAdjust="spacingAndGlyphs">Ol</text>
<text x="807.3" y="638.8" class="lg2">:</text>
<text x="809.6" y="638.8" class="lg2" font-style="italic">V</text>
<text x="815.9" y="641.4" class="lg2" textLength="18.2" lengthAdjust="spacingAndGlyphs">Opx</text>
<text x="834.4" y="638.8" class="lg2" textLength="29.0" lengthAdjust="spacingAndGlyphs">=80:20</text>
<path d="M684.6,660.8 H713.4" fill="none" stroke="#ff1a1a" stroke-width="1.0" stroke-dasharray="2.7 1.4" stroke-linejoin="round"/>
<text x="720.6" y="666.4" class="lg2" font-style="italic">D</text>
<text x="728.9" y="659.9" class="lg2" textLength="32.3" lengthAdjust="spacingAndGlyphs">Ol/Opx</text>
<text x="728.9" y="671.3" class="lg2">H</text>
<text x="761.4" y="666.4" class="lg2" textLength="27.0" lengthAdjust="spacingAndGlyphs">=0.15,</text>
<text x="790.6" y="666.4" class="lg2" font-style="italic">V</text>
<text x="796" y="669" class="lg2" textLength="10.6" lengthAdjust="spacingAndGlyphs">Ol</text>
<text x="807.3" y="666.4" class="lg2">:</text>
<text x="809.6" y="666.4" class="lg2" font-style="italic">V</text>
<text x="815.9" y="669" class="lg2" textLength="18.2" lengthAdjust="spacingAndGlyphs">Opx</text>
<text x="834.4" y="666.4" class="lg2" textLength="29.0" lengthAdjust="spacingAndGlyphs">=60:40</text>
<path d="M684.6,688.3 H713.4" fill="none" stroke="#ff1a1a" stroke-width="1.0" stroke-dasharray="8.6 3.1" stroke-linejoin="round"/>
<text x="720.6" y="693.9" class="lg2" font-style="italic">D</text>
<text x="728.9" y="687.4" class="lg2" textLength="32.3" lengthAdjust="spacingAndGlyphs">Ol/Opx</text>
<text x="728.9" y="698.8" class="lg2">H</text>
<text x="761.4" y="693.9" class="lg2" textLength="27.0" lengthAdjust="spacingAndGlyphs">=0.15,</text>
<text x="790.6" y="693.9" class="lg2" font-style="italic">V</text>
<text x="796" y="696.5" class="lg2" textLength="10.6" lengthAdjust="spacingAndGlyphs">Ol</text>
<text x="807.3" y="693.9" class="lg2">:</text>
<text x="809.6" y="693.9" class="lg2" font-style="italic">V</text>
<text x="815.9" y="696.5" class="lg2" textLength="18.2" lengthAdjust="spacingAndGlyphs">Opx</text>
<text x="834.4" y="693.9" class="lg2" textLength="29.0" lengthAdjust="spacingAndGlyphs">=80:20</text>
</svg>
</body></html>
